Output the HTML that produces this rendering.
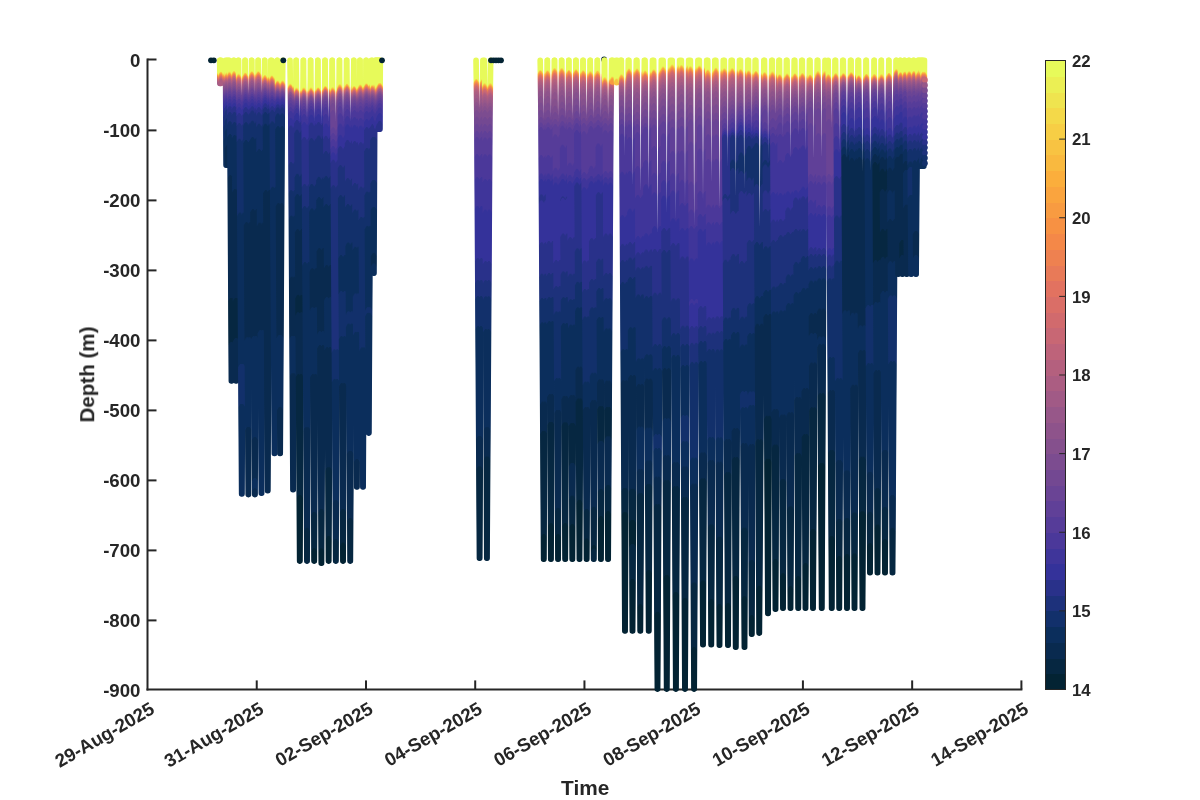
<!DOCTYPE html><html><head><meta charset="utf-8"><title>Glider temperature section</title><style>html,body{margin:0;padding:0;background:#fff}body{width:1200px;height:800px;overflow:hidden}svg{display:block}</style></head><body><svg width="1200" height="800" viewBox="0 0 1200 800">
<defs>
<linearGradient id="g0" gradientUnits="userSpaceOnUse" x1="0" y1="57.5" x2="0" y2="86.2"><stop offset="0.000" stop-color="#e7fa5a"/><stop offset="0.565" stop-color="#e7fa5a"/><stop offset="0.586" stop-color="#f4d949"/><stop offset="0.628" stop-color="#fbae3c"/><stop offset="0.669" stop-color="#f48848"/><stop offset="0.711" stop-color="#e27260"/><stop offset="0.816" stop-color="#b4607e"/><stop offset="0.837" stop-color="#b4607e"/><stop offset="0.879" stop-color="#a15a86"/><stop offset="1.000" stop-color="#a15a86"/></linearGradient>
<path id="p0" d="M219.70 60.3L219.86 83.4H219.94L220.10 60.3"/>
<linearGradient id="g0a" href="#g0" gradientTransform="translate(0 -1.1)"/>
<linearGradient id="g0b" href="#g0" gradientTransform="translate(0 -2.2)"/>
<linearGradient id="g0c" href="#g0" gradientTransform="translate(0 -3.1)"/>
<linearGradient id="g1" gradientUnits="userSpaceOnUse" x1="0" y1="57.5" x2="0" y2="86.2"><stop offset="0.000" stop-color="#e7fa5a"/><stop offset="0.586" stop-color="#e7fa5a"/><stop offset="0.607" stop-color="#ebef54"/><stop offset="0.628" stop-color="#f7ce45"/><stop offset="0.669" stop-color="#faa43e"/><stop offset="0.690" stop-color="#f79143"/><stop offset="0.711" stop-color="#f48848"/><stop offset="0.753" stop-color="#e27260"/><stop offset="0.879" stop-color="#ab5d82"/><stop offset="1.000" stop-color="#ab5d82"/></linearGradient>
<path id="p1" d="M220.60 60.3L220.84 83.4H220.96L221.20 60.3"/>
<linearGradient id="g1a" href="#g1" gradientTransform="translate(0 -1.1)"/>
<linearGradient id="g1b" href="#g1" gradientTransform="translate(0 -2.2)"/>
<linearGradient id="g1c" href="#g1" gradientTransform="translate(0 -3.1)"/>
<linearGradient id="g2" gradientUnits="userSpaceOnUse" x1="0" y1="57.5" x2="0" y2="168.0"><stop offset="0.000" stop-color="#e7fa5a"/><stop offset="0.152" stop-color="#e7fa5a"/><stop offset="0.157" stop-color="#ebef54"/><stop offset="0.163" stop-color="#f7ce45"/><stop offset="0.174" stop-color="#faa43e"/><stop offset="0.179" stop-color="#f79143"/><stop offset="0.185" stop-color="#f48848"/><stop offset="0.195" stop-color="#e27260"/><stop offset="0.223" stop-color="#b4607e"/><stop offset="0.228" stop-color="#b4607e"/><stop offset="0.239" stop-color="#a15a86"/><stop offset="0.244" stop-color="#a15a86"/><stop offset="0.250" stop-color="#975789"/><stop offset="0.261" stop-color="#975789"/><stop offset="0.266" stop-color="#8e538b"/><stop offset="0.277" stop-color="#8e538b"/><stop offset="0.282" stop-color="#85508d"/><stop offset="0.288" stop-color="#85508d"/><stop offset="0.293" stop-color="#7c4c90"/><stop offset="0.304" stop-color="#7c4c90"/><stop offset="0.309" stop-color="#734892"/><stop offset="0.320" stop-color="#734892"/><stop offset="0.326" stop-color="#6a4495"/><stop offset="0.337" stop-color="#6a4495"/><stop offset="0.342" stop-color="#604098"/><stop offset="0.358" stop-color="#604098"/><stop offset="0.364" stop-color="#563c99"/><stop offset="0.385" stop-color="#563c99"/><stop offset="0.391" stop-color="#4b389a"/><stop offset="0.407" stop-color="#4b389a"/><stop offset="0.413" stop-color="#3f359a"/><stop offset="0.445" stop-color="#3f359a"/><stop offset="0.451" stop-color="#34329a"/><stop offset="0.478" stop-color="#34329a"/><stop offset="0.483" stop-color="#29318a"/><stop offset="0.538" stop-color="#29318a"/><stop offset="0.543" stop-color="#1d317b"/><stop offset="0.630" stop-color="#1d317b"/><stop offset="0.635" stop-color="#12306b"/><stop offset="0.749" stop-color="#12306b"/><stop offset="0.755" stop-color="#0b2e5c"/><stop offset="1.000" stop-color="#0b2e5c"/></linearGradient>
<path id="p2" d="M225.50 60.3L226.10 165.2H226.40L227.00 60.3"/>
<linearGradient id="g2a" href="#g2" gradientTransform="translate(0 -1.1)"/>
<linearGradient id="g2b" href="#g2" gradientTransform="translate(0 -2.2)"/>
<linearGradient id="g2c" href="#g2" gradientTransform="translate(0 -3.1)"/>
<linearGradient id="g3" gradientUnits="userSpaceOnUse" x1="0" y1="57.5" x2="0" y2="168.0"><stop offset="0.000" stop-color="#e7fa5a"/><stop offset="0.157" stop-color="#e7fa5a"/><stop offset="0.163" stop-color="#ebef54"/><stop offset="0.168" stop-color="#f7ce45"/><stop offset="0.179" stop-color="#faa43e"/><stop offset="0.190" stop-color="#ee8150"/><stop offset="0.201" stop-color="#e27260"/><stop offset="0.206" stop-color="#d16a6d"/><stop offset="0.223" stop-color="#b4607e"/><stop offset="0.228" stop-color="#b4607e"/><stop offset="0.239" stop-color="#a15a86"/><stop offset="0.244" stop-color="#a15a86"/><stop offset="0.250" stop-color="#975789"/><stop offset="0.255" stop-color="#975789"/><stop offset="0.261" stop-color="#8e538b"/><stop offset="0.271" stop-color="#8e538b"/><stop offset="0.277" stop-color="#85508d"/><stop offset="0.282" stop-color="#85508d"/><stop offset="0.288" stop-color="#7c4c90"/><stop offset="0.299" stop-color="#7c4c90"/><stop offset="0.304" stop-color="#734892"/><stop offset="0.315" stop-color="#734892"/><stop offset="0.320" stop-color="#6a4495"/><stop offset="0.331" stop-color="#6a4495"/><stop offset="0.337" stop-color="#604098"/><stop offset="0.347" stop-color="#604098"/><stop offset="0.353" stop-color="#563c99"/><stop offset="0.369" stop-color="#563c99"/><stop offset="0.375" stop-color="#4b389a"/><stop offset="0.391" stop-color="#4b389a"/><stop offset="0.396" stop-color="#3f359a"/><stop offset="0.423" stop-color="#3f359a"/><stop offset="0.429" stop-color="#34329a"/><stop offset="0.456" stop-color="#34329a"/><stop offset="0.461" stop-color="#29318a"/><stop offset="0.494" stop-color="#29318a"/><stop offset="0.500" stop-color="#1d317b"/><stop offset="0.576" stop-color="#1d317b"/><stop offset="0.581" stop-color="#12306b"/><stop offset="0.668" stop-color="#12306b"/><stop offset="0.673" stop-color="#0b2e5c"/><stop offset="0.814" stop-color="#0b2e5c"/><stop offset="0.820" stop-color="#092a4f"/><stop offset="1.000" stop-color="#092a4f"/></linearGradient>
<path id="p3" d="M227.00 60.3L227.65 165.2H227.95L228.50 60.3"/>
<linearGradient id="g3a" href="#g3" gradientTransform="translate(0 -1.1)"/>
<linearGradient id="g3b" href="#g3" gradientTransform="translate(0 -2.2)"/>
<linearGradient id="g3c" href="#g3" gradientTransform="translate(0 -3.1)"/>
<linearGradient id="g4" gradientUnits="userSpaceOnUse" x1="0" y1="57.5" x2="0" y2="383.8"><stop offset="0.000" stop-color="#e7fa5a"/><stop offset="0.051" stop-color="#e7fa5a"/><stop offset="0.053" stop-color="#ebef54"/><stop offset="0.057" stop-color="#f8c342"/><stop offset="0.059" stop-color="#faa43e"/><stop offset="0.061" stop-color="#f89b41"/><stop offset="0.063" stop-color="#f48848"/><stop offset="0.066" stop-color="#e27260"/><stop offset="0.077" stop-color="#ab5d82"/><stop offset="0.079" stop-color="#ab5d82"/><stop offset="0.081" stop-color="#a15a86"/><stop offset="0.083" stop-color="#a15a86"/><stop offset="0.085" stop-color="#975789"/><stop offset="0.086" stop-color="#975789"/><stop offset="0.088" stop-color="#8e538b"/><stop offset="0.092" stop-color="#8e538b"/><stop offset="0.094" stop-color="#85508d"/><stop offset="0.097" stop-color="#85508d"/><stop offset="0.099" stop-color="#7c4c90"/><stop offset="0.101" stop-color="#7c4c90"/><stop offset="0.103" stop-color="#734892"/><stop offset="0.107" stop-color="#734892"/><stop offset="0.108" stop-color="#6a4495"/><stop offset="0.112" stop-color="#6a4495"/><stop offset="0.114" stop-color="#604098"/><stop offset="0.120" stop-color="#604098"/><stop offset="0.121" stop-color="#563c99"/><stop offset="0.127" stop-color="#563c99"/><stop offset="0.129" stop-color="#4b389a"/><stop offset="0.136" stop-color="#4b389a"/><stop offset="0.138" stop-color="#3f359a"/><stop offset="0.147" stop-color="#3f359a"/><stop offset="0.149" stop-color="#34329a"/><stop offset="0.158" stop-color="#34329a"/><stop offset="0.160" stop-color="#29318a"/><stop offset="0.175" stop-color="#29318a"/><stop offset="0.177" stop-color="#1d317b"/><stop offset="0.204" stop-color="#1d317b"/><stop offset="0.206" stop-color="#12306b"/><stop offset="0.243" stop-color="#12306b"/><stop offset="0.245" stop-color="#0b2e5c"/><stop offset="0.370" stop-color="#0b2e5c"/><stop offset="0.371" stop-color="#092a4f"/><stop offset="0.745" stop-color="#092a4f"/><stop offset="0.747" stop-color="#062741"/><stop offset="0.881" stop-color="#062741"/><stop offset="0.883" stop-color="#092a4f"/><stop offset="1.000" stop-color="#092a4f"/></linearGradient>
<path id="p4" d="M229.30 60.3L229.86 116.3L231.36 381.0H231.66L233.17 116.3L233.72 60.3"/>
<linearGradient id="g4a" href="#g4" gradientTransform="translate(0 -1.1)"/>
<linearGradient id="g4b" href="#g4" gradientTransform="translate(0 -2.2)"/>
<linearGradient id="g4c" href="#g4" gradientTransform="translate(0 -3.1)"/>
<linearGradient id="g5" gradientUnits="userSpaceOnUse" x1="0" y1="57.5" x2="0" y2="383.8"><stop offset="0.000" stop-color="#e7fa5a"/><stop offset="0.050" stop-color="#e7fa5a"/><stop offset="0.051" stop-color="#ebef54"/><stop offset="0.053" stop-color="#f7ce45"/><stop offset="0.057" stop-color="#faa43e"/><stop offset="0.061" stop-color="#ee8150"/><stop offset="0.066" stop-color="#da6e67"/><stop offset="0.068" stop-color="#c86774"/><stop offset="0.070" stop-color="#c86774"/><stop offset="0.075" stop-color="#ab5d82"/><stop offset="0.077" stop-color="#ab5d82"/><stop offset="0.079" stop-color="#a15a86"/><stop offset="0.081" stop-color="#a15a86"/><stop offset="0.083" stop-color="#975789"/><stop offset="0.085" stop-color="#975789"/><stop offset="0.086" stop-color="#8e538b"/><stop offset="0.090" stop-color="#8e538b"/><stop offset="0.092" stop-color="#85508d"/><stop offset="0.096" stop-color="#85508d"/><stop offset="0.097" stop-color="#7c4c90"/><stop offset="0.101" stop-color="#7c4c90"/><stop offset="0.103" stop-color="#734892"/><stop offset="0.107" stop-color="#734892"/><stop offset="0.108" stop-color="#6a4495"/><stop offset="0.112" stop-color="#6a4495"/><stop offset="0.114" stop-color="#604098"/><stop offset="0.120" stop-color="#604098"/><stop offset="0.121" stop-color="#563c99"/><stop offset="0.127" stop-color="#563c99"/><stop offset="0.129" stop-color="#4b389a"/><stop offset="0.136" stop-color="#4b389a"/><stop offset="0.138" stop-color="#3f359a"/><stop offset="0.147" stop-color="#3f359a"/><stop offset="0.149" stop-color="#34329a"/><stop offset="0.158" stop-color="#34329a"/><stop offset="0.160" stop-color="#29318a"/><stop offset="0.175" stop-color="#29318a"/><stop offset="0.177" stop-color="#1d317b"/><stop offset="0.206" stop-color="#1d317b"/><stop offset="0.208" stop-color="#12306b"/><stop offset="0.246" stop-color="#12306b"/><stop offset="0.248" stop-color="#0b2e5c"/><stop offset="0.412" stop-color="#0b2e5c"/><stop offset="0.414" stop-color="#092a4f"/><stop offset="0.747" stop-color="#092a4f"/><stop offset="0.748" stop-color="#062741"/><stop offset="0.868" stop-color="#062741"/><stop offset="0.870" stop-color="#092a4f"/><stop offset="1.000" stop-color="#092a4f"/></linearGradient>
<path id="p5" d="M233.92 60.3L234.48 116.3L235.99 381.0H236.29L237.79 116.3L238.35 60.3"/>
<linearGradient id="g5a" href="#g5" gradientTransform="translate(0 -1.1)"/>
<linearGradient id="g5b" href="#g5" gradientTransform="translate(0 -2.2)"/>
<linearGradient id="g5c" href="#g5" gradientTransform="translate(0 -3.1)"/>
<linearGradient id="g6" gradientUnits="userSpaceOnUse" x1="0" y1="57.5" x2="0" y2="496.7"><stop offset="0.000" stop-color="#e7fa5a"/><stop offset="0.042" stop-color="#e7fa5a"/><stop offset="0.044" stop-color="#ebef54"/><stop offset="0.048" stop-color="#fbae3c"/><stop offset="0.051" stop-color="#f48848"/><stop offset="0.053" stop-color="#e27260"/><stop offset="0.059" stop-color="#be637a"/><stop offset="0.060" stop-color="#be637a"/><stop offset="0.063" stop-color="#ab5d82"/><stop offset="0.064" stop-color="#ab5d82"/><stop offset="0.066" stop-color="#a15a86"/><stop offset="0.067" stop-color="#a15a86"/><stop offset="0.068" stop-color="#975789"/><stop offset="0.071" stop-color="#975789"/><stop offset="0.072" stop-color="#8e538b"/><stop offset="0.074" stop-color="#8e538b"/><stop offset="0.075" stop-color="#85508d"/><stop offset="0.078" stop-color="#85508d"/><stop offset="0.079" stop-color="#7c4c90"/><stop offset="0.081" stop-color="#7c4c90"/><stop offset="0.082" stop-color="#734892"/><stop offset="0.085" stop-color="#734892"/><stop offset="0.086" stop-color="#6a4495"/><stop offset="0.090" stop-color="#6a4495"/><stop offset="0.092" stop-color="#604098"/><stop offset="0.096" stop-color="#604098"/><stop offset="0.097" stop-color="#563c99"/><stop offset="0.101" stop-color="#563c99"/><stop offset="0.102" stop-color="#4b389a"/><stop offset="0.111" stop-color="#4b389a"/><stop offset="0.112" stop-color="#3f359a"/><stop offset="0.119" stop-color="#3f359a"/><stop offset="0.120" stop-color="#34329a"/><stop offset="0.133" stop-color="#34329a"/><stop offset="0.134" stop-color="#29318a"/><stop offset="0.156" stop-color="#29318a"/><stop offset="0.157" stop-color="#1d317b"/><stop offset="0.191" stop-color="#1d317b"/><stop offset="0.193" stop-color="#12306b"/><stop offset="0.359" stop-color="#12306b"/><stop offset="0.361" stop-color="#0b2e5c"/><stop offset="0.705" stop-color="#0b2e5c"/><stop offset="0.706" stop-color="#12306b"/><stop offset="0.795" stop-color="#12306b"/><stop offset="0.796" stop-color="#0b2e5c"/><stop offset="1.000" stop-color="#0b2e5c"/></linearGradient>
<path id="p6" d="M238.50 60.3L239.28 116.3L241.65 493.9H241.95L244.32 116.3L245.10 60.3"/>
<linearGradient id="g6a" href="#g6" gradientTransform="translate(0 -1.1)"/>
<linearGradient id="g6b" href="#g6" gradientTransform="translate(0 -2.2)"/>
<linearGradient id="g6c" href="#g6" gradientTransform="translate(0 -3.1)"/>
<linearGradient id="g7" gradientUnits="userSpaceOnUse" x1="0" y1="57.5" x2="0" y2="497.4"><stop offset="0.000" stop-color="#e7fa5a"/><stop offset="0.041" stop-color="#e7fa5a"/><stop offset="0.042" stop-color="#f4d949"/><stop offset="0.045" stop-color="#fbae3c"/><stop offset="0.048" stop-color="#f48848"/><stop offset="0.050" stop-color="#e27260"/><stop offset="0.057" stop-color="#b4607e"/><stop offset="0.059" stop-color="#b4607e"/><stop offset="0.061" stop-color="#a15a86"/><stop offset="0.063" stop-color="#a15a86"/><stop offset="0.064" stop-color="#975789"/><stop offset="0.067" stop-color="#975789"/><stop offset="0.068" stop-color="#8e538b"/><stop offset="0.070" stop-color="#8e538b"/><stop offset="0.071" stop-color="#85508d"/><stop offset="0.074" stop-color="#85508d"/><stop offset="0.075" stop-color="#7c4c90"/><stop offset="0.076" stop-color="#7c4c90"/><stop offset="0.078" stop-color="#734892"/><stop offset="0.080" stop-color="#734892"/><stop offset="0.082" stop-color="#6a4495"/><stop offset="0.085" stop-color="#6a4495"/><stop offset="0.086" stop-color="#604098"/><stop offset="0.090" stop-color="#604098"/><stop offset="0.091" stop-color="#563c99"/><stop offset="0.095" stop-color="#563c99"/><stop offset="0.097" stop-color="#4b389a"/><stop offset="0.101" stop-color="#4b389a"/><stop offset="0.102" stop-color="#3f359a"/><stop offset="0.109" stop-color="#3f359a"/><stop offset="0.110" stop-color="#34329a"/><stop offset="0.119" stop-color="#34329a"/><stop offset="0.120" stop-color="#29318a"/><stop offset="0.131" stop-color="#29318a"/><stop offset="0.132" stop-color="#1d317b"/><stop offset="0.154" stop-color="#1d317b"/><stop offset="0.155" stop-color="#12306b"/><stop offset="0.194" stop-color="#12306b"/><stop offset="0.195" stop-color="#0b2e5c"/><stop offset="0.381" stop-color="#0b2e5c"/><stop offset="0.382" stop-color="#092a4f"/><stop offset="0.642" stop-color="#092a4f"/><stop offset="0.644" stop-color="#0b2e5c"/><stop offset="0.846" stop-color="#0b2e5c"/><stop offset="0.847" stop-color="#092a4f"/><stop offset="1.000" stop-color="#092a4f"/></linearGradient>
<path id="p7" d="M245.10 60.3L245.88 116.3L248.25 494.6H248.55L250.88 116.3L251.65 60.3"/>
<linearGradient id="g7a" href="#g7" gradientTransform="translate(0 -1.1)"/>
<linearGradient id="g7b" href="#g7" gradientTransform="translate(0 -2.2)"/>
<linearGradient id="g7c" href="#g7" gradientTransform="translate(0 -3.1)"/>
<linearGradient id="g8" gradientUnits="userSpaceOnUse" x1="0" y1="57.5" x2="0" y2="497.4"><stop offset="0.000" stop-color="#e7fa5a"/><stop offset="0.037" stop-color="#e7fa5a"/><stop offset="0.038" stop-color="#ebef54"/><stop offset="0.040" stop-color="#f4d949"/><stop offset="0.041" stop-color="#f9b93f"/><stop offset="0.042" stop-color="#faa43e"/><stop offset="0.044" stop-color="#f89b41"/><stop offset="0.045" stop-color="#f48848"/><stop offset="0.048" stop-color="#e27260"/><stop offset="0.055" stop-color="#b4607e"/><stop offset="0.056" stop-color="#b4607e"/><stop offset="0.059" stop-color="#a15a86"/><stop offset="0.060" stop-color="#a15a86"/><stop offset="0.061" stop-color="#975789"/><stop offset="0.064" stop-color="#975789"/><stop offset="0.065" stop-color="#8e538b"/><stop offset="0.068" stop-color="#8e538b"/><stop offset="0.070" stop-color="#85508d"/><stop offset="0.072" stop-color="#85508d"/><stop offset="0.074" stop-color="#7c4c90"/><stop offset="0.075" stop-color="#7c4c90"/><stop offset="0.076" stop-color="#734892"/><stop offset="0.079" stop-color="#734892"/><stop offset="0.080" stop-color="#6a4495"/><stop offset="0.085" stop-color="#6a4495"/><stop offset="0.086" stop-color="#604098"/><stop offset="0.089" stop-color="#604098"/><stop offset="0.090" stop-color="#563c99"/><stop offset="0.094" stop-color="#563c99"/><stop offset="0.095" stop-color="#4b389a"/><stop offset="0.101" stop-color="#4b389a"/><stop offset="0.102" stop-color="#3f359a"/><stop offset="0.109" stop-color="#3f359a"/><stop offset="0.110" stop-color="#34329a"/><stop offset="0.117" stop-color="#34329a"/><stop offset="0.119" stop-color="#29318a"/><stop offset="0.127" stop-color="#29318a"/><stop offset="0.128" stop-color="#1d317b"/><stop offset="0.150" stop-color="#1d317b"/><stop offset="0.151" stop-color="#12306b"/><stop offset="0.187" stop-color="#12306b"/><stop offset="0.188" stop-color="#0b2e5c"/><stop offset="0.351" stop-color="#0b2e5c"/><stop offset="0.352" stop-color="#092a4f"/><stop offset="0.640" stop-color="#092a4f"/><stop offset="0.641" stop-color="#0b2e5c"/><stop offset="0.869" stop-color="#0b2e5c"/><stop offset="0.870" stop-color="#092a4f"/><stop offset="0.962" stop-color="#092a4f"/><stop offset="0.963" stop-color="#0b2e5c"/><stop offset="0.986" stop-color="#0b2e5c"/><stop offset="0.987" stop-color="#092a4f"/><stop offset="1.000" stop-color="#092a4f"/></linearGradient>
<path id="p8" d="M251.65 60.3L252.42 116.3L254.75 494.6H255.05L257.42 116.3L258.20 60.3"/>
<linearGradient id="g8a" href="#g8" gradientTransform="translate(0 -1.1)"/>
<linearGradient id="g8b" href="#g8" gradientTransform="translate(0 -2.2)"/>
<linearGradient id="g8c" href="#g8" gradientTransform="translate(0 -3.1)"/>
<linearGradient id="g9" gradientUnits="userSpaceOnUse" x1="0" y1="57.5" x2="0" y2="496.0"><stop offset="0.000" stop-color="#e7fa5a"/><stop offset="0.037" stop-color="#e7fa5a"/><stop offset="0.038" stop-color="#ebef54"/><stop offset="0.040" stop-color="#f4d949"/><stop offset="0.041" stop-color="#f9b93f"/><stop offset="0.042" stop-color="#faa43e"/><stop offset="0.044" stop-color="#f89b41"/><stop offset="0.045" stop-color="#f48848"/><stop offset="0.048" stop-color="#e27260"/><stop offset="0.053" stop-color="#be637a"/><stop offset="0.055" stop-color="#be637a"/><stop offset="0.057" stop-color="#ab5d82"/><stop offset="0.059" stop-color="#ab5d82"/><stop offset="0.060" stop-color="#a15a86"/><stop offset="0.062" stop-color="#a15a86"/><stop offset="0.063" stop-color="#975789"/><stop offset="0.064" stop-color="#975789"/><stop offset="0.066" stop-color="#8e538b"/><stop offset="0.070" stop-color="#8e538b"/><stop offset="0.071" stop-color="#85508d"/><stop offset="0.073" stop-color="#85508d"/><stop offset="0.074" stop-color="#7c4c90"/><stop offset="0.077" stop-color="#7c4c90"/><stop offset="0.078" stop-color="#734892"/><stop offset="0.081" stop-color="#734892"/><stop offset="0.082" stop-color="#6a4495"/><stop offset="0.085" stop-color="#6a4495"/><stop offset="0.086" stop-color="#604098"/><stop offset="0.090" stop-color="#604098"/><stop offset="0.092" stop-color="#563c99"/><stop offset="0.096" stop-color="#563c99"/><stop offset="0.097" stop-color="#4b389a"/><stop offset="0.103" stop-color="#4b389a"/><stop offset="0.104" stop-color="#3f359a"/><stop offset="0.111" stop-color="#3f359a"/><stop offset="0.112" stop-color="#34329a"/><stop offset="0.119" stop-color="#34329a"/><stop offset="0.120" stop-color="#29318a"/><stop offset="0.131" stop-color="#29318a"/><stop offset="0.133" stop-color="#1d317b"/><stop offset="0.157" stop-color="#1d317b"/><stop offset="0.159" stop-color="#12306b"/><stop offset="0.215" stop-color="#12306b"/><stop offset="0.216" stop-color="#0b2e5c"/><stop offset="0.383" stop-color="#0b2e5c"/><stop offset="0.384" stop-color="#092a4f"/><stop offset="0.628" stop-color="#092a4f"/><stop offset="0.629" stop-color="#0b2e5c"/><stop offset="1.000" stop-color="#0b2e5c"/></linearGradient>
<path id="p9" d="M258.20 60.3L258.98 116.3L261.35 493.2H261.65L263.94 116.3L264.70 60.3"/>
<linearGradient id="g9a" href="#g9" gradientTransform="translate(0 -1.1)"/>
<linearGradient id="g9b" href="#g9" gradientTransform="translate(0 -2.2)"/>
<linearGradient id="g9c" href="#g9" gradientTransform="translate(0 -3.1)"/>
<linearGradient id="g10" gradientUnits="userSpaceOnUse" x1="0" y1="57.5" x2="0" y2="493.6"><stop offset="0.000" stop-color="#e7fa5a"/><stop offset="0.047" stop-color="#e7fa5a"/><stop offset="0.048" stop-color="#f4d949"/><stop offset="0.051" stop-color="#fbae3c"/><stop offset="0.054" stop-color="#f48848"/><stop offset="0.056" stop-color="#e27260"/><stop offset="0.058" stop-color="#da6e67"/><stop offset="0.059" stop-color="#c86774"/><stop offset="0.062" stop-color="#b4607e"/><stop offset="0.063" stop-color="#b4607e"/><stop offset="0.067" stop-color="#975789"/><stop offset="0.069" stop-color="#975789"/><stop offset="0.070" stop-color="#8e538b"/><stop offset="0.072" stop-color="#8e538b"/><stop offset="0.073" stop-color="#85508d"/><stop offset="0.074" stop-color="#85508d"/><stop offset="0.076" stop-color="#7c4c90"/><stop offset="0.077" stop-color="#7c4c90"/><stop offset="0.078" stop-color="#734892"/><stop offset="0.080" stop-color="#734892"/><stop offset="0.081" stop-color="#6a4495"/><stop offset="0.084" stop-color="#6a4495"/><stop offset="0.085" stop-color="#604098"/><stop offset="0.088" stop-color="#604098"/><stop offset="0.089" stop-color="#563c99"/><stop offset="0.092" stop-color="#563c99"/><stop offset="0.094" stop-color="#4b389a"/><stop offset="0.098" stop-color="#4b389a"/><stop offset="0.099" stop-color="#3f359a"/><stop offset="0.103" stop-color="#3f359a"/><stop offset="0.105" stop-color="#34329a"/><stop offset="0.111" stop-color="#34329a"/><stop offset="0.113" stop-color="#29318a"/><stop offset="0.120" stop-color="#29318a"/><stop offset="0.121" stop-color="#1d317b"/><stop offset="0.132" stop-color="#1d317b"/><stop offset="0.133" stop-color="#12306b"/><stop offset="0.158" stop-color="#12306b"/><stop offset="0.160" stop-color="#0b2e5c"/><stop offset="0.310" stop-color="#0b2e5c"/><stop offset="0.311" stop-color="#092a4f"/><stop offset="1.000" stop-color="#092a4f"/></linearGradient>
<path id="p10" d="M264.70 60.3L265.44 116.3L267.55 490.8H267.85L270.05 116.3L270.80 60.3"/>
<linearGradient id="g10a" href="#g10" gradientTransform="translate(0 -1.1)"/>
<linearGradient id="g10b" href="#g10" gradientTransform="translate(0 -2.2)"/>
<linearGradient id="g10c" href="#g10" gradientTransform="translate(0 -3.1)"/>
<linearGradient id="g11" gradientUnits="userSpaceOnUse" x1="0" y1="57.5" x2="0" y2="456.2"><stop offset="0.000" stop-color="#e7fa5a"/><stop offset="0.051" stop-color="#e7fa5a"/><stop offset="0.053" stop-color="#ebef54"/><stop offset="0.054" stop-color="#f4d949"/><stop offset="0.056" stop-color="#f9b93f"/><stop offset="0.059" stop-color="#f79143"/><stop offset="0.060" stop-color="#f48848"/><stop offset="0.063" stop-color="#e27260"/><stop offset="0.072" stop-color="#ab5d82"/><stop offset="0.074" stop-color="#ab5d82"/><stop offset="0.077" stop-color="#975789"/><stop offset="0.078" stop-color="#975789"/><stop offset="0.080" stop-color="#8e538b"/><stop offset="0.081" stop-color="#8e538b"/><stop offset="0.083" stop-color="#85508d"/><stop offset="0.084" stop-color="#85508d"/><stop offset="0.086" stop-color="#7c4c90"/><stop offset="0.087" stop-color="#7c4c90"/><stop offset="0.089" stop-color="#734892"/><stop offset="0.092" stop-color="#734892"/><stop offset="0.093" stop-color="#6a4495"/><stop offset="0.095" stop-color="#6a4495"/><stop offset="0.096" stop-color="#604098"/><stop offset="0.101" stop-color="#604098"/><stop offset="0.102" stop-color="#563c99"/><stop offset="0.105" stop-color="#563c99"/><stop offset="0.107" stop-color="#4b389a"/><stop offset="0.111" stop-color="#4b389a"/><stop offset="0.113" stop-color="#3f359a"/><stop offset="0.120" stop-color="#3f359a"/><stop offset="0.122" stop-color="#34329a"/><stop offset="0.129" stop-color="#34329a"/><stop offset="0.131" stop-color="#29318a"/><stop offset="0.138" stop-color="#29318a"/><stop offset="0.140" stop-color="#1d317b"/><stop offset="0.167" stop-color="#1d317b"/><stop offset="0.169" stop-color="#12306b"/><stop offset="0.331" stop-color="#12306b"/><stop offset="0.333" stop-color="#0b2e5c"/><stop offset="1.000" stop-color="#0b2e5c"/></linearGradient>
<path id="p11" d="M271.70 60.3L272.28 116.3L274.35 453.4H274.65L276.59 116.3L277.15 60.3"/>
<linearGradient id="g11a" href="#g11" gradientTransform="translate(0 -1.1)"/>
<linearGradient id="g11b" href="#g11" gradientTransform="translate(0 -2.2)"/>
<linearGradient id="g11c" href="#g11" gradientTransform="translate(0 -3.1)"/>
<linearGradient id="g12" gradientUnits="userSpaceOnUse" x1="0" y1="57.5" x2="0" y2="456.2"><stop offset="0.000" stop-color="#e7fa5a"/><stop offset="0.065" stop-color="#e7fa5a"/><stop offset="0.066" stop-color="#efe44f"/><stop offset="0.068" stop-color="#f8c342"/><stop offset="0.069" stop-color="#fbae3c"/><stop offset="0.072" stop-color="#f48848"/><stop offset="0.075" stop-color="#e27260"/><stop offset="0.077" stop-color="#d16a6d"/><stop offset="0.086" stop-color="#975789"/><stop offset="0.089" stop-color="#85508d"/><stop offset="0.090" stop-color="#85508d"/><stop offset="0.093" stop-color="#734892"/><stop offset="0.095" stop-color="#734892"/><stop offset="0.096" stop-color="#6a4495"/><stop offset="0.098" stop-color="#6a4495"/><stop offset="0.099" stop-color="#604098"/><stop offset="0.102" stop-color="#604098"/><stop offset="0.104" stop-color="#563c99"/><stop offset="0.105" stop-color="#563c99"/><stop offset="0.107" stop-color="#4b389a"/><stop offset="0.110" stop-color="#4b389a"/><stop offset="0.111" stop-color="#3f359a"/><stop offset="0.117" stop-color="#3f359a"/><stop offset="0.119" stop-color="#34329a"/><stop offset="0.125" stop-color="#34329a"/><stop offset="0.126" stop-color="#29318a"/><stop offset="0.132" stop-color="#29318a"/><stop offset="0.134" stop-color="#1d317b"/><stop offset="0.147" stop-color="#1d317b"/><stop offset="0.149" stop-color="#12306b"/><stop offset="0.179" stop-color="#12306b"/><stop offset="0.181" stop-color="#0b2e5c"/><stop offset="0.372" stop-color="#0b2e5c"/><stop offset="0.373" stop-color="#092a4f"/><stop offset="0.703" stop-color="#092a4f"/><stop offset="0.704" stop-color="#0b2e5c"/><stop offset="0.883" stop-color="#0b2e5c"/><stop offset="0.885" stop-color="#092a4f"/><stop offset="1.000" stop-color="#092a4f"/></linearGradient>
<path id="p12" d="M277.35 60.3L277.92 116.3L279.95 453.4H280.25L282.24 116.3L282.80 60.3"/>
<linearGradient id="g12a" href="#g12" gradientTransform="translate(0 -1.1)"/>
<linearGradient id="g12b" href="#g12" gradientTransform="translate(0 -2.2)"/>
<linearGradient id="g12c" href="#g12" gradientTransform="translate(0 -3.1)"/>
<linearGradient id="g13" gradientUnits="userSpaceOnUse" x1="0" y1="57.5" x2="0" y2="492.5"><stop offset="0.000" stop-color="#e7fa5a"/><stop offset="0.066" stop-color="#e7fa5a"/><stop offset="0.068" stop-color="#ebef54"/><stop offset="0.069" stop-color="#f4d949"/><stop offset="0.070" stop-color="#f9b93f"/><stop offset="0.073" stop-color="#f79143"/><stop offset="0.074" stop-color="#ee8150"/><stop offset="0.076" stop-color="#e87a58"/><stop offset="0.077" stop-color="#da6e67"/><stop offset="0.086" stop-color="#a15a86"/><stop offset="0.088" stop-color="#8e538b"/><stop offset="0.090" stop-color="#8e538b"/><stop offset="0.091" stop-color="#85508d"/><stop offset="0.092" stop-color="#85508d"/><stop offset="0.094" stop-color="#7c4c90"/><stop offset="0.097" stop-color="#7c4c90"/><stop offset="0.098" stop-color="#734892"/><stop offset="0.099" stop-color="#734892"/><stop offset="0.101" stop-color="#6a4495"/><stop offset="0.105" stop-color="#6a4495"/><stop offset="0.106" stop-color="#604098"/><stop offset="0.112" stop-color="#604098"/><stop offset="0.113" stop-color="#563c99"/><stop offset="0.120" stop-color="#563c99"/><stop offset="0.121" stop-color="#4b389a"/><stop offset="0.130" stop-color="#4b389a"/><stop offset="0.131" stop-color="#3f359a"/><stop offset="0.145" stop-color="#3f359a"/><stop offset="0.146" stop-color="#34329a"/><stop offset="0.163" stop-color="#34329a"/><stop offset="0.164" stop-color="#29318a"/><stop offset="0.247" stop-color="#29318a"/><stop offset="0.248" stop-color="#1d317b"/><stop offset="0.312" stop-color="#1d317b"/><stop offset="0.313" stop-color="#12306b"/><stop offset="0.370" stop-color="#12306b"/><stop offset="0.371" stop-color="#0b2e5c"/><stop offset="0.510" stop-color="#0b2e5c"/><stop offset="0.512" stop-color="#092a4f"/><stop offset="0.647" stop-color="#092a4f"/><stop offset="0.648" stop-color="#0b2e5c"/><stop offset="0.732" stop-color="#0b2e5c"/><stop offset="0.734" stop-color="#092a4f"/><stop offset="1.000" stop-color="#092a4f"/></linearGradient>
<path id="p13" d="M290.00 60.3L290.75 116.3L292.94 489.7H293.24L295.43 116.3L296.18 60.3"/>
<linearGradient id="g13a" href="#g13" gradientTransform="translate(0 -1.1)"/>
<linearGradient id="g13b" href="#g13" gradientTransform="translate(0 -2.2)"/>
<linearGradient id="g13c" href="#g13" gradientTransform="translate(0 -3.1)"/>
<linearGradient id="g14" gradientUnits="userSpaceOnUse" x1="0" y1="57.5" x2="0" y2="563.9"><stop offset="0.000" stop-color="#e7fa5a"/><stop offset="0.065" stop-color="#e7fa5a"/><stop offset="0.066" stop-color="#efe44f"/><stop offset="0.068" stop-color="#f8c342"/><stop offset="0.069" stop-color="#fbae3c"/><stop offset="0.070" stop-color="#f79143"/><stop offset="0.072" stop-color="#e27260"/><stop offset="0.073" stop-color="#da6e67"/><stop offset="0.075" stop-color="#c86774"/><stop offset="0.083" stop-color="#85508d"/><stop offset="0.084" stop-color="#85508d"/><stop offset="0.086" stop-color="#734892"/><stop offset="0.088" stop-color="#734892"/><stop offset="0.089" stop-color="#6a4495"/><stop offset="0.091" stop-color="#6a4495"/><stop offset="0.092" stop-color="#604098"/><stop offset="0.095" stop-color="#604098"/><stop offset="0.096" stop-color="#563c99"/><stop offset="0.100" stop-color="#563c99"/><stop offset="0.101" stop-color="#4b389a"/><stop offset="0.105" stop-color="#4b389a"/><stop offset="0.107" stop-color="#3f359a"/><stop offset="0.115" stop-color="#3f359a"/><stop offset="0.116" stop-color="#34329a"/><stop offset="0.129" stop-color="#34329a"/><stop offset="0.130" stop-color="#29318a"/><stop offset="0.148" stop-color="#29318a"/><stop offset="0.149" stop-color="#1d317b"/><stop offset="0.235" stop-color="#1d317b"/><stop offset="0.236" stop-color="#12306b"/><stop offset="0.275" stop-color="#12306b"/><stop offset="0.276" stop-color="#0b2e5c"/><stop offset="0.344" stop-color="#0b2e5c"/><stop offset="0.345" stop-color="#092a4f"/><stop offset="0.474" stop-color="#092a4f"/><stop offset="0.475" stop-color="#062741"/><stop offset="0.508" stop-color="#062741"/><stop offset="0.510" stop-color="#092a4f"/><stop offset="0.630" stop-color="#092a4f"/><stop offset="0.632" stop-color="#062741"/><stop offset="0.870" stop-color="#062741"/><stop offset="0.871" stop-color="#032333"/><stop offset="1.000" stop-color="#032333"/></linearGradient>
<path id="p14" d="M296.20 60.3L296.96 116.3L299.65 561.1H299.95L302.64 116.3L303.40 60.3"/>
<linearGradient id="g14a" href="#g14" gradientTransform="translate(0 -1.1)"/>
<linearGradient id="g14b" href="#g14" gradientTransform="translate(0 -2.2)"/>
<linearGradient id="g14c" href="#g14" gradientTransform="translate(0 -3.1)"/>
<linearGradient id="g15" gradientUnits="userSpaceOnUse" x1="0" y1="57.5" x2="0" y2="563.9"><stop offset="0.000" stop-color="#e7fa5a"/><stop offset="0.065" stop-color="#e7fa5a"/><stop offset="0.066" stop-color="#f4d949"/><stop offset="0.068" stop-color="#f8c342"/><stop offset="0.069" stop-color="#faa43e"/><stop offset="0.071" stop-color="#ee8150"/><stop offset="0.072" stop-color="#e87a58"/><stop offset="0.073" stop-color="#da6e67"/><stop offset="0.075" stop-color="#d16a6d"/><stop offset="0.076" stop-color="#be637a"/><stop offset="0.081" stop-color="#975789"/><stop offset="0.082" stop-color="#975789"/><stop offset="0.084" stop-color="#85508d"/><stop offset="0.085" stop-color="#85508d"/><stop offset="0.086" stop-color="#7c4c90"/><stop offset="0.088" stop-color="#7c4c90"/><stop offset="0.089" stop-color="#734892"/><stop offset="0.091" stop-color="#734892"/><stop offset="0.092" stop-color="#6a4495"/><stop offset="0.095" stop-color="#6a4495"/><stop offset="0.096" stop-color="#604098"/><stop offset="0.101" stop-color="#604098"/><stop offset="0.102" stop-color="#563c99"/><stop offset="0.107" stop-color="#563c99"/><stop offset="0.108" stop-color="#4b389a"/><stop offset="0.117" stop-color="#4b389a"/><stop offset="0.118" stop-color="#3f359a"/><stop offset="0.133" stop-color="#3f359a"/><stop offset="0.134" stop-color="#34329a"/><stop offset="0.162" stop-color="#34329a"/><stop offset="0.164" stop-color="#29318a"/><stop offset="0.255" stop-color="#29318a"/><stop offset="0.256" stop-color="#1d317b"/><stop offset="0.299" stop-color="#1d317b"/><stop offset="0.300" stop-color="#12306b"/><stop offset="0.410" stop-color="#12306b"/><stop offset="0.411" stop-color="#0b2e5c"/><stop offset="0.736" stop-color="#0b2e5c"/><stop offset="0.737" stop-color="#092a4f"/><stop offset="0.934" stop-color="#092a4f"/><stop offset="0.935" stop-color="#062741"/><stop offset="1.000" stop-color="#062741"/></linearGradient>
<path id="p15" d="M303.40 60.3L304.16 116.3L306.85 561.1H307.15L309.84 116.3L310.60 60.3"/>
<linearGradient id="g15a" href="#g15" gradientTransform="translate(0 -1.1)"/>
<linearGradient id="g15b" href="#g15" gradientTransform="translate(0 -2.2)"/>
<linearGradient id="g15c" href="#g15" gradientTransform="translate(0 -3.1)"/>
<linearGradient id="g16" gradientUnits="userSpaceOnUse" x1="0" y1="57.5" x2="0" y2="563.9"><stop offset="0.000" stop-color="#e7fa5a"/><stop offset="0.065" stop-color="#e7fa5a"/><stop offset="0.066" stop-color="#f4d949"/><stop offset="0.068" stop-color="#f8c342"/><stop offset="0.069" stop-color="#faa43e"/><stop offset="0.071" stop-color="#ee8150"/><stop offset="0.072" stop-color="#e27260"/><stop offset="0.073" stop-color="#da6e67"/><stop offset="0.075" stop-color="#c86774"/><stop offset="0.083" stop-color="#85508d"/><stop offset="0.084" stop-color="#85508d"/><stop offset="0.085" stop-color="#7c4c90"/><stop offset="0.086" stop-color="#7c4c90"/><stop offset="0.088" stop-color="#734892"/><stop offset="0.089" stop-color="#734892"/><stop offset="0.090" stop-color="#6a4495"/><stop offset="0.091" stop-color="#6a4495"/><stop offset="0.092" stop-color="#604098"/><stop offset="0.096" stop-color="#604098"/><stop offset="0.097" stop-color="#563c99"/><stop offset="0.101" stop-color="#563c99"/><stop offset="0.102" stop-color="#4b389a"/><stop offset="0.108" stop-color="#4b389a"/><stop offset="0.109" stop-color="#3f359a"/><stop offset="0.118" stop-color="#3f359a"/><stop offset="0.120" stop-color="#34329a"/><stop offset="0.134" stop-color="#34329a"/><stop offset="0.135" stop-color="#29318a"/><stop offset="0.165" stop-color="#29318a"/><stop offset="0.166" stop-color="#1d317b"/><stop offset="0.255" stop-color="#1d317b"/><stop offset="0.256" stop-color="#12306b"/><stop offset="0.303" stop-color="#12306b"/><stop offset="0.305" stop-color="#0b2e5c"/><stop offset="0.422" stop-color="#0b2e5c"/><stop offset="0.423" stop-color="#092a4f"/><stop offset="0.499" stop-color="#092a4f"/><stop offset="0.500" stop-color="#0b2e5c"/><stop offset="0.630" stop-color="#0b2e5c"/><stop offset="0.632" stop-color="#092a4f"/><stop offset="0.903" stop-color="#092a4f"/><stop offset="0.904" stop-color="#062741"/><stop offset="0.974" stop-color="#062741"/><stop offset="0.975" stop-color="#032333"/><stop offset="1.000" stop-color="#032333"/></linearGradient>
<path id="p16" d="M310.60 60.3L311.36 116.3L314.05 561.1H314.35L317.04 116.3L317.80 60.3"/>
<linearGradient id="g16a" href="#g16" gradientTransform="translate(0 -1.1)"/>
<linearGradient id="g16b" href="#g16" gradientTransform="translate(0 -2.2)"/>
<linearGradient id="g16c" href="#g16" gradientTransform="translate(0 -3.1)"/>
<linearGradient id="g17" gradientUnits="userSpaceOnUse" x1="0" y1="57.5" x2="0" y2="566.0"><stop offset="0.000" stop-color="#e7fa5a"/><stop offset="0.064" stop-color="#e7fa5a"/><stop offset="0.065" stop-color="#ebef54"/><stop offset="0.066" stop-color="#f7ce45"/><stop offset="0.067" stop-color="#f9b93f"/><stop offset="0.068" stop-color="#f89b41"/><stop offset="0.070" stop-color="#f48848"/><stop offset="0.072" stop-color="#da6e67"/><stop offset="0.074" stop-color="#c86774"/><stop offset="0.076" stop-color="#b4607e"/><stop offset="0.080" stop-color="#8e538b"/><stop offset="0.081" stop-color="#8e538b"/><stop offset="0.084" stop-color="#7c4c90"/><stop offset="0.085" stop-color="#7c4c90"/><stop offset="0.086" stop-color="#734892"/><stop offset="0.087" stop-color="#734892"/><stop offset="0.089" stop-color="#6a4495"/><stop offset="0.091" stop-color="#6a4495"/><stop offset="0.092" stop-color="#604098"/><stop offset="0.094" stop-color="#604098"/><stop offset="0.096" stop-color="#563c99"/><stop offset="0.100" stop-color="#563c99"/><stop offset="0.101" stop-color="#4b389a"/><stop offset="0.106" stop-color="#4b389a"/><stop offset="0.107" stop-color="#3f359a"/><stop offset="0.117" stop-color="#3f359a"/><stop offset="0.118" stop-color="#34329a"/><stop offset="0.132" stop-color="#34329a"/><stop offset="0.133" stop-color="#29318a"/><stop offset="0.159" stop-color="#29318a"/><stop offset="0.160" stop-color="#1d317b"/><stop offset="0.240" stop-color="#1d317b"/><stop offset="0.241" stop-color="#12306b"/><stop offset="0.280" stop-color="#12306b"/><stop offset="0.281" stop-color="#0b2e5c"/><stop offset="0.380" stop-color="#0b2e5c"/><stop offset="0.381" stop-color="#092a4f"/><stop offset="0.544" stop-color="#092a4f"/><stop offset="0.545" stop-color="#0b2e5c"/><stop offset="0.571" stop-color="#0b2e5c"/><stop offset="0.572" stop-color="#092a4f"/><stop offset="0.893" stop-color="#092a4f"/><stop offset="0.894" stop-color="#062741"/><stop offset="0.971" stop-color="#062741"/><stop offset="0.972" stop-color="#032333"/><stop offset="1.000" stop-color="#032333"/></linearGradient>
<path id="p17" d="M317.80 60.3L318.56 116.3L321.26 563.2H321.56L324.27 116.3L325.03 60.3"/>
<linearGradient id="g17a" href="#g17" gradientTransform="translate(0 -1.1)"/>
<linearGradient id="g17b" href="#g17" gradientTransform="translate(0 -2.2)"/>
<linearGradient id="g17c" href="#g17" gradientTransform="translate(0 -3.1)"/>
<linearGradient id="g18" gradientUnits="userSpaceOnUse" x1="0" y1="57.5" x2="0" y2="563.9"><stop offset="0.000" stop-color="#e7fa5a"/><stop offset="0.062" stop-color="#e7fa5a"/><stop offset="0.063" stop-color="#f4d949"/><stop offset="0.064" stop-color="#f8c342"/><stop offset="0.065" stop-color="#faa43e"/><stop offset="0.068" stop-color="#ee8150"/><stop offset="0.069" stop-color="#e27260"/><stop offset="0.070" stop-color="#da6e67"/><stop offset="0.071" stop-color="#c86774"/><stop offset="0.077" stop-color="#975789"/><stop offset="0.078" stop-color="#975789"/><stop offset="0.081" stop-color="#85508d"/><stop offset="0.082" stop-color="#85508d"/><stop offset="0.083" stop-color="#7c4c90"/><stop offset="0.084" stop-color="#7c4c90"/><stop offset="0.085" stop-color="#734892"/><stop offset="0.086" stop-color="#734892"/><stop offset="0.088" stop-color="#6a4495"/><stop offset="0.091" stop-color="#6a4495"/><stop offset="0.092" stop-color="#604098"/><stop offset="0.097" stop-color="#604098"/><stop offset="0.098" stop-color="#563c99"/><stop offset="0.104" stop-color="#563c99"/><stop offset="0.105" stop-color="#4b389a"/><stop offset="0.117" stop-color="#4b389a"/><stop offset="0.118" stop-color="#3f359a"/><stop offset="0.136" stop-color="#3f359a"/><stop offset="0.137" stop-color="#34329a"/><stop offset="0.160" stop-color="#34329a"/><stop offset="0.161" stop-color="#29318a"/><stop offset="0.190" stop-color="#29318a"/><stop offset="0.191" stop-color="#1d317b"/><stop offset="0.239" stop-color="#1d317b"/><stop offset="0.241" stop-color="#12306b"/><stop offset="0.295" stop-color="#12306b"/><stop offset="0.296" stop-color="#0b2e5c"/><stop offset="0.415" stop-color="#0b2e5c"/><stop offset="0.416" stop-color="#092a4f"/><stop offset="0.479" stop-color="#092a4f"/><stop offset="0.480" stop-color="#0b2e5c"/><stop offset="0.577" stop-color="#0b2e5c"/><stop offset="0.578" stop-color="#092a4f"/><stop offset="0.815" stop-color="#092a4f"/><stop offset="0.816" stop-color="#062741"/><stop offset="0.950" stop-color="#062741"/><stop offset="0.951" stop-color="#032333"/><stop offset="1.000" stop-color="#032333"/></linearGradient>
<path id="p18" d="M325.03 60.3L325.79 116.3L328.48 561.1H328.78L331.47 116.3L332.23 60.3"/>
<linearGradient id="g18a" href="#g18" gradientTransform="translate(0 -1.1)"/>
<linearGradient id="g18b" href="#g18" gradientTransform="translate(0 -2.2)"/>
<linearGradient id="g18c" href="#g18" gradientTransform="translate(0 -3.1)"/>
<linearGradient id="g19" gradientUnits="userSpaceOnUse" x1="0" y1="57.5" x2="0" y2="563.9"><stop offset="0.000" stop-color="#e7fa5a"/><stop offset="0.064" stop-color="#e7fa5a"/><stop offset="0.065" stop-color="#ebef54"/><stop offset="0.066" stop-color="#f7ce45"/><stop offset="0.068" stop-color="#f9b93f"/><stop offset="0.069" stop-color="#f89b41"/><stop offset="0.070" stop-color="#f79143"/><stop offset="0.072" stop-color="#e27260"/><stop offset="0.079" stop-color="#ab5d82"/><stop offset="0.081" stop-color="#a15a86"/><stop offset="0.082" stop-color="#a15a86"/><stop offset="0.084" stop-color="#8e538b"/><stop offset="0.086" stop-color="#8e538b"/><stop offset="0.088" stop-color="#85508d"/><stop offset="0.090" stop-color="#85508d"/><stop offset="0.091" stop-color="#7c4c90"/><stop offset="0.096" stop-color="#7c4c90"/><stop offset="0.097" stop-color="#734892"/><stop offset="0.109" stop-color="#734892"/><stop offset="0.110" stop-color="#6a4495"/><stop offset="0.143" stop-color="#6a4495"/><stop offset="0.145" stop-color="#604098"/><stop offset="0.155" stop-color="#604098"/><stop offset="0.156" stop-color="#563c99"/><stop offset="0.167" stop-color="#563c99"/><stop offset="0.168" stop-color="#4b389a"/><stop offset="0.180" stop-color="#4b389a"/><stop offset="0.181" stop-color="#3f359a"/><stop offset="0.193" stop-color="#3f359a"/><stop offset="0.194" stop-color="#34329a"/><stop offset="0.207" stop-color="#34329a"/><stop offset="0.209" stop-color="#29318a"/><stop offset="0.258" stop-color="#29318a"/><stop offset="0.259" stop-color="#1d317b"/><stop offset="0.582" stop-color="#1d317b"/><stop offset="0.583" stop-color="#12306b"/><stop offset="0.640" stop-color="#12306b"/><stop offset="0.641" stop-color="#0b2e5c"/><stop offset="0.879" stop-color="#0b2e5c"/><stop offset="0.880" stop-color="#092a4f"/><stop offset="0.956" stop-color="#092a4f"/><stop offset="0.957" stop-color="#062741"/><stop offset="1.000" stop-color="#062741"/></linearGradient>
<path id="p19" d="M332.23 60.3L332.99 116.3L335.68 561.1H335.98L338.67 116.3L339.43 60.3"/>
<linearGradient id="g19a" href="#g19" gradientTransform="translate(0 -1.1)"/>
<linearGradient id="g19b" href="#g19" gradientTransform="translate(0 -2.2)"/>
<linearGradient id="g19c" href="#g19" gradientTransform="translate(0 -3.1)"/>
<linearGradient id="g20" gradientUnits="userSpaceOnUse" x1="0" y1="57.5" x2="0" y2="563.9"><stop offset="0.000" stop-color="#e7fa5a"/><stop offset="0.058" stop-color="#e7fa5a"/><stop offset="0.059" stop-color="#ebef54"/><stop offset="0.060" stop-color="#f7ce45"/><stop offset="0.063" stop-color="#faa43e"/><stop offset="0.065" stop-color="#ee8150"/><stop offset="0.066" stop-color="#e27260"/><stop offset="0.068" stop-color="#da6e67"/><stop offset="0.069" stop-color="#c86774"/><stop offset="0.073" stop-color="#a15a86"/><stop offset="0.075" stop-color="#a15a86"/><stop offset="0.077" stop-color="#8e538b"/><stop offset="0.078" stop-color="#8e538b"/><stop offset="0.079" stop-color="#85508d"/><stop offset="0.081" stop-color="#85508d"/><stop offset="0.082" stop-color="#7c4c90"/><stop offset="0.084" stop-color="#7c4c90"/><stop offset="0.085" stop-color="#734892"/><stop offset="0.088" stop-color="#734892"/><stop offset="0.089" stop-color="#6a4495"/><stop offset="0.094" stop-color="#6a4495"/><stop offset="0.095" stop-color="#604098"/><stop offset="0.102" stop-color="#604098"/><stop offset="0.103" stop-color="#563c99"/><stop offset="0.116" stop-color="#563c99"/><stop offset="0.117" stop-color="#4b389a"/><stop offset="0.136" stop-color="#4b389a"/><stop offset="0.137" stop-color="#3f359a"/><stop offset="0.158" stop-color="#3f359a"/><stop offset="0.159" stop-color="#34329a"/><stop offset="0.181" stop-color="#34329a"/><stop offset="0.182" stop-color="#29318a"/><stop offset="0.218" stop-color="#29318a"/><stop offset="0.219" stop-color="#1d317b"/><stop offset="0.277" stop-color="#1d317b"/><stop offset="0.278" stop-color="#12306b"/><stop offset="0.396" stop-color="#12306b"/><stop offset="0.397" stop-color="#0b2e5c"/><stop offset="0.467" stop-color="#0b2e5c"/><stop offset="0.468" stop-color="#12306b"/><stop offset="0.556" stop-color="#12306b"/><stop offset="0.557" stop-color="#0b2e5c"/><stop offset="0.648" stop-color="#0b2e5c"/><stop offset="0.649" stop-color="#092a4f"/><stop offset="0.897" stop-color="#092a4f"/><stop offset="0.898" stop-color="#062741"/><stop offset="0.963" stop-color="#062741"/><stop offset="0.965" stop-color="#032333"/><stop offset="1.000" stop-color="#032333"/></linearGradient>
<path id="p20" d="M339.43 60.3L340.19 116.3L342.88 561.1H343.18L345.87 116.3L346.63 60.3"/>
<linearGradient id="g20a" href="#g20" gradientTransform="translate(0 -1.1)"/>
<linearGradient id="g20b" href="#g20" gradientTransform="translate(0 -2.2)"/>
<linearGradient id="g20c" href="#g20" gradientTransform="translate(0 -3.1)"/>
<linearGradient id="g21" gradientUnits="userSpaceOnUse" x1="0" y1="57.5" x2="0" y2="563.9"><stop offset="0.000" stop-color="#e7fa5a"/><stop offset="0.057" stop-color="#e7fa5a"/><stop offset="0.058" stop-color="#ebef54"/><stop offset="0.059" stop-color="#f7ce45"/><stop offset="0.062" stop-color="#faa43e"/><stop offset="0.064" stop-color="#ee8150"/><stop offset="0.065" stop-color="#e27260"/><stop offset="0.072" stop-color="#ab5d82"/><stop offset="0.076" stop-color="#8e538b"/><stop offset="0.077" stop-color="#8e538b"/><stop offset="0.078" stop-color="#85508d"/><stop offset="0.079" stop-color="#85508d"/><stop offset="0.081" stop-color="#7c4c90"/><stop offset="0.083" stop-color="#7c4c90"/><stop offset="0.084" stop-color="#734892"/><stop offset="0.086" stop-color="#734892"/><stop offset="0.088" stop-color="#6a4495"/><stop offset="0.092" stop-color="#6a4495"/><stop offset="0.094" stop-color="#604098"/><stop offset="0.098" stop-color="#604098"/><stop offset="0.100" stop-color="#563c99"/><stop offset="0.107" stop-color="#563c99"/><stop offset="0.108" stop-color="#4b389a"/><stop offset="0.121" stop-color="#4b389a"/><stop offset="0.122" stop-color="#3f359a"/><stop offset="0.137" stop-color="#3f359a"/><stop offset="0.139" stop-color="#34329a"/><stop offset="0.168" stop-color="#34329a"/><stop offset="0.169" stop-color="#29318a"/><stop offset="0.244" stop-color="#29318a"/><stop offset="0.245" stop-color="#1d317b"/><stop offset="0.295" stop-color="#1d317b"/><stop offset="0.296" stop-color="#12306b"/><stop offset="0.371" stop-color="#12306b"/><stop offset="0.372" stop-color="#0b2e5c"/><stop offset="0.507" stop-color="#0b2e5c"/><stop offset="0.508" stop-color="#12306b"/><stop offset="0.531" stop-color="#12306b"/><stop offset="0.532" stop-color="#0b2e5c"/><stop offset="0.783" stop-color="#0b2e5c"/><stop offset="0.784" stop-color="#092a4f"/><stop offset="0.915" stop-color="#092a4f"/><stop offset="0.916" stop-color="#062741"/><stop offset="1.000" stop-color="#062741"/></linearGradient>
<path id="p21" d="M346.63 60.3L347.39 116.3L350.08 561.1H350.38L353.07 116.3L353.83 60.3"/>
<linearGradient id="g21a" href="#g21" gradientTransform="translate(0 -1.1)"/>
<linearGradient id="g21b" href="#g21" gradientTransform="translate(0 -2.2)"/>
<linearGradient id="g21c" href="#g21" gradientTransform="translate(0 -3.1)"/>
<linearGradient id="g22" gradientUnits="userSpaceOnUse" x1="0" y1="57.5" x2="0" y2="489.7"><stop offset="0.000" stop-color="#e7fa5a"/><stop offset="0.072" stop-color="#e7fa5a"/><stop offset="0.075" stop-color="#f7ce45"/><stop offset="0.076" stop-color="#fbae3c"/><stop offset="0.079" stop-color="#f48848"/><stop offset="0.082" stop-color="#e27260"/><stop offset="0.083" stop-color="#d16a6d"/><stop offset="0.092" stop-color="#975789"/><stop offset="0.093" stop-color="#975789"/><stop offset="0.096" stop-color="#85508d"/><stop offset="0.097" stop-color="#85508d"/><stop offset="0.099" stop-color="#7c4c90"/><stop offset="0.101" stop-color="#7c4c90"/><stop offset="0.103" stop-color="#734892"/><stop offset="0.105" stop-color="#734892"/><stop offset="0.107" stop-color="#6a4495"/><stop offset="0.111" stop-color="#6a4495"/><stop offset="0.112" stop-color="#604098"/><stop offset="0.118" stop-color="#604098"/><stop offset="0.119" stop-color="#563c99"/><stop offset="0.128" stop-color="#563c99"/><stop offset="0.129" stop-color="#4b389a"/><stop offset="0.144" stop-color="#4b389a"/><stop offset="0.146" stop-color="#3f359a"/><stop offset="0.162" stop-color="#3f359a"/><stop offset="0.164" stop-color="#34329a"/><stop offset="0.200" stop-color="#34329a"/><stop offset="0.201" stop-color="#29318a"/><stop offset="0.297" stop-color="#29318a"/><stop offset="0.298" stop-color="#1d317b"/><stop offset="0.358" stop-color="#1d317b"/><stop offset="0.360" stop-color="#12306b"/><stop offset="0.444" stop-color="#12306b"/><stop offset="0.446" stop-color="#0b2e5c"/><stop offset="0.552" stop-color="#0b2e5c"/><stop offset="0.554" stop-color="#12306b"/><stop offset="0.641" stop-color="#12306b"/><stop offset="0.643" stop-color="#0b2e5c"/><stop offset="0.936" stop-color="#0b2e5c"/><stop offset="0.937" stop-color="#092a4f"/><stop offset="1.000" stop-color="#092a4f"/></linearGradient>
<path id="p22" d="M353.80 60.3L354.55 116.3L356.72 486.9H357.02L359.19 116.3L359.94 60.3"/>
<linearGradient id="g22a" href="#g22" gradientTransform="translate(0 -1.1)"/>
<linearGradient id="g22b" href="#g22" gradientTransform="translate(0 -2.2)"/>
<linearGradient id="g22c" href="#g22" gradientTransform="translate(0 -3.1)"/>
<linearGradient id="g23" gradientUnits="userSpaceOnUse" x1="0" y1="57.5" x2="0" y2="489.7"><stop offset="0.000" stop-color="#e7fa5a"/><stop offset="0.069" stop-color="#e7fa5a"/><stop offset="0.071" stop-color="#f4d949"/><stop offset="0.072" stop-color="#f8c342"/><stop offset="0.074" stop-color="#faa43e"/><stop offset="0.076" stop-color="#ee8150"/><stop offset="0.078" stop-color="#e87a58"/><stop offset="0.079" stop-color="#da6e67"/><stop offset="0.087" stop-color="#a15a86"/><stop offset="0.089" stop-color="#975789"/><stop offset="0.090" stop-color="#975789"/><stop offset="0.092" stop-color="#8e538b"/><stop offset="0.093" stop-color="#8e538b"/><stop offset="0.094" stop-color="#85508d"/><stop offset="0.096" stop-color="#85508d"/><stop offset="0.097" stop-color="#7c4c90"/><stop offset="0.099" stop-color="#7c4c90"/><stop offset="0.100" stop-color="#734892"/><stop offset="0.103" stop-color="#734892"/><stop offset="0.104" stop-color="#6a4495"/><stop offset="0.110" stop-color="#6a4495"/><stop offset="0.111" stop-color="#604098"/><stop offset="0.118" stop-color="#604098"/><stop offset="0.119" stop-color="#563c99"/><stop offset="0.128" stop-color="#563c99"/><stop offset="0.129" stop-color="#4b389a"/><stop offset="0.146" stop-color="#4b389a"/><stop offset="0.147" stop-color="#3f359a"/><stop offset="0.164" stop-color="#3f359a"/><stop offset="0.165" stop-color="#34329a"/><stop offset="0.203" stop-color="#34329a"/><stop offset="0.204" stop-color="#29318a"/><stop offset="0.305" stop-color="#29318a"/><stop offset="0.307" stop-color="#1d317b"/><stop offset="0.375" stop-color="#1d317b"/><stop offset="0.376" stop-color="#12306b"/><stop offset="0.677" stop-color="#12306b"/><stop offset="0.679" stop-color="#0b2e5c"/><stop offset="1.000" stop-color="#0b2e5c"/></linearGradient>
<path id="p23" d="M359.94 60.3L360.69 116.3L362.86 486.9H363.16L365.33 116.3L366.08 60.3"/>
<linearGradient id="g23a" href="#g23" gradientTransform="translate(0 -1.1)"/>
<linearGradient id="g23b" href="#g23" gradientTransform="translate(0 -2.2)"/>
<linearGradient id="g23c" href="#g23" gradientTransform="translate(0 -3.1)"/>
<linearGradient id="g24" gradientUnits="userSpaceOnUse" x1="0" y1="57.5" x2="0" y2="435.9"><stop offset="0.000" stop-color="#e7fa5a"/><stop offset="0.076" stop-color="#e7fa5a"/><stop offset="0.079" stop-color="#f9b93f"/><stop offset="0.082" stop-color="#f79143"/><stop offset="0.084" stop-color="#ee8150"/><stop offset="0.086" stop-color="#e87a58"/><stop offset="0.087" stop-color="#da6e67"/><stop offset="0.090" stop-color="#c86774"/><stop offset="0.092" stop-color="#b4607e"/><stop offset="0.094" stop-color="#ab5d82"/><stop offset="0.095" stop-color="#ab5d82"/><stop offset="0.100" stop-color="#8e538b"/><stop offset="0.101" stop-color="#8e538b"/><stop offset="0.103" stop-color="#85508d"/><stop offset="0.105" stop-color="#85508d"/><stop offset="0.106" stop-color="#7c4c90"/><stop offset="0.108" stop-color="#7c4c90"/><stop offset="0.109" stop-color="#734892"/><stop offset="0.113" stop-color="#734892"/><stop offset="0.114" stop-color="#6a4495"/><stop offset="0.119" stop-color="#6a4495"/><stop offset="0.121" stop-color="#604098"/><stop offset="0.127" stop-color="#604098"/><stop offset="0.128" stop-color="#563c99"/><stop offset="0.136" stop-color="#563c99"/><stop offset="0.138" stop-color="#4b389a"/><stop offset="0.149" stop-color="#4b389a"/><stop offset="0.151" stop-color="#3f359a"/><stop offset="0.170" stop-color="#3f359a"/><stop offset="0.171" stop-color="#34329a"/><stop offset="0.192" stop-color="#34329a"/><stop offset="0.193" stop-color="#29318a"/><stop offset="0.246" stop-color="#29318a"/><stop offset="0.247" stop-color="#1d317b"/><stop offset="0.362" stop-color="#1d317b"/><stop offset="0.363" stop-color="#12306b"/><stop offset="0.452" stop-color="#12306b"/><stop offset="0.454" stop-color="#0b2e5c"/><stop offset="0.668" stop-color="#0b2e5c"/><stop offset="0.669" stop-color="#12306b"/><stop offset="0.682" stop-color="#12306b"/><stop offset="0.683" stop-color="#0b2e5c"/><stop offset="1.000" stop-color="#0b2e5c"/></linearGradient>
<path id="p24" d="M366.18 60.3L366.75 116.3L368.62 433.1H368.91L370.78 116.3L371.35 60.3"/>
<linearGradient id="g24a" href="#g24" gradientTransform="translate(0 -1.1)"/>
<linearGradient id="g24b" href="#g24" gradientTransform="translate(0 -2.2)"/>
<linearGradient id="g24c" href="#g24" gradientTransform="translate(0 -3.1)"/>
<linearGradient id="g25" gradientUnits="userSpaceOnUse" x1="0" y1="57.5" x2="0" y2="276.1"><stop offset="0.000" stop-color="#e7fa5a"/><stop offset="0.137" stop-color="#e7fa5a"/><stop offset="0.140" stop-color="#efe44f"/><stop offset="0.143" stop-color="#f8c342"/><stop offset="0.145" stop-color="#faa43e"/><stop offset="0.151" stop-color="#ee8150"/><stop offset="0.154" stop-color="#e87a58"/><stop offset="0.156" stop-color="#da6e67"/><stop offset="0.159" stop-color="#d16a6d"/><stop offset="0.162" stop-color="#be637a"/><stop offset="0.173" stop-color="#975789"/><stop offset="0.176" stop-color="#975789"/><stop offset="0.181" stop-color="#85508d"/><stop offset="0.184" stop-color="#85508d"/><stop offset="0.187" stop-color="#7c4c90"/><stop offset="0.189" stop-color="#7c4c90"/><stop offset="0.192" stop-color="#734892"/><stop offset="0.198" stop-color="#734892"/><stop offset="0.200" stop-color="#6a4495"/><stop offset="0.206" stop-color="#6a4495"/><stop offset="0.209" stop-color="#604098"/><stop offset="0.217" stop-color="#604098"/><stop offset="0.220" stop-color="#563c99"/><stop offset="0.231" stop-color="#563c99"/><stop offset="0.233" stop-color="#4b389a"/><stop offset="0.250" stop-color="#4b389a"/><stop offset="0.253" stop-color="#3f359a"/><stop offset="0.280" stop-color="#3f359a"/><stop offset="0.283" stop-color="#34329a"/><stop offset="0.316" stop-color="#34329a"/><stop offset="0.318" stop-color="#29318a"/><stop offset="0.376" stop-color="#29318a"/><stop offset="0.379" stop-color="#1d317b"/><stop offset="0.574" stop-color="#1d317b"/><stop offset="0.576" stop-color="#12306b"/><stop offset="0.697" stop-color="#12306b"/><stop offset="0.700" stop-color="#0b2e5c"/><stop offset="0.906" stop-color="#0b2e5c"/><stop offset="0.909" stop-color="#092a4f"/><stop offset="0.955" stop-color="#092a4f"/><stop offset="0.958" stop-color="#0b2e5c"/><stop offset="1.000" stop-color="#0b2e5c"/></linearGradient>
<path id="p25" d="M372.30 60.3L372.85 116.3L373.65 273.3H373.95L374.75 116.3L375.30 60.3"/>
<linearGradient id="g25a" href="#g25" gradientTransform="translate(0 -1.1)"/>
<linearGradient id="g25b" href="#g25" gradientTransform="translate(0 -2.2)"/>
<linearGradient id="g25c" href="#g25" gradientTransform="translate(0 -3.1)"/>
<linearGradient id="g26" gradientUnits="userSpaceOnUse" x1="0" y1="57.5" x2="0" y2="132.0"><stop offset="0.000" stop-color="#e7fa5a"/><stop offset="0.379" stop-color="#e7fa5a"/><stop offset="0.395" stop-color="#f9b93f"/><stop offset="0.411" stop-color="#f79143"/><stop offset="0.419" stop-color="#ee8150"/><stop offset="0.427" stop-color="#e87a58"/><stop offset="0.435" stop-color="#da6e67"/><stop offset="0.443" stop-color="#d16a6d"/><stop offset="0.451" stop-color="#be637a"/><stop offset="0.475" stop-color="#a15a86"/><stop offset="0.483" stop-color="#a15a86"/><stop offset="0.499" stop-color="#8e538b"/><stop offset="0.507" stop-color="#8e538b"/><stop offset="0.524" stop-color="#7c4c90"/><stop offset="0.540" stop-color="#7c4c90"/><stop offset="0.548" stop-color="#734892"/><stop offset="0.556" stop-color="#734892"/><stop offset="0.564" stop-color="#6a4495"/><stop offset="0.588" stop-color="#6a4495"/><stop offset="0.596" stop-color="#604098"/><stop offset="0.620" stop-color="#604098"/><stop offset="0.628" stop-color="#563c99"/><stop offset="0.669" stop-color="#563c99"/><stop offset="0.677" stop-color="#4b389a"/><stop offset="0.725" stop-color="#4b389a"/><stop offset="0.733" stop-color="#3f359a"/><stop offset="0.814" stop-color="#3f359a"/><stop offset="0.822" stop-color="#34329a"/><stop offset="0.918" stop-color="#34329a"/><stop offset="0.926" stop-color="#29318a"/><stop offset="1.000" stop-color="#29318a"/></linearGradient>
<path id="p26" d="M375.40 60.3L375.79 129.2H375.99L376.38 60.3"/>
<linearGradient id="g26a" href="#g26" gradientTransform="translate(0 -1.1)"/>
<linearGradient id="g26b" href="#g26" gradientTransform="translate(0 -2.2)"/>
<linearGradient id="g26c" href="#g26" gradientTransform="translate(0 -3.1)"/>
<linearGradient id="g27" gradientUnits="userSpaceOnUse" x1="0" y1="57.5" x2="0" y2="132.0"><stop offset="0.000" stop-color="#e7fa5a"/><stop offset="0.379" stop-color="#e7fa5a"/><stop offset="0.387" stop-color="#ebef54"/><stop offset="0.395" stop-color="#f4d949"/><stop offset="0.403" stop-color="#f9b93f"/><stop offset="0.419" stop-color="#f79143"/><stop offset="0.435" stop-color="#e27260"/><stop offset="0.451" stop-color="#d16a6d"/><stop offset="0.459" stop-color="#be637a"/><stop offset="0.483" stop-color="#a15a86"/><stop offset="0.491" stop-color="#a15a86"/><stop offset="0.507" stop-color="#8e538b"/><stop offset="0.515" stop-color="#8e538b"/><stop offset="0.524" stop-color="#85508d"/><stop offset="0.532" stop-color="#85508d"/><stop offset="0.540" stop-color="#7c4c90"/><stop offset="0.548" stop-color="#7c4c90"/><stop offset="0.556" stop-color="#734892"/><stop offset="0.572" stop-color="#734892"/><stop offset="0.580" stop-color="#6a4495"/><stop offset="0.604" stop-color="#6a4495"/><stop offset="0.612" stop-color="#604098"/><stop offset="0.644" stop-color="#604098"/><stop offset="0.652" stop-color="#563c99"/><stop offset="0.693" stop-color="#563c99"/><stop offset="0.701" stop-color="#4b389a"/><stop offset="0.749" stop-color="#4b389a"/><stop offset="0.757" stop-color="#3f359a"/><stop offset="0.854" stop-color="#3f359a"/><stop offset="0.862" stop-color="#34329a"/><stop offset="0.959" stop-color="#34329a"/><stop offset="0.967" stop-color="#29318a"/><stop offset="1.000" stop-color="#29318a"/></linearGradient>
<path id="p27" d="M376.38 60.3L376.78 129.2H376.97L377.37 60.3"/>
<linearGradient id="g27a" href="#g27" gradientTransform="translate(0 -1.1)"/>
<linearGradient id="g27b" href="#g27" gradientTransform="translate(0 -2.2)"/>
<linearGradient id="g27c" href="#g27" gradientTransform="translate(0 -3.1)"/>
<linearGradient id="g28" gradientUnits="userSpaceOnUse" x1="0" y1="57.5" x2="0" y2="132.0"><stop offset="0.000" stop-color="#e7fa5a"/><stop offset="0.411" stop-color="#e7fa5a"/><stop offset="0.419" stop-color="#ebef54"/><stop offset="0.427" stop-color="#f7ce45"/><stop offset="0.443" stop-color="#faa43e"/><stop offset="0.459" stop-color="#ee8150"/><stop offset="0.467" stop-color="#e27260"/><stop offset="0.475" stop-color="#da6e67"/><stop offset="0.483" stop-color="#c86774"/><stop offset="0.532" stop-color="#8e538b"/><stop offset="0.540" stop-color="#8e538b"/><stop offset="0.548" stop-color="#85508d"/><stop offset="0.556" stop-color="#85508d"/><stop offset="0.564" stop-color="#7c4c90"/><stop offset="0.572" stop-color="#7c4c90"/><stop offset="0.580" stop-color="#734892"/><stop offset="0.588" stop-color="#734892"/><stop offset="0.596" stop-color="#6a4495"/><stop offset="0.620" stop-color="#6a4495"/><stop offset="0.628" stop-color="#604098"/><stop offset="0.652" stop-color="#604098"/><stop offset="0.660" stop-color="#563c99"/><stop offset="0.701" stop-color="#563c99"/><stop offset="0.709" stop-color="#4b389a"/><stop offset="0.757" stop-color="#4b389a"/><stop offset="0.765" stop-color="#3f359a"/><stop offset="0.854" stop-color="#3f359a"/><stop offset="0.862" stop-color="#34329a"/><stop offset="0.950" stop-color="#34329a"/><stop offset="0.959" stop-color="#29318a"/><stop offset="1.000" stop-color="#29318a"/></linearGradient>
<path id="p28" d="M377.37 60.3L377.76 129.2H377.96L378.35 60.3"/>
<linearGradient id="g28a" href="#g28" gradientTransform="translate(0 -1.1)"/>
<linearGradient id="g28b" href="#g28" gradientTransform="translate(0 -2.2)"/>
<linearGradient id="g28c" href="#g28" gradientTransform="translate(0 -3.1)"/>
<linearGradient id="g29" gradientUnits="userSpaceOnUse" x1="0" y1="57.5" x2="0" y2="132.0"><stop offset="0.000" stop-color="#e7fa5a"/><stop offset="0.411" stop-color="#e7fa5a"/><stop offset="0.419" stop-color="#f4d949"/><stop offset="0.427" stop-color="#f8c342"/><stop offset="0.435" stop-color="#faa43e"/><stop offset="0.451" stop-color="#ee8150"/><stop offset="0.459" stop-color="#e87a58"/><stop offset="0.467" stop-color="#da6e67"/><stop offset="0.475" stop-color="#d16a6d"/><stop offset="0.483" stop-color="#be637a"/><stop offset="0.524" stop-color="#8e538b"/><stop offset="0.532" stop-color="#8e538b"/><stop offset="0.540" stop-color="#85508d"/><stop offset="0.548" stop-color="#85508d"/><stop offset="0.556" stop-color="#7c4c90"/><stop offset="0.564" stop-color="#7c4c90"/><stop offset="0.572" stop-color="#734892"/><stop offset="0.580" stop-color="#734892"/><stop offset="0.588" stop-color="#6a4495"/><stop offset="0.604" stop-color="#6a4495"/><stop offset="0.612" stop-color="#604098"/><stop offset="0.636" stop-color="#604098"/><stop offset="0.644" stop-color="#563c99"/><stop offset="0.677" stop-color="#563c99"/><stop offset="0.685" stop-color="#4b389a"/><stop offset="0.725" stop-color="#4b389a"/><stop offset="0.733" stop-color="#3f359a"/><stop offset="0.814" stop-color="#3f359a"/><stop offset="0.822" stop-color="#34329a"/><stop offset="0.910" stop-color="#34329a"/><stop offset="0.918" stop-color="#29318a"/><stop offset="1.000" stop-color="#29318a"/></linearGradient>
<path id="p29" d="M378.35 60.3L378.75 129.2H378.94L379.34 60.3"/>
<linearGradient id="g29a" href="#g29" gradientTransform="translate(0 -1.1)"/>
<linearGradient id="g29b" href="#g29" gradientTransform="translate(0 -2.2)"/>
<linearGradient id="g29c" href="#g29" gradientTransform="translate(0 -3.1)"/>
<linearGradient id="g30" gradientUnits="userSpaceOnUse" x1="0" y1="57.5" x2="0" y2="132.0"><stop offset="0.000" stop-color="#e7fa5a"/><stop offset="0.379" stop-color="#e7fa5a"/><stop offset="0.387" stop-color="#f4d949"/><stop offset="0.403" stop-color="#fbae3c"/><stop offset="0.411" stop-color="#f79143"/><stop offset="0.419" stop-color="#ee8150"/><stop offset="0.427" stop-color="#e87a58"/><stop offset="0.435" stop-color="#da6e67"/><stop offset="0.451" stop-color="#c86774"/><stop offset="0.459" stop-color="#b4607e"/><stop offset="0.475" stop-color="#a15a86"/><stop offset="0.483" stop-color="#a15a86"/><stop offset="0.507" stop-color="#85508d"/><stop offset="0.515" stop-color="#85508d"/><stop offset="0.524" stop-color="#7c4c90"/><stop offset="0.532" stop-color="#7c4c90"/><stop offset="0.540" stop-color="#734892"/><stop offset="0.556" stop-color="#734892"/><stop offset="0.564" stop-color="#6a4495"/><stop offset="0.580" stop-color="#6a4495"/><stop offset="0.588" stop-color="#604098"/><stop offset="0.612" stop-color="#604098"/><stop offset="0.620" stop-color="#563c99"/><stop offset="0.652" stop-color="#563c99"/><stop offset="0.660" stop-color="#4b389a"/><stop offset="0.709" stop-color="#4b389a"/><stop offset="0.717" stop-color="#3f359a"/><stop offset="0.781" stop-color="#3f359a"/><stop offset="0.789" stop-color="#34329a"/><stop offset="0.886" stop-color="#34329a"/><stop offset="0.894" stop-color="#29318a"/><stop offset="1.000" stop-color="#29318a"/></linearGradient>
<path id="p30" d="M379.34 60.3L379.73 129.2H379.93L380.32 60.3"/>
<linearGradient id="g30a" href="#g30" gradientTransform="translate(0 -1.1)"/>
<linearGradient id="g30b" href="#g30" gradientTransform="translate(0 -2.2)"/>
<linearGradient id="g30c" href="#g30" gradientTransform="translate(0 -3.1)"/>
<linearGradient id="g31" gradientUnits="userSpaceOnUse" x1="0" y1="57.5" x2="0" y2="561.1"><stop offset="0.000" stop-color="#e7fa5a"/><stop offset="0.048" stop-color="#e7fa5a"/><stop offset="0.051" stop-color="#f9b93f"/><stop offset="0.052" stop-color="#fbae3c"/><stop offset="0.054" stop-color="#f89b41"/><stop offset="0.057" stop-color="#ee8150"/><stop offset="0.061" stop-color="#da6e67"/><stop offset="0.062" stop-color="#da6e67"/><stop offset="0.064" stop-color="#c86774"/><stop offset="0.066" stop-color="#c86774"/><stop offset="0.067" stop-color="#be637a"/><stop offset="0.069" stop-color="#be637a"/><stop offset="0.070" stop-color="#b4607e"/><stop offset="0.073" stop-color="#b4607e"/><stop offset="0.074" stop-color="#ab5d82"/><stop offset="0.079" stop-color="#ab5d82"/><stop offset="0.080" stop-color="#a15a86"/><stop offset="0.086" stop-color="#a15a86"/><stop offset="0.087" stop-color="#975789"/><stop offset="0.094" stop-color="#975789"/><stop offset="0.095" stop-color="#8e538b"/><stop offset="0.101" stop-color="#8e538b"/><stop offset="0.102" stop-color="#85508d"/><stop offset="0.110" stop-color="#85508d"/><stop offset="0.111" stop-color="#7c4c90"/><stop offset="0.123" stop-color="#7c4c90"/><stop offset="0.124" stop-color="#734892"/><stop offset="0.137" stop-color="#734892"/><stop offset="0.138" stop-color="#6a4495"/><stop offset="0.151" stop-color="#6a4495"/><stop offset="0.153" stop-color="#604098"/><stop offset="0.163" stop-color="#604098"/><stop offset="0.164" stop-color="#563c99"/><stop offset="0.197" stop-color="#563c99"/><stop offset="0.198" stop-color="#4b389a"/><stop offset="0.243" stop-color="#4b389a"/><stop offset="0.244" stop-color="#3f359a"/><stop offset="0.300" stop-color="#3f359a"/><stop offset="0.301" stop-color="#34329a"/><stop offset="0.404" stop-color="#34329a"/><stop offset="0.405" stop-color="#29318a"/><stop offset="0.447" stop-color="#29318a"/><stop offset="0.448" stop-color="#1d317b"/><stop offset="0.479" stop-color="#1d317b"/><stop offset="0.480" stop-color="#12306b"/><stop offset="0.539" stop-color="#12306b"/><stop offset="0.540" stop-color="#0b2e5c"/><stop offset="0.757" stop-color="#0b2e5c"/><stop offset="0.758" stop-color="#092a4f"/><stop offset="0.817" stop-color="#092a4f"/><stop offset="0.819" stop-color="#062741"/><stop offset="1.000" stop-color="#062741"/></linearGradient>
<path id="p31" d="M476.05 60.3L476.80 116.3L479.45 558.3H479.75L482.18 116.3L482.90 60.3"/>
<linearGradient id="g31a" href="#g31" gradientTransform="translate(0 -1.1)"/>
<linearGradient id="g31b" href="#g31" gradientTransform="translate(0 -2.2)"/>
<linearGradient id="g31c" href="#g31" gradientTransform="translate(0 -3.1)"/>
<linearGradient id="g32" gradientUnits="userSpaceOnUse" x1="0" y1="57.5" x2="0" y2="561.1"><stop offset="0.000" stop-color="#e7fa5a"/><stop offset="0.056" stop-color="#e7fa5a"/><stop offset="0.057" stop-color="#ebef54"/><stop offset="0.061" stop-color="#fbae3c"/><stop offset="0.062" stop-color="#faa43e"/><stop offset="0.063" stop-color="#f79143"/><stop offset="0.069" stop-color="#da6e67"/><stop offset="0.070" stop-color="#d16a6d"/><stop offset="0.071" stop-color="#d16a6d"/><stop offset="0.073" stop-color="#c86774"/><stop offset="0.074" stop-color="#c86774"/><stop offset="0.075" stop-color="#be637a"/><stop offset="0.076" stop-color="#be637a"/><stop offset="0.077" stop-color="#b4607e"/><stop offset="0.079" stop-color="#b4607e"/><stop offset="0.080" stop-color="#ab5d82"/><stop offset="0.083" stop-color="#ab5d82"/><stop offset="0.085" stop-color="#a15a86"/><stop offset="0.089" stop-color="#a15a86"/><stop offset="0.091" stop-color="#975789"/><stop offset="0.095" stop-color="#975789"/><stop offset="0.097" stop-color="#8e538b"/><stop offset="0.102" stop-color="#8e538b"/><stop offset="0.104" stop-color="#85508d"/><stop offset="0.110" stop-color="#85508d"/><stop offset="0.111" stop-color="#7c4c90"/><stop offset="0.124" stop-color="#7c4c90"/><stop offset="0.125" stop-color="#734892"/><stop offset="0.138" stop-color="#734892"/><stop offset="0.139" stop-color="#6a4495"/><stop offset="0.151" stop-color="#6a4495"/><stop offset="0.153" stop-color="#604098"/><stop offset="0.164" stop-color="#604098"/><stop offset="0.166" stop-color="#563c99"/><stop offset="0.198" stop-color="#563c99"/><stop offset="0.199" stop-color="#4b389a"/><stop offset="0.247" stop-color="#4b389a"/><stop offset="0.248" stop-color="#3f359a"/><stop offset="0.307" stop-color="#3f359a"/><stop offset="0.309" stop-color="#34329a"/><stop offset="0.410" stop-color="#34329a"/><stop offset="0.411" stop-color="#29318a"/><stop offset="0.448" stop-color="#29318a"/><stop offset="0.449" stop-color="#1d317b"/><stop offset="0.480" stop-color="#1d317b"/><stop offset="0.481" stop-color="#12306b"/><stop offset="0.545" stop-color="#12306b"/><stop offset="0.546" stop-color="#0b2e5c"/><stop offset="0.740" stop-color="#0b2e5c"/><stop offset="0.741" stop-color="#092a4f"/><stop offset="0.798" stop-color="#092a4f"/><stop offset="0.799" stop-color="#062741"/><stop offset="1.000" stop-color="#062741"/></linearGradient>
<path id="p32" d="M484.35 60.3L484.99 116.3L486.75 558.3H487.05L489.92 116.3L490.70 60.3"/>
<linearGradient id="g32a" href="#g32" gradientTransform="translate(0 -1.1)"/>
<linearGradient id="g32b" href="#g32" gradientTransform="translate(0 -2.2)"/>
<linearGradient id="g32c" href="#g32" gradientTransform="translate(0 -3.1)"/>
<linearGradient id="g33" gradientUnits="userSpaceOnUse" x1="0" y1="57.5" x2="0" y2="562.0"><stop offset="0.000" stop-color="#e7fa5a"/><stop offset="0.030" stop-color="#e7fa5a"/><stop offset="0.031" stop-color="#ebef54"/><stop offset="0.034" stop-color="#fbae3c"/><stop offset="0.036" stop-color="#faa43e"/><stop offset="0.037" stop-color="#f79143"/><stop offset="0.043" stop-color="#da6e67"/><stop offset="0.044" stop-color="#da6e67"/><stop offset="0.045" stop-color="#d16a6d"/><stop offset="0.046" stop-color="#d16a6d"/><stop offset="0.048" stop-color="#c86774"/><stop offset="0.049" stop-color="#c86774"/><stop offset="0.050" stop-color="#be637a"/><stop offset="0.051" stop-color="#be637a"/><stop offset="0.052" stop-color="#b4607e"/><stop offset="0.055" stop-color="#b4607e"/><stop offset="0.056" stop-color="#ab5d82"/><stop offset="0.059" stop-color="#ab5d82"/><stop offset="0.061" stop-color="#a15a86"/><stop offset="0.065" stop-color="#a15a86"/><stop offset="0.067" stop-color="#975789"/><stop offset="0.071" stop-color="#975789"/><stop offset="0.073" stop-color="#8e538b"/><stop offset="0.082" stop-color="#8e538b"/><stop offset="0.083" stop-color="#85508d"/><stop offset="0.095" stop-color="#85508d"/><stop offset="0.096" stop-color="#7c4c90"/><stop offset="0.109" stop-color="#7c4c90"/><stop offset="0.111" stop-color="#734892"/><stop offset="0.124" stop-color="#734892"/><stop offset="0.125" stop-color="#6a4495"/><stop offset="0.134" stop-color="#6a4495"/><stop offset="0.136" stop-color="#604098"/><stop offset="0.143" stop-color="#604098"/><stop offset="0.144" stop-color="#563c99"/><stop offset="0.199" stop-color="#563c99"/><stop offset="0.200" stop-color="#4b389a"/><stop offset="0.235" stop-color="#4b389a"/><stop offset="0.237" stop-color="#3f359a"/><stop offset="0.246" stop-color="#3f359a"/><stop offset="0.247" stop-color="#34329a"/><stop offset="0.277" stop-color="#34329a"/><stop offset="0.278" stop-color="#29318a"/><stop offset="0.289" stop-color="#29318a"/><stop offset="0.290" stop-color="#34329a"/><stop offset="0.372" stop-color="#34329a"/><stop offset="0.373" stop-color="#29318a"/><stop offset="0.434" stop-color="#29318a"/><stop offset="0.435" stop-color="#1d317b"/><stop offset="0.482" stop-color="#1d317b"/><stop offset="0.483" stop-color="#12306b"/><stop offset="0.530" stop-color="#12306b"/><stop offset="0.532" stop-color="#0b2e5c"/><stop offset="0.687" stop-color="#0b2e5c"/><stop offset="0.689" stop-color="#092a4f"/><stop offset="0.746" stop-color="#092a4f"/><stop offset="0.747" stop-color="#062741"/><stop offset="0.950" stop-color="#062741"/><stop offset="0.951" stop-color="#032333"/><stop offset="1.000" stop-color="#032333"/></linearGradient>
<path id="p33" d="M540.20 60.3L540.95 116.3L543.62 559.2H543.92L546.59 116.3L547.34 60.3"/>
<linearGradient id="g33a" href="#g33" gradientTransform="translate(0 -1.1)"/>
<linearGradient id="g33b" href="#g33" gradientTransform="translate(0 -2.2)"/>
<linearGradient id="g33c" href="#g33" gradientTransform="translate(0 -3.1)"/>
<linearGradient id="g34" gradientUnits="userSpaceOnUse" x1="0" y1="57.5" x2="0" y2="562.0"><stop offset="0.000" stop-color="#e7fa5a"/><stop offset="0.031" stop-color="#e7fa5a"/><stop offset="0.034" stop-color="#f9b93f"/><stop offset="0.036" stop-color="#faa43e"/><stop offset="0.040" stop-color="#ee8150"/><stop offset="0.045" stop-color="#d16a6d"/><stop offset="0.046" stop-color="#d16a6d"/><stop offset="0.048" stop-color="#c86774"/><stop offset="0.049" stop-color="#c86774"/><stop offset="0.050" stop-color="#be637a"/><stop offset="0.051" stop-color="#be637a"/><stop offset="0.052" stop-color="#b4607e"/><stop offset="0.055" stop-color="#b4607e"/><stop offset="0.056" stop-color="#ab5d82"/><stop offset="0.059" stop-color="#ab5d82"/><stop offset="0.061" stop-color="#a15a86"/><stop offset="0.065" stop-color="#a15a86"/><stop offset="0.067" stop-color="#975789"/><stop offset="0.071" stop-color="#975789"/><stop offset="0.073" stop-color="#8e538b"/><stop offset="0.082" stop-color="#8e538b"/><stop offset="0.083" stop-color="#85508d"/><stop offset="0.095" stop-color="#85508d"/><stop offset="0.096" stop-color="#7c4c90"/><stop offset="0.109" stop-color="#7c4c90"/><stop offset="0.111" stop-color="#734892"/><stop offset="0.123" stop-color="#734892"/><stop offset="0.124" stop-color="#6a4495"/><stop offset="0.134" stop-color="#6a4495"/><stop offset="0.136" stop-color="#604098"/><stop offset="0.143" stop-color="#604098"/><stop offset="0.144" stop-color="#563c99"/><stop offset="0.199" stop-color="#563c99"/><stop offset="0.200" stop-color="#4b389a"/><stop offset="0.235" stop-color="#4b389a"/><stop offset="0.237" stop-color="#3f359a"/><stop offset="0.246" stop-color="#3f359a"/><stop offset="0.247" stop-color="#34329a"/><stop offset="0.369" stop-color="#34329a"/><stop offset="0.370" stop-color="#29318a"/><stop offset="0.433" stop-color="#29318a"/><stop offset="0.434" stop-color="#1d317b"/><stop offset="0.480" stop-color="#1d317b"/><stop offset="0.482" stop-color="#12306b"/><stop offset="0.528" stop-color="#12306b"/><stop offset="0.529" stop-color="#0b2e5c"/><stop offset="0.673" stop-color="#0b2e5c"/><stop offset="0.674" stop-color="#092a4f"/><stop offset="0.728" stop-color="#092a4f"/><stop offset="0.729" stop-color="#062741"/><stop offset="0.929" stop-color="#062741"/><stop offset="0.930" stop-color="#032333"/><stop offset="1.000" stop-color="#032333"/></linearGradient>
<path id="p34" d="M547.34 60.3L548.10 116.3L550.77 559.2H551.07L553.73 116.3L554.49 60.3"/>
<linearGradient id="g34a" href="#g34" gradientTransform="translate(0 -1.1)"/>
<linearGradient id="g34b" href="#g34" gradientTransform="translate(0 -2.2)"/>
<linearGradient id="g34c" href="#g34" gradientTransform="translate(0 -3.1)"/>
<linearGradient id="g35" gradientUnits="userSpaceOnUse" x1="0" y1="57.5" x2="0" y2="562.0"><stop offset="0.000" stop-color="#e7fa5a"/><stop offset="0.026" stop-color="#e7fa5a"/><stop offset="0.030" stop-color="#f9b93f"/><stop offset="0.031" stop-color="#fbae3c"/><stop offset="0.032" stop-color="#f89b41"/><stop offset="0.036" stop-color="#ee8150"/><stop offset="0.038" stop-color="#e27260"/><stop offset="0.039" stop-color="#e27260"/><stop offset="0.042" stop-color="#d16a6d"/><stop offset="0.043" stop-color="#d16a6d"/><stop offset="0.044" stop-color="#c86774"/><stop offset="0.046" stop-color="#c86774"/><stop offset="0.048" stop-color="#be637a"/><stop offset="0.049" stop-color="#be637a"/><stop offset="0.050" stop-color="#b4607e"/><stop offset="0.054" stop-color="#b4607e"/><stop offset="0.055" stop-color="#ab5d82"/><stop offset="0.059" stop-color="#ab5d82"/><stop offset="0.061" stop-color="#a15a86"/><stop offset="0.067" stop-color="#a15a86"/><stop offset="0.068" stop-color="#975789"/><stop offset="0.074" stop-color="#975789"/><stop offset="0.075" stop-color="#8e538b"/><stop offset="0.087" stop-color="#8e538b"/><stop offset="0.088" stop-color="#85508d"/><stop offset="0.101" stop-color="#85508d"/><stop offset="0.102" stop-color="#7c4c90"/><stop offset="0.114" stop-color="#7c4c90"/><stop offset="0.115" stop-color="#734892"/><stop offset="0.127" stop-color="#734892"/><stop offset="0.128" stop-color="#6a4495"/><stop offset="0.137" stop-color="#6a4495"/><stop offset="0.138" stop-color="#604098"/><stop offset="0.158" stop-color="#604098"/><stop offset="0.159" stop-color="#563c99"/><stop offset="0.224" stop-color="#563c99"/><stop offset="0.225" stop-color="#4b389a"/><stop offset="0.241" stop-color="#4b389a"/><stop offset="0.243" stop-color="#3f359a"/><stop offset="0.253" stop-color="#3f359a"/><stop offset="0.255" stop-color="#34329a"/><stop offset="0.407" stop-color="#34329a"/><stop offset="0.408" stop-color="#29318a"/><stop offset="0.459" stop-color="#29318a"/><stop offset="0.460" stop-color="#1d317b"/><stop offset="0.509" stop-color="#1d317b"/><stop offset="0.510" stop-color="#12306b"/><stop offset="0.641" stop-color="#12306b"/><stop offset="0.642" stop-color="#0b2e5c"/><stop offset="0.704" stop-color="#0b2e5c"/><stop offset="0.705" stop-color="#092a4f"/><stop offset="0.898" stop-color="#092a4f"/><stop offset="0.899" stop-color="#062741"/><stop offset="0.950" stop-color="#062741"/><stop offset="0.951" stop-color="#032333"/><stop offset="1.000" stop-color="#032333"/></linearGradient>
<path id="p35" d="M554.49 60.3L555.24 116.3L557.91 559.2H558.21L560.88 116.3L561.63 60.3"/>
<linearGradient id="g35a" href="#g35" gradientTransform="translate(0 -1.1)"/>
<linearGradient id="g35b" href="#g35" gradientTransform="translate(0 -2.2)"/>
<linearGradient id="g35c" href="#g35" gradientTransform="translate(0 -3.1)"/>
<linearGradient id="g36" gradientUnits="userSpaceOnUse" x1="0" y1="57.5" x2="0" y2="562.0"><stop offset="0.000" stop-color="#e7fa5a"/><stop offset="0.026" stop-color="#e7fa5a"/><stop offset="0.030" stop-color="#f9b93f"/><stop offset="0.031" stop-color="#fbae3c"/><stop offset="0.032" stop-color="#f89b41"/><stop offset="0.036" stop-color="#ee8150"/><stop offset="0.039" stop-color="#da6e67"/><stop offset="0.040" stop-color="#da6e67"/><stop offset="0.043" stop-color="#c86774"/><stop offset="0.044" stop-color="#c86774"/><stop offset="0.045" stop-color="#be637a"/><stop offset="0.048" stop-color="#be637a"/><stop offset="0.049" stop-color="#b4607e"/><stop offset="0.051" stop-color="#b4607e"/><stop offset="0.052" stop-color="#ab5d82"/><stop offset="0.056" stop-color="#ab5d82"/><stop offset="0.057" stop-color="#a15a86"/><stop offset="0.063" stop-color="#a15a86"/><stop offset="0.064" stop-color="#975789"/><stop offset="0.070" stop-color="#975789"/><stop offset="0.071" stop-color="#8e538b"/><stop offset="0.080" stop-color="#8e538b"/><stop offset="0.081" stop-color="#85508d"/><stop offset="0.093" stop-color="#85508d"/><stop offset="0.094" stop-color="#7c4c90"/><stop offset="0.106" stop-color="#7c4c90"/><stop offset="0.107" stop-color="#734892"/><stop offset="0.119" stop-color="#734892"/><stop offset="0.120" stop-color="#6a4495"/><stop offset="0.132" stop-color="#6a4495"/><stop offset="0.133" stop-color="#604098"/><stop offset="0.140" stop-color="#604098"/><stop offset="0.142" stop-color="#563c99"/><stop offset="0.178" stop-color="#563c99"/><stop offset="0.180" stop-color="#4b389a"/><stop offset="0.235" stop-color="#4b389a"/><stop offset="0.237" stop-color="#3f359a"/><stop offset="0.246" stop-color="#3f359a"/><stop offset="0.247" stop-color="#34329a"/><stop offset="0.281" stop-color="#34329a"/><stop offset="0.282" stop-color="#29318a"/><stop offset="0.284" stop-color="#29318a"/><stop offset="0.285" stop-color="#34329a"/><stop offset="0.354" stop-color="#34329a"/><stop offset="0.356" stop-color="#29318a"/><stop offset="0.429" stop-color="#29318a"/><stop offset="0.431" stop-color="#1d317b"/><stop offset="0.480" stop-color="#1d317b"/><stop offset="0.482" stop-color="#12306b"/><stop offset="0.532" stop-color="#12306b"/><stop offset="0.533" stop-color="#0b2e5c"/><stop offset="0.676" stop-color="#0b2e5c"/><stop offset="0.677" stop-color="#092a4f"/><stop offset="0.729" stop-color="#092a4f"/><stop offset="0.730" stop-color="#062741"/><stop offset="0.928" stop-color="#062741"/><stop offset="0.929" stop-color="#032333"/><stop offset="1.000" stop-color="#032333"/></linearGradient>
<path id="p36" d="M561.63 60.3L562.39 116.3L565.06 559.2H565.36L568.02 116.3L568.78 60.3"/>
<linearGradient id="g36a" href="#g36" gradientTransform="translate(0 -1.1)"/>
<linearGradient id="g36b" href="#g36" gradientTransform="translate(0 -2.2)"/>
<linearGradient id="g36c" href="#g36" gradientTransform="translate(0 -3.1)"/>
<linearGradient id="g37" gradientUnits="userSpaceOnUse" x1="0" y1="57.5" x2="0" y2="562.0"><stop offset="0.000" stop-color="#e7fa5a"/><stop offset="0.030" stop-color="#e7fa5a"/><stop offset="0.033" stop-color="#f9b93f"/><stop offset="0.034" stop-color="#faa43e"/><stop offset="0.039" stop-color="#ee8150"/><stop offset="0.044" stop-color="#d16a6d"/><stop offset="0.045" stop-color="#d16a6d"/><stop offset="0.046" stop-color="#c86774"/><stop offset="0.048" stop-color="#c86774"/><stop offset="0.049" stop-color="#be637a"/><stop offset="0.051" stop-color="#be637a"/><stop offset="0.052" stop-color="#b4607e"/><stop offset="0.055" stop-color="#b4607e"/><stop offset="0.056" stop-color="#ab5d82"/><stop offset="0.059" stop-color="#ab5d82"/><stop offset="0.061" stop-color="#a15a86"/><stop offset="0.065" stop-color="#a15a86"/><stop offset="0.067" stop-color="#975789"/><stop offset="0.073" stop-color="#975789"/><stop offset="0.074" stop-color="#8e538b"/><stop offset="0.082" stop-color="#8e538b"/><stop offset="0.083" stop-color="#85508d"/><stop offset="0.095" stop-color="#85508d"/><stop offset="0.096" stop-color="#7c4c90"/><stop offset="0.109" stop-color="#7c4c90"/><stop offset="0.111" stop-color="#734892"/><stop offset="0.123" stop-color="#734892"/><stop offset="0.124" stop-color="#6a4495"/><stop offset="0.133" stop-color="#6a4495"/><stop offset="0.134" stop-color="#604098"/><stop offset="0.143" stop-color="#604098"/><stop offset="0.144" stop-color="#563c99"/><stop offset="0.214" stop-color="#563c99"/><stop offset="0.215" stop-color="#4b389a"/><stop offset="0.238" stop-color="#4b389a"/><stop offset="0.239" stop-color="#3f359a"/><stop offset="0.250" stop-color="#3f359a"/><stop offset="0.251" stop-color="#34329a"/><stop offset="0.362" stop-color="#34329a"/><stop offset="0.363" stop-color="#29318a"/><stop offset="0.434" stop-color="#29318a"/><stop offset="0.435" stop-color="#1d317b"/><stop offset="0.485" stop-color="#1d317b"/><stop offset="0.486" stop-color="#12306b"/><stop offset="0.535" stop-color="#12306b"/><stop offset="0.536" stop-color="#0b2e5c"/><stop offset="0.674" stop-color="#0b2e5c"/><stop offset="0.676" stop-color="#092a4f"/><stop offset="0.730" stop-color="#092a4f"/><stop offset="0.731" stop-color="#062741"/><stop offset="0.809" stop-color="#062741"/><stop offset="0.810" stop-color="#092a4f"/><stop offset="0.874" stop-color="#092a4f"/><stop offset="0.875" stop-color="#062741"/><stop offset="0.930" stop-color="#062741"/><stop offset="0.931" stop-color="#032333"/><stop offset="1.000" stop-color="#032333"/></linearGradient>
<path id="p37" d="M568.78 60.3L569.53 116.3L572.20 559.2H572.50L575.17 116.3L575.92 60.3"/>
<linearGradient id="g37a" href="#g37" gradientTransform="translate(0 -1.1)"/>
<linearGradient id="g37b" href="#g37" gradientTransform="translate(0 -2.2)"/>
<linearGradient id="g37c" href="#g37" gradientTransform="translate(0 -3.1)"/>
<linearGradient id="g38" gradientUnits="userSpaceOnUse" x1="0" y1="57.5" x2="0" y2="562.0"><stop offset="0.000" stop-color="#e7fa5a"/><stop offset="0.029" stop-color="#e7fa5a"/><stop offset="0.032" stop-color="#f9b93f"/><stop offset="0.033" stop-color="#fbae3c"/><stop offset="0.034" stop-color="#f89b41"/><stop offset="0.037" stop-color="#f48848"/><stop offset="0.039" stop-color="#e27260"/><stop offset="0.040" stop-color="#e27260"/><stop offset="0.044" stop-color="#c86774"/><stop offset="0.045" stop-color="#c86774"/><stop offset="0.046" stop-color="#be637a"/><stop offset="0.048" stop-color="#be637a"/><stop offset="0.049" stop-color="#b4607e"/><stop offset="0.051" stop-color="#b4607e"/><stop offset="0.052" stop-color="#ab5d82"/><stop offset="0.055" stop-color="#ab5d82"/><stop offset="0.056" stop-color="#a15a86"/><stop offset="0.061" stop-color="#a15a86"/><stop offset="0.062" stop-color="#975789"/><stop offset="0.067" stop-color="#975789"/><stop offset="0.068" stop-color="#8e538b"/><stop offset="0.074" stop-color="#8e538b"/><stop offset="0.075" stop-color="#85508d"/><stop offset="0.086" stop-color="#85508d"/><stop offset="0.087" stop-color="#7c4c90"/><stop offset="0.099" stop-color="#7c4c90"/><stop offset="0.100" stop-color="#734892"/><stop offset="0.112" stop-color="#734892"/><stop offset="0.113" stop-color="#6a4495"/><stop offset="0.125" stop-color="#6a4495"/><stop offset="0.126" stop-color="#604098"/><stop offset="0.136" stop-color="#604098"/><stop offset="0.137" stop-color="#563c99"/><stop offset="0.149" stop-color="#563c99"/><stop offset="0.150" stop-color="#4b389a"/><stop offset="0.226" stop-color="#4b389a"/><stop offset="0.227" stop-color="#3f359a"/><stop offset="0.243" stop-color="#3f359a"/><stop offset="0.244" stop-color="#34329a"/><stop offset="0.253" stop-color="#34329a"/><stop offset="0.255" stop-color="#29318a"/><stop offset="0.384" stop-color="#29318a"/><stop offset="0.385" stop-color="#1d317b"/><stop offset="0.450" stop-color="#1d317b"/><stop offset="0.451" stop-color="#12306b"/><stop offset="0.501" stop-color="#12306b"/><stop offset="0.502" stop-color="#0b2e5c"/><stop offset="0.618" stop-color="#0b2e5c"/><stop offset="0.620" stop-color="#092a4f"/><stop offset="0.681" stop-color="#092a4f"/><stop offset="0.683" stop-color="#062741"/><stop offset="0.882" stop-color="#062741"/><stop offset="0.884" stop-color="#032333"/><stop offset="1.000" stop-color="#032333"/></linearGradient>
<path id="p38" d="M575.92 60.3L576.68 116.3L579.34 559.2H579.64L582.31 116.3L583.07 60.3"/>
<linearGradient id="g38a" href="#g38" gradientTransform="translate(0 -1.1)"/>
<linearGradient id="g38b" href="#g38" gradientTransform="translate(0 -2.2)"/>
<linearGradient id="g38c" href="#g38" gradientTransform="translate(0 -3.1)"/>
<linearGradient id="g39" gradientUnits="userSpaceOnUse" x1="0" y1="57.5" x2="0" y2="562.0"><stop offset="0.000" stop-color="#e7fa5a"/><stop offset="0.031" stop-color="#e7fa5a"/><stop offset="0.034" stop-color="#f9b93f"/><stop offset="0.036" stop-color="#faa43e"/><stop offset="0.040" stop-color="#ee8150"/><stop offset="0.044" stop-color="#da6e67"/><stop offset="0.045" stop-color="#da6e67"/><stop offset="0.046" stop-color="#d16a6d"/><stop offset="0.048" stop-color="#d16a6d"/><stop offset="0.049" stop-color="#c86774"/><stop offset="0.050" stop-color="#c86774"/><stop offset="0.051" stop-color="#be637a"/><stop offset="0.052" stop-color="#be637a"/><stop offset="0.054" stop-color="#b4607e"/><stop offset="0.057" stop-color="#b4607e"/><stop offset="0.058" stop-color="#ab5d82"/><stop offset="0.062" stop-color="#ab5d82"/><stop offset="0.063" stop-color="#a15a86"/><stop offset="0.068" stop-color="#a15a86"/><stop offset="0.069" stop-color="#975789"/><stop offset="0.075" stop-color="#975789"/><stop offset="0.076" stop-color="#8e538b"/><stop offset="0.087" stop-color="#8e538b"/><stop offset="0.088" stop-color="#85508d"/><stop offset="0.099" stop-color="#85508d"/><stop offset="0.100" stop-color="#7c4c90"/><stop offset="0.112" stop-color="#7c4c90"/><stop offset="0.113" stop-color="#734892"/><stop offset="0.125" stop-color="#734892"/><stop offset="0.126" stop-color="#6a4495"/><stop offset="0.136" stop-color="#6a4495"/><stop offset="0.137" stop-color="#604098"/><stop offset="0.152" stop-color="#604098"/><stop offset="0.153" stop-color="#563c99"/><stop offset="0.233" stop-color="#563c99"/><stop offset="0.234" stop-color="#4b389a"/><stop offset="0.245" stop-color="#4b389a"/><stop offset="0.246" stop-color="#3f359a"/><stop offset="0.263" stop-color="#3f359a"/><stop offset="0.264" stop-color="#34329a"/><stop offset="0.408" stop-color="#34329a"/><stop offset="0.409" stop-color="#29318a"/><stop offset="0.465" stop-color="#29318a"/><stop offset="0.466" stop-color="#1d317b"/><stop offset="0.519" stop-color="#1d317b"/><stop offset="0.520" stop-color="#12306b"/><stop offset="0.648" stop-color="#12306b"/><stop offset="0.649" stop-color="#0b2e5c"/><stop offset="0.698" stop-color="#0b2e5c"/><stop offset="0.699" stop-color="#092a4f"/><stop offset="0.900" stop-color="#092a4f"/><stop offset="0.902" stop-color="#062741"/><stop offset="0.959" stop-color="#062741"/><stop offset="0.960" stop-color="#032333"/><stop offset="1.000" stop-color="#032333"/></linearGradient>
<path id="p39" d="M583.07 60.3L583.82 116.3L586.49 559.2H586.79L589.46 116.3L590.21 60.3"/>
<linearGradient id="g39a" href="#g39" gradientTransform="translate(0 -1.1)"/>
<linearGradient id="g39b" href="#g39" gradientTransform="translate(0 -2.2)"/>
<linearGradient id="g39c" href="#g39" gradientTransform="translate(0 -3.1)"/>
<linearGradient id="g40" gradientUnits="userSpaceOnUse" x1="0" y1="57.5" x2="0" y2="562.0"><stop offset="0.000" stop-color="#e7fa5a"/><stop offset="0.032" stop-color="#e7fa5a"/><stop offset="0.033" stop-color="#ebef54"/><stop offset="0.037" stop-color="#fbae3c"/><stop offset="0.038" stop-color="#faa43e"/><stop offset="0.039" stop-color="#f79143"/><stop offset="0.045" stop-color="#da6e67"/><stop offset="0.046" stop-color="#da6e67"/><stop offset="0.048" stop-color="#d16a6d"/><stop offset="0.049" stop-color="#d16a6d"/><stop offset="0.051" stop-color="#be637a"/><stop offset="0.054" stop-color="#be637a"/><stop offset="0.055" stop-color="#b4607e"/><stop offset="0.057" stop-color="#b4607e"/><stop offset="0.058" stop-color="#ab5d82"/><stop offset="0.062" stop-color="#ab5d82"/><stop offset="0.063" stop-color="#a15a86"/><stop offset="0.067" stop-color="#a15a86"/><stop offset="0.068" stop-color="#975789"/><stop offset="0.073" stop-color="#975789"/><stop offset="0.074" stop-color="#8e538b"/><stop offset="0.083" stop-color="#8e538b"/><stop offset="0.084" stop-color="#85508d"/><stop offset="0.095" stop-color="#85508d"/><stop offset="0.096" stop-color="#7c4c90"/><stop offset="0.107" stop-color="#7c4c90"/><stop offset="0.108" stop-color="#734892"/><stop offset="0.120" stop-color="#734892"/><stop offset="0.121" stop-color="#6a4495"/><stop offset="0.132" stop-color="#6a4495"/><stop offset="0.133" stop-color="#604098"/><stop offset="0.142" stop-color="#604098"/><stop offset="0.143" stop-color="#563c99"/><stop offset="0.220" stop-color="#563c99"/><stop offset="0.221" stop-color="#4b389a"/><stop offset="0.240" stop-color="#4b389a"/><stop offset="0.241" stop-color="#3f359a"/><stop offset="0.251" stop-color="#3f359a"/><stop offset="0.252" stop-color="#34329a"/><stop offset="0.364" stop-color="#34329a"/><stop offset="0.365" stop-color="#29318a"/><stop offset="0.445" stop-color="#29318a"/><stop offset="0.446" stop-color="#1d317b"/><stop offset="0.501" stop-color="#1d317b"/><stop offset="0.502" stop-color="#12306b"/><stop offset="0.630" stop-color="#12306b"/><stop offset="0.632" stop-color="#0b2e5c"/><stop offset="0.684" stop-color="#0b2e5c"/><stop offset="0.685" stop-color="#092a4f"/><stop offset="0.896" stop-color="#092a4f"/><stop offset="0.897" stop-color="#062741"/><stop offset="0.972" stop-color="#062741"/><stop offset="0.973" stop-color="#032333"/><stop offset="0.979" stop-color="#032333"/><stop offset="0.980" stop-color="#062741"/><stop offset="1.000" stop-color="#062741"/></linearGradient>
<path id="p40" d="M590.21 60.3L590.96 116.3L593.63 559.2H593.93L596.60 116.3L597.35 60.3"/>
<linearGradient id="g40a" href="#g40" gradientTransform="translate(0 -1.1)"/>
<linearGradient id="g40b" href="#g40" gradientTransform="translate(0 -2.2)"/>
<linearGradient id="g40c" href="#g40" gradientTransform="translate(0 -3.1)"/>
<linearGradient id="g41" gradientUnits="userSpaceOnUse" x1="0" y1="57.5" x2="0" y2="562.0"><stop offset="0.000" stop-color="#e7fa5a"/><stop offset="0.031" stop-color="#e7fa5a"/><stop offset="0.032" stop-color="#ebef54"/><stop offset="0.034" stop-color="#f8c342"/><stop offset="0.036" stop-color="#f9b93f"/><stop offset="0.037" stop-color="#faa43e"/><stop offset="0.038" stop-color="#f89b41"/><stop offset="0.039" stop-color="#f48848"/><stop offset="0.043" stop-color="#e27260"/><stop offset="0.044" stop-color="#e27260"/><stop offset="0.046" stop-color="#d16a6d"/><stop offset="0.048" stop-color="#d16a6d"/><stop offset="0.050" stop-color="#be637a"/><stop offset="0.052" stop-color="#be637a"/><stop offset="0.054" stop-color="#b4607e"/><stop offset="0.056" stop-color="#b4607e"/><stop offset="0.057" stop-color="#ab5d82"/><stop offset="0.059" stop-color="#ab5d82"/><stop offset="0.061" stop-color="#a15a86"/><stop offset="0.064" stop-color="#a15a86"/><stop offset="0.065" stop-color="#975789"/><stop offset="0.071" stop-color="#975789"/><stop offset="0.073" stop-color="#8e538b"/><stop offset="0.080" stop-color="#8e538b"/><stop offset="0.081" stop-color="#85508d"/><stop offset="0.092" stop-color="#85508d"/><stop offset="0.093" stop-color="#7c4c90"/><stop offset="0.103" stop-color="#7c4c90"/><stop offset="0.105" stop-color="#734892"/><stop offset="0.117" stop-color="#734892"/><stop offset="0.118" stop-color="#6a4495"/><stop offset="0.130" stop-color="#6a4495"/><stop offset="0.131" stop-color="#604098"/><stop offset="0.139" stop-color="#604098"/><stop offset="0.140" stop-color="#563c99"/><stop offset="0.176" stop-color="#563c99"/><stop offset="0.177" stop-color="#4b389a"/><stop offset="0.237" stop-color="#4b389a"/><stop offset="0.238" stop-color="#3f359a"/><stop offset="0.247" stop-color="#3f359a"/><stop offset="0.249" stop-color="#34329a"/><stop offset="0.272" stop-color="#34329a"/><stop offset="0.274" stop-color="#29318a"/><stop offset="0.404" stop-color="#29318a"/><stop offset="0.406" stop-color="#1d317b"/><stop offset="0.463" stop-color="#1d317b"/><stop offset="0.464" stop-color="#12306b"/><stop offset="0.520" stop-color="#12306b"/><stop offset="0.521" stop-color="#0b2e5c"/><stop offset="0.643" stop-color="#0b2e5c"/><stop offset="0.645" stop-color="#092a4f"/><stop offset="0.697" stop-color="#092a4f"/><stop offset="0.698" stop-color="#062741"/><stop offset="0.766" stop-color="#062741"/><stop offset="0.767" stop-color="#092a4f"/><stop offset="0.861" stop-color="#092a4f"/><stop offset="0.862" stop-color="#062741"/><stop offset="0.915" stop-color="#062741"/><stop offset="0.916" stop-color="#032333"/><stop offset="1.000" stop-color="#032333"/></linearGradient>
<path id="p41" d="M597.35 60.3L598.11 116.3L600.78 559.2H601.08L603.74 116.3L604.50 60.3"/>
<linearGradient id="g41a" href="#g41" gradientTransform="translate(0 -1.1)"/>
<linearGradient id="g41b" href="#g41" gradientTransform="translate(0 -2.2)"/>
<linearGradient id="g41c" href="#g41" gradientTransform="translate(0 -3.1)"/>
<linearGradient id="g42" gradientUnits="userSpaceOnUse" x1="0" y1="57.5" x2="0" y2="562.0"><stop offset="0.000" stop-color="#e7fa5a"/><stop offset="0.045" stop-color="#e7fa5a"/><stop offset="0.046" stop-color="#f4d949"/><stop offset="0.048" stop-color="#f8c342"/><stop offset="0.049" stop-color="#f9b93f"/><stop offset="0.051" stop-color="#f79143"/><stop offset="0.057" stop-color="#da6e67"/><stop offset="0.058" stop-color="#d16a6d"/><stop offset="0.059" stop-color="#d16a6d"/><stop offset="0.062" stop-color="#be637a"/><stop offset="0.063" stop-color="#be637a"/><stop offset="0.064" stop-color="#b4607e"/><stop offset="0.065" stop-color="#b4607e"/><stop offset="0.067" stop-color="#ab5d82"/><stop offset="0.069" stop-color="#ab5d82"/><stop offset="0.070" stop-color="#a15a86"/><stop offset="0.074" stop-color="#a15a86"/><stop offset="0.075" stop-color="#975789"/><stop offset="0.080" stop-color="#975789"/><stop offset="0.081" stop-color="#8e538b"/><stop offset="0.088" stop-color="#8e538b"/><stop offset="0.089" stop-color="#85508d"/><stop offset="0.099" stop-color="#85508d"/><stop offset="0.100" stop-color="#7c4c90"/><stop offset="0.112" stop-color="#7c4c90"/><stop offset="0.113" stop-color="#734892"/><stop offset="0.125" stop-color="#734892"/><stop offset="0.126" stop-color="#6a4495"/><stop offset="0.136" stop-color="#6a4495"/><stop offset="0.137" stop-color="#604098"/><stop offset="0.150" stop-color="#604098"/><stop offset="0.151" stop-color="#563c99"/><stop offset="0.231" stop-color="#563c99"/><stop offset="0.232" stop-color="#4b389a"/><stop offset="0.243" stop-color="#4b389a"/><stop offset="0.244" stop-color="#3f359a"/><stop offset="0.253" stop-color="#3f359a"/><stop offset="0.255" stop-color="#34329a"/><stop offset="0.354" stop-color="#34329a"/><stop offset="0.356" stop-color="#29318a"/><stop offset="0.433" stop-color="#29318a"/><stop offset="0.434" stop-color="#1d317b"/><stop offset="0.483" stop-color="#1d317b"/><stop offset="0.484" stop-color="#12306b"/><stop offset="0.542" stop-color="#12306b"/><stop offset="0.544" stop-color="#0b2e5c"/><stop offset="0.646" stop-color="#0b2e5c"/><stop offset="0.647" stop-color="#092a4f"/><stop offset="0.698" stop-color="#092a4f"/><stop offset="0.699" stop-color="#062741"/><stop offset="0.756" stop-color="#062741"/><stop offset="0.758" stop-color="#092a4f"/><stop offset="0.853" stop-color="#092a4f"/><stop offset="0.854" stop-color="#062741"/><stop offset="0.905" stop-color="#062741"/><stop offset="0.906" stop-color="#032333"/><stop offset="1.000" stop-color="#032333"/></linearGradient>
<path id="p42" d="M604.50 60.3L605.25 116.3L607.92 559.2H608.22L610.89 116.3L611.64 60.3"/>
<linearGradient id="g42a" href="#g42" gradientTransform="translate(0 -1.1)"/>
<linearGradient id="g42b" href="#g42" gradientTransform="translate(0 -2.2)"/>
<linearGradient id="g42c" href="#g42" gradientTransform="translate(0 -3.1)"/>
<linearGradient id="g43" gradientUnits="userSpaceOnUse" x1="0" y1="57.5" x2="0" y2="84.8"><stop offset="0.000" stop-color="#e7fa5a"/><stop offset="0.792" stop-color="#e7fa5a"/><stop offset="0.814" stop-color="#ebef54"/><stop offset="0.836" stop-color="#f7ce45"/><stop offset="0.858" stop-color="#f8c342"/><stop offset="0.880" stop-color="#fbae3c"/><stop offset="0.902" stop-color="#f89b41"/><stop offset="1.000" stop-color="#f89b41"/></linearGradient>
<path id="p43" d="M612.00 60.3L612.40 82.0H612.60L613.00 60.3"/>
<linearGradient id="g43a" href="#g43" gradientTransform="translate(0 -1.1)"/>
<linearGradient id="g43b" href="#g43" gradientTransform="translate(0 -2.2)"/>
<linearGradient id="g43c" href="#g43" gradientTransform="translate(0 -3.1)"/>
<linearGradient id="g44" gradientUnits="userSpaceOnUse" x1="0" y1="57.5" x2="0" y2="85.5"><stop offset="0.000" stop-color="#e7fa5a"/><stop offset="0.836" stop-color="#e7fa5a"/><stop offset="0.858" stop-color="#ebef54"/><stop offset="0.901" stop-color="#f8c342"/><stop offset="1.000" stop-color="#f8c342"/></linearGradient>
<path id="p44" d="M616.20 60.3L616.60 82.7H616.80L617.20 60.3"/>
<linearGradient id="g44a" href="#g44" gradientTransform="translate(0 -1.1)"/>
<linearGradient id="g44b" href="#g44" gradientTransform="translate(0 -2.2)"/>
<linearGradient id="g44c" href="#g44" gradientTransform="translate(0 -3.1)"/>
<linearGradient id="g45" gradientUnits="userSpaceOnUse" x1="0" y1="57.5" x2="0" y2="84.1"><stop offset="0.000" stop-color="#e7fa5a"/><stop offset="1.000" stop-color="#e7fa5a"/></linearGradient>
<path id="p45" d="M620.30 60.3L620.70 81.3H620.90L621.30 60.3"/>
<linearGradient id="g45a" href="#g45" gradientTransform="translate(0 -1.1)"/>
<linearGradient id="g45b" href="#g45" gradientTransform="translate(0 -2.2)"/>
<linearGradient id="g45c" href="#g45" gradientTransform="translate(0 -3.1)"/>
<linearGradient id="g46" gradientUnits="userSpaceOnUse" x1="0" y1="57.5" x2="0" y2="633.8"><stop offset="0.000" stop-color="#e7fa5a"/><stop offset="0.034" stop-color="#e7fa5a"/><stop offset="0.037" stop-color="#f9b93f"/><stop offset="0.039" stop-color="#faa43e"/><stop offset="0.040" stop-color="#f89b41"/><stop offset="0.041" stop-color="#f48848"/><stop offset="0.046" stop-color="#d16a6d"/><stop offset="0.047" stop-color="#d16a6d"/><stop offset="0.049" stop-color="#be637a"/><stop offset="0.050" stop-color="#be637a"/><stop offset="0.051" stop-color="#b4607e"/><stop offset="0.053" stop-color="#b4607e"/><stop offset="0.054" stop-color="#ab5d82"/><stop offset="0.055" stop-color="#ab5d82"/><stop offset="0.056" stop-color="#a15a86"/><stop offset="0.059" stop-color="#a15a86"/><stop offset="0.060" stop-color="#975789"/><stop offset="0.064" stop-color="#975789"/><stop offset="0.065" stop-color="#8e538b"/><stop offset="0.070" stop-color="#8e538b"/><stop offset="0.071" stop-color="#85508d"/><stop offset="0.078" stop-color="#85508d"/><stop offset="0.079" stop-color="#7c4c90"/><stop offset="0.088" stop-color="#7c4c90"/><stop offset="0.090" stop-color="#734892"/><stop offset="0.100" stop-color="#734892"/><stop offset="0.101" stop-color="#6a4495"/><stop offset="0.112" stop-color="#6a4495"/><stop offset="0.113" stop-color="#604098"/><stop offset="0.120" stop-color="#604098"/><stop offset="0.121" stop-color="#563c99"/><stop offset="0.137" stop-color="#563c99"/><stop offset="0.138" stop-color="#4b389a"/><stop offset="0.203" stop-color="#4b389a"/><stop offset="0.204" stop-color="#3f359a"/><stop offset="0.278" stop-color="#3f359a"/><stop offset="0.279" stop-color="#34329a"/><stop offset="0.328" stop-color="#34329a"/><stop offset="0.329" stop-color="#29318a"/><stop offset="0.356" stop-color="#29318a"/><stop offset="0.357" stop-color="#1d317b"/><stop offset="0.394" stop-color="#1d317b"/><stop offset="0.395" stop-color="#12306b"/><stop offset="0.511" stop-color="#12306b"/><stop offset="0.512" stop-color="#0b2e5c"/><stop offset="0.565" stop-color="#0b2e5c"/><stop offset="0.566" stop-color="#092a4f"/><stop offset="0.752" stop-color="#092a4f"/><stop offset="0.753" stop-color="#062741"/><stop offset="0.794" stop-color="#062741"/><stop offset="0.795" stop-color="#032333"/><stop offset="1.000" stop-color="#032333"/></linearGradient>
<path id="p46" d="M621.35 60.3L621.79 116.3L624.85 631.0H625.15L627.85 116.3L628.25 60.3"/>
<linearGradient id="g46a" href="#g46" gradientTransform="translate(0 -1.1)"/>
<linearGradient id="g46b" href="#g46" gradientTransform="translate(0 -2.2)"/>
<linearGradient id="g46c" href="#g46" gradientTransform="translate(0 -3.1)"/>
<linearGradient id="g47" gradientUnits="userSpaceOnUse" x1="0" y1="57.5" x2="0" y2="633.8"><stop offset="0.000" stop-color="#e7fa5a"/><stop offset="0.024" stop-color="#e7fa5a"/><stop offset="0.027" stop-color="#f9b93f"/><stop offset="0.028" stop-color="#fbae3c"/><stop offset="0.029" stop-color="#f89b41"/><stop offset="0.032" stop-color="#ee8150"/><stop offset="0.035" stop-color="#da6e67"/><stop offset="0.036" stop-color="#da6e67"/><stop offset="0.039" stop-color="#c86774"/><stop offset="0.040" stop-color="#c86774"/><stop offset="0.041" stop-color="#be637a"/><stop offset="0.043" stop-color="#be637a"/><stop offset="0.044" stop-color="#b4607e"/><stop offset="0.046" stop-color="#b4607e"/><stop offset="0.047" stop-color="#ab5d82"/><stop offset="0.050" stop-color="#ab5d82"/><stop offset="0.051" stop-color="#a15a86"/><stop offset="0.055" stop-color="#a15a86"/><stop offset="0.056" stop-color="#975789"/><stop offset="0.060" stop-color="#975789"/><stop offset="0.061" stop-color="#8e538b"/><stop offset="0.068" stop-color="#8e538b"/><stop offset="0.069" stop-color="#85508d"/><stop offset="0.078" stop-color="#85508d"/><stop offset="0.079" stop-color="#7c4c90"/><stop offset="0.090" stop-color="#7c4c90"/><stop offset="0.091" stop-color="#734892"/><stop offset="0.101" stop-color="#734892"/><stop offset="0.102" stop-color="#6a4495"/><stop offset="0.113" stop-color="#6a4495"/><stop offset="0.115" stop-color="#604098"/><stop offset="0.121" stop-color="#604098"/><stop offset="0.122" stop-color="#563c99"/><stop offset="0.143" stop-color="#563c99"/><stop offset="0.144" stop-color="#4b389a"/><stop offset="0.202" stop-color="#4b389a"/><stop offset="0.203" stop-color="#3f359a"/><stop offset="0.267" stop-color="#3f359a"/><stop offset="0.268" stop-color="#34329a"/><stop offset="0.325" stop-color="#34329a"/><stop offset="0.326" stop-color="#29318a"/><stop offset="0.352" stop-color="#29318a"/><stop offset="0.353" stop-color="#1d317b"/><stop offset="0.386" stop-color="#1d317b"/><stop offset="0.387" stop-color="#12306b"/><stop offset="0.473" stop-color="#12306b"/><stop offset="0.474" stop-color="#0b2e5c"/><stop offset="0.556" stop-color="#0b2e5c"/><stop offset="0.557" stop-color="#092a4f"/><stop offset="0.753" stop-color="#092a4f"/><stop offset="0.754" stop-color="#062741"/><stop offset="0.807" stop-color="#062741"/><stop offset="0.808" stop-color="#032333"/><stop offset="0.849" stop-color="#032333"/><stop offset="0.850" stop-color="#062741"/><stop offset="0.910" stop-color="#062741"/><stop offset="0.911" stop-color="#032333"/><stop offset="1.000" stop-color="#032333"/></linearGradient>
<path id="p47" d="M628.95 60.3L629.38 116.3L632.35 631.0H632.65L635.80 116.3L636.25 60.3"/>
<linearGradient id="g47a" href="#g47" gradientTransform="translate(0 -1.1)"/>
<linearGradient id="g47b" href="#g47" gradientTransform="translate(0 -2.2)"/>
<linearGradient id="g47c" href="#g47" gradientTransform="translate(0 -3.1)"/>
<linearGradient id="g48" gradientUnits="userSpaceOnUse" x1="0" y1="57.5" x2="0" y2="633.8"><stop offset="0.000" stop-color="#e7fa5a"/><stop offset="0.024" stop-color="#e7fa5a"/><stop offset="0.027" stop-color="#f9b93f"/><stop offset="0.028" stop-color="#fbae3c"/><stop offset="0.029" stop-color="#f89b41"/><stop offset="0.032" stop-color="#ee8150"/><stop offset="0.034" stop-color="#e27260"/><stop offset="0.035" stop-color="#e27260"/><stop offset="0.037" stop-color="#d16a6d"/><stop offset="0.039" stop-color="#d16a6d"/><stop offset="0.040" stop-color="#c86774"/><stop offset="0.041" stop-color="#c86774"/><stop offset="0.042" stop-color="#be637a"/><stop offset="0.044" stop-color="#be637a"/><stop offset="0.045" stop-color="#b4607e"/><stop offset="0.048" stop-color="#b4607e"/><stop offset="0.049" stop-color="#ab5d82"/><stop offset="0.052" stop-color="#ab5d82"/><stop offset="0.053" stop-color="#a15a86"/><stop offset="0.058" stop-color="#a15a86"/><stop offset="0.059" stop-color="#975789"/><stop offset="0.065" stop-color="#975789"/><stop offset="0.066" stop-color="#8e538b"/><stop offset="0.075" stop-color="#8e538b"/><stop offset="0.076" stop-color="#85508d"/><stop offset="0.086" stop-color="#85508d"/><stop offset="0.087" stop-color="#7c4c90"/><stop offset="0.099" stop-color="#7c4c90"/><stop offset="0.100" stop-color="#734892"/><stop offset="0.111" stop-color="#734892"/><stop offset="0.112" stop-color="#6a4495"/><stop offset="0.120" stop-color="#6a4495"/><stop offset="0.121" stop-color="#604098"/><stop offset="0.134" stop-color="#604098"/><stop offset="0.135" stop-color="#563c99"/><stop offset="0.193" stop-color="#563c99"/><stop offset="0.194" stop-color="#4b389a"/><stop offset="0.243" stop-color="#4b389a"/><stop offset="0.244" stop-color="#3f359a"/><stop offset="0.315" stop-color="#3f359a"/><stop offset="0.316" stop-color="#34329a"/><stop offset="0.343" stop-color="#34329a"/><stop offset="0.344" stop-color="#29318a"/><stop offset="0.369" stop-color="#29318a"/><stop offset="0.370" stop-color="#1d317b"/><stop offset="0.416" stop-color="#1d317b"/><stop offset="0.417" stop-color="#12306b"/><stop offset="0.527" stop-color="#12306b"/><stop offset="0.528" stop-color="#0b2e5c"/><stop offset="0.571" stop-color="#0b2e5c"/><stop offset="0.572" stop-color="#092a4f"/><stop offset="0.645" stop-color="#092a4f"/><stop offset="0.647" stop-color="#0b2e5c"/><stop offset="0.719" stop-color="#0b2e5c"/><stop offset="0.720" stop-color="#092a4f"/><stop offset="0.761" stop-color="#092a4f"/><stop offset="0.762" stop-color="#062741"/><stop offset="0.953" stop-color="#062741"/><stop offset="0.954" stop-color="#032333"/><stop offset="1.000" stop-color="#032333"/></linearGradient>
<path id="p48" d="M636.95 60.3L637.36 116.3L640.15 631.0H640.45L643.87 116.3L644.35 60.3"/>
<linearGradient id="g48a" href="#g48" gradientTransform="translate(0 -1.1)"/>
<linearGradient id="g48b" href="#g48" gradientTransform="translate(0 -2.2)"/>
<linearGradient id="g48c" href="#g48" gradientTransform="translate(0 -3.1)"/>
<linearGradient id="g49" gradientUnits="userSpaceOnUse" x1="0" y1="57.5" x2="0" y2="633.8"><stop offset="0.000" stop-color="#e7fa5a"/><stop offset="0.027" stop-color="#e7fa5a"/><stop offset="0.028" stop-color="#ebef54"/><stop offset="0.030" stop-color="#f8c342"/><stop offset="0.031" stop-color="#f9b93f"/><stop offset="0.032" stop-color="#faa43e"/><stop offset="0.033" stop-color="#f89b41"/><stop offset="0.034" stop-color="#f48848"/><stop offset="0.037" stop-color="#e27260"/><stop offset="0.039" stop-color="#e27260"/><stop offset="0.041" stop-color="#d16a6d"/><stop offset="0.042" stop-color="#d16a6d"/><stop offset="0.043" stop-color="#c86774"/><stop offset="0.044" stop-color="#c86774"/><stop offset="0.045" stop-color="#be637a"/><stop offset="0.046" stop-color="#be637a"/><stop offset="0.047" stop-color="#b4607e"/><stop offset="0.049" stop-color="#b4607e"/><stop offset="0.050" stop-color="#ab5d82"/><stop offset="0.052" stop-color="#ab5d82"/><stop offset="0.053" stop-color="#a15a86"/><stop offset="0.057" stop-color="#a15a86"/><stop offset="0.058" stop-color="#975789"/><stop offset="0.062" stop-color="#975789"/><stop offset="0.064" stop-color="#8e538b"/><stop offset="0.071" stop-color="#8e538b"/><stop offset="0.072" stop-color="#85508d"/><stop offset="0.082" stop-color="#85508d"/><stop offset="0.083" stop-color="#7c4c90"/><stop offset="0.094" stop-color="#7c4c90"/><stop offset="0.095" stop-color="#734892"/><stop offset="0.107" stop-color="#734892"/><stop offset="0.108" stop-color="#6a4495"/><stop offset="0.118" stop-color="#6a4495"/><stop offset="0.119" stop-color="#604098"/><stop offset="0.125" stop-color="#604098"/><stop offset="0.126" stop-color="#563c99"/><stop offset="0.183" stop-color="#563c99"/><stop offset="0.184" stop-color="#4b389a"/><stop offset="0.225" stop-color="#4b389a"/><stop offset="0.226" stop-color="#3f359a"/><stop offset="0.310" stop-color="#3f359a"/><stop offset="0.311" stop-color="#34329a"/><stop offset="0.338" stop-color="#34329a"/><stop offset="0.339" stop-color="#29318a"/><stop offset="0.366" stop-color="#29318a"/><stop offset="0.368" stop-color="#1d317b"/><stop offset="0.419" stop-color="#1d317b"/><stop offset="0.420" stop-color="#12306b"/><stop offset="0.520" stop-color="#12306b"/><stop offset="0.521" stop-color="#0b2e5c"/><stop offset="0.562" stop-color="#0b2e5c"/><stop offset="0.563" stop-color="#092a4f"/><stop offset="0.647" stop-color="#092a4f"/><stop offset="0.648" stop-color="#0b2e5c"/><stop offset="0.704" stop-color="#0b2e5c"/><stop offset="0.705" stop-color="#092a4f"/><stop offset="0.745" stop-color="#092a4f"/><stop offset="0.746" stop-color="#062741"/><stop offset="0.894" stop-color="#062741"/><stop offset="0.895" stop-color="#032333"/><stop offset="1.000" stop-color="#032333"/></linearGradient>
<path id="p49" d="M645.05 60.3L645.50 116.3L648.60 631.0H648.90L652.00 116.3L652.45 60.3"/>
<linearGradient id="g49a" href="#g49" gradientTransform="translate(0 -1.1)"/>
<linearGradient id="g49b" href="#g49" gradientTransform="translate(0 -2.2)"/>
<linearGradient id="g49c" href="#g49" gradientTransform="translate(0 -3.1)"/>
<linearGradient id="g50" gradientUnits="userSpaceOnUse" x1="0" y1="57.5" x2="0" y2="691.9"><stop offset="0.000" stop-color="#e7fa5a"/><stop offset="0.023" stop-color="#e7fa5a"/><stop offset="0.026" stop-color="#f9b93f"/><stop offset="0.026" stop-color="#fbae3c"/><stop offset="0.027" stop-color="#f89b41"/><stop offset="0.030" stop-color="#ee8150"/><stop offset="0.032" stop-color="#e27260"/><stop offset="0.033" stop-color="#e27260"/><stop offset="0.035" stop-color="#d16a6d"/><stop offset="0.036" stop-color="#d16a6d"/><stop offset="0.037" stop-color="#c86774"/><stop offset="0.038" stop-color="#c86774"/><stop offset="0.039" stop-color="#be637a"/><stop offset="0.040" stop-color="#be637a"/><stop offset="0.041" stop-color="#b4607e"/><stop offset="0.044" stop-color="#b4607e"/><stop offset="0.044" stop-color="#ab5d82"/><stop offset="0.047" stop-color="#ab5d82"/><stop offset="0.048" stop-color="#a15a86"/><stop offset="0.052" stop-color="#a15a86"/><stop offset="0.053" stop-color="#975789"/><stop offset="0.058" stop-color="#975789"/><stop offset="0.059" stop-color="#8e538b"/><stop offset="0.065" stop-color="#8e538b"/><stop offset="0.066" stop-color="#85508d"/><stop offset="0.076" stop-color="#85508d"/><stop offset="0.077" stop-color="#7c4c90"/><stop offset="0.087" stop-color="#7c4c90"/><stop offset="0.088" stop-color="#734892"/><stop offset="0.099" stop-color="#734892"/><stop offset="0.100" stop-color="#6a4495"/><stop offset="0.110" stop-color="#6a4495"/><stop offset="0.111" stop-color="#604098"/><stop offset="0.144" stop-color="#604098"/><stop offset="0.145" stop-color="#563c99"/><stop offset="0.186" stop-color="#563c99"/><stop offset="0.187" stop-color="#4b389a"/><stop offset="0.217" stop-color="#4b389a"/><stop offset="0.218" stop-color="#3f359a"/><stop offset="0.271" stop-color="#3f359a"/><stop offset="0.271" stop-color="#34329a"/><stop offset="0.306" stop-color="#34329a"/><stop offset="0.307" stop-color="#29318a"/><stop offset="0.375" stop-color="#29318a"/><stop offset="0.376" stop-color="#1d317b"/><stop offset="0.456" stop-color="#1d317b"/><stop offset="0.457" stop-color="#12306b"/><stop offset="0.494" stop-color="#12306b"/><stop offset="0.495" stop-color="#0b2e5c"/><stop offset="0.598" stop-color="#0b2e5c"/><stop offset="0.599" stop-color="#12306b"/><stop offset="0.620" stop-color="#12306b"/><stop offset="0.621" stop-color="#0b2e5c"/><stop offset="0.665" stop-color="#0b2e5c"/><stop offset="0.666" stop-color="#092a4f"/><stop offset="0.708" stop-color="#092a4f"/><stop offset="0.709" stop-color="#062741"/><stop offset="0.878" stop-color="#062741"/><stop offset="0.879" stop-color="#032333"/><stop offset="1.000" stop-color="#032333"/></linearGradient>
<path id="p50" d="M653.70 60.3L657.35 689.1H657.65L661.30 60.3"/>
<linearGradient id="g50a" href="#g50" gradientTransform="translate(0 -1.1)"/>
<linearGradient id="g50b" href="#g50" gradientTransform="translate(0 -2.2)"/>
<linearGradient id="g50c" href="#g50" gradientTransform="translate(0 -3.1)"/>
<linearGradient id="g51" gradientUnits="userSpaceOnUse" x1="0" y1="57.5" x2="0" y2="691.9"><stop offset="0.000" stop-color="#e7fa5a"/><stop offset="0.018" stop-color="#e7fa5a"/><stop offset="0.019" stop-color="#ebef54"/><stop offset="0.022" stop-color="#fbae3c"/><stop offset="0.024" stop-color="#f89b41"/><stop offset="0.025" stop-color="#f48848"/><stop offset="0.026" stop-color="#e87a58"/><stop offset="0.028" stop-color="#e27260"/><stop offset="0.030" stop-color="#d16a6d"/><stop offset="0.031" stop-color="#d16a6d"/><stop offset="0.032" stop-color="#c86774"/><stop offset="0.033" stop-color="#c86774"/><stop offset="0.034" stop-color="#be637a"/><stop offset="0.036" stop-color="#be637a"/><stop offset="0.037" stop-color="#b4607e"/><stop offset="0.039" stop-color="#b4607e"/><stop offset="0.040" stop-color="#ab5d82"/><stop offset="0.043" stop-color="#ab5d82"/><stop offset="0.044" stop-color="#a15a86"/><stop offset="0.047" stop-color="#a15a86"/><stop offset="0.048" stop-color="#975789"/><stop offset="0.053" stop-color="#975789"/><stop offset="0.054" stop-color="#8e538b"/><stop offset="0.060" stop-color="#8e538b"/><stop offset="0.061" stop-color="#85508d"/><stop offset="0.069" stop-color="#85508d"/><stop offset="0.070" stop-color="#7c4c90"/><stop offset="0.080" stop-color="#7c4c90"/><stop offset="0.081" stop-color="#734892"/><stop offset="0.093" stop-color="#734892"/><stop offset="0.094" stop-color="#6a4495"/><stop offset="0.105" stop-color="#6a4495"/><stop offset="0.106" stop-color="#604098"/><stop offset="0.124" stop-color="#604098"/><stop offset="0.125" stop-color="#563c99"/><stop offset="0.167" stop-color="#563c99"/><stop offset="0.168" stop-color="#4b389a"/><stop offset="0.198" stop-color="#4b389a"/><stop offset="0.199" stop-color="#3f359a"/><stop offset="0.222" stop-color="#3f359a"/><stop offset="0.223" stop-color="#34329a"/><stop offset="0.273" stop-color="#34329a"/><stop offset="0.274" stop-color="#29318a"/><stop offset="0.308" stop-color="#29318a"/><stop offset="0.309" stop-color="#1d317b"/><stop offset="0.414" stop-color="#1d317b"/><stop offset="0.415" stop-color="#12306b"/><stop offset="0.459" stop-color="#12306b"/><stop offset="0.460" stop-color="#0b2e5c"/><stop offset="0.494" stop-color="#0b2e5c"/><stop offset="0.495" stop-color="#092a4f"/><stop offset="0.573" stop-color="#092a4f"/><stop offset="0.574" stop-color="#0b2e5c"/><stop offset="0.631" stop-color="#0b2e5c"/><stop offset="0.632" stop-color="#092a4f"/><stop offset="0.670" stop-color="#092a4f"/><stop offset="0.671" stop-color="#062741"/><stop offset="0.820" stop-color="#062741"/><stop offset="0.821" stop-color="#032333"/><stop offset="1.000" stop-color="#032333"/></linearGradient>
<path id="p51" d="M663.10 60.3L666.60 689.1H666.90L670.40 60.3"/>
<linearGradient id="g51a" href="#g51" gradientTransform="translate(0 -1.1)"/>
<linearGradient id="g51b" href="#g51" gradientTransform="translate(0 -2.2)"/>
<linearGradient id="g51c" href="#g51" gradientTransform="translate(0 -3.1)"/>
<linearGradient id="g52" gradientUnits="userSpaceOnUse" x1="0" y1="57.5" x2="0" y2="691.9"><stop offset="0.000" stop-color="#e7fa5a"/><stop offset="0.015" stop-color="#e7fa5a"/><stop offset="0.016" stop-color="#ebef54"/><stop offset="0.018" stop-color="#f8c342"/><stop offset="0.019" stop-color="#f9b93f"/><stop offset="0.020" stop-color="#faa43e"/><stop offset="0.024" stop-color="#ee8150"/><stop offset="0.026" stop-color="#e27260"/><stop offset="0.026" stop-color="#e27260"/><stop offset="0.028" stop-color="#d16a6d"/><stop offset="0.029" stop-color="#d16a6d"/><stop offset="0.030" stop-color="#c86774"/><stop offset="0.032" stop-color="#c86774"/><stop offset="0.033" stop-color="#be637a"/><stop offset="0.035" stop-color="#be637a"/><stop offset="0.036" stop-color="#b4607e"/><stop offset="0.039" stop-color="#b4607e"/><stop offset="0.040" stop-color="#ab5d82"/><stop offset="0.044" stop-color="#ab5d82"/><stop offset="0.044" stop-color="#a15a86"/><stop offset="0.049" stop-color="#a15a86"/><stop offset="0.050" stop-color="#975789"/><stop offset="0.056" stop-color="#975789"/><stop offset="0.057" stop-color="#8e538b"/><stop offset="0.065" stop-color="#8e538b"/><stop offset="0.066" stop-color="#85508d"/><stop offset="0.077" stop-color="#85508d"/><stop offset="0.078" stop-color="#7c4c90"/><stop offset="0.089" stop-color="#7c4c90"/><stop offset="0.090" stop-color="#734892"/><stop offset="0.101" stop-color="#734892"/><stop offset="0.102" stop-color="#6a4495"/><stop offset="0.114" stop-color="#6a4495"/><stop offset="0.114" stop-color="#604098"/><stop offset="0.152" stop-color="#604098"/><stop offset="0.153" stop-color="#563c99"/><stop offset="0.187" stop-color="#563c99"/><stop offset="0.188" stop-color="#4b389a"/><stop offset="0.214" stop-color="#4b389a"/><stop offset="0.215" stop-color="#3f359a"/><stop offset="0.258" stop-color="#3f359a"/><stop offset="0.259" stop-color="#34329a"/><stop offset="0.297" stop-color="#34329a"/><stop offset="0.298" stop-color="#29318a"/><stop offset="0.384" stop-color="#29318a"/><stop offset="0.385" stop-color="#1d317b"/><stop offset="0.439" stop-color="#1d317b"/><stop offset="0.440" stop-color="#12306b"/><stop offset="0.473" stop-color="#12306b"/><stop offset="0.474" stop-color="#0b2e5c"/><stop offset="0.642" stop-color="#0b2e5c"/><stop offset="0.643" stop-color="#092a4f"/><stop offset="0.680" stop-color="#092a4f"/><stop offset="0.681" stop-color="#062741"/><stop offset="0.847" stop-color="#062741"/><stop offset="0.847" stop-color="#032333"/><stop offset="1.000" stop-color="#032333"/></linearGradient>
<path id="p52" d="M672.20 60.3L675.75 689.1H676.05L679.60 60.3"/>
<linearGradient id="g52a" href="#g52" gradientTransform="translate(0 -1.1)"/>
<linearGradient id="g52b" href="#g52" gradientTransform="translate(0 -2.2)"/>
<linearGradient id="g52c" href="#g52" gradientTransform="translate(0 -3.1)"/>
<linearGradient id="g53" gradientUnits="userSpaceOnUse" x1="0" y1="57.5" x2="0" y2="691.9"><stop offset="0.000" stop-color="#e7fa5a"/><stop offset="0.016" stop-color="#e7fa5a"/><stop offset="0.019" stop-color="#f9b93f"/><stop offset="0.020" stop-color="#fbae3c"/><stop offset="0.021" stop-color="#f89b41"/><stop offset="0.024" stop-color="#ee8150"/><stop offset="0.026" stop-color="#e27260"/><stop offset="0.026" stop-color="#e27260"/><stop offset="0.028" stop-color="#d16a6d"/><stop offset="0.029" stop-color="#d16a6d"/><stop offset="0.030" stop-color="#c86774"/><stop offset="0.032" stop-color="#c86774"/><stop offset="0.033" stop-color="#be637a"/><stop offset="0.034" stop-color="#be637a"/><stop offset="0.035" stop-color="#b4607e"/><stop offset="0.038" stop-color="#b4607e"/><stop offset="0.039" stop-color="#ab5d82"/><stop offset="0.043" stop-color="#ab5d82"/><stop offset="0.044" stop-color="#a15a86"/><stop offset="0.048" stop-color="#a15a86"/><stop offset="0.049" stop-color="#975789"/><stop offset="0.054" stop-color="#975789"/><stop offset="0.055" stop-color="#8e538b"/><stop offset="0.062" stop-color="#8e538b"/><stop offset="0.063" stop-color="#85508d"/><stop offset="0.074" stop-color="#85508d"/><stop offset="0.075" stop-color="#7c4c90"/><stop offset="0.085" stop-color="#7c4c90"/><stop offset="0.086" stop-color="#734892"/><stop offset="0.098" stop-color="#734892"/><stop offset="0.099" stop-color="#6a4495"/><stop offset="0.112" stop-color="#6a4495"/><stop offset="0.113" stop-color="#604098"/><stop offset="0.151" stop-color="#604098"/><stop offset="0.152" stop-color="#563c99"/><stop offset="0.197" stop-color="#563c99"/><stop offset="0.198" stop-color="#4b389a"/><stop offset="0.234" stop-color="#4b389a"/><stop offset="0.235" stop-color="#3f359a"/><stop offset="0.273" stop-color="#3f359a"/><stop offset="0.274" stop-color="#34329a"/><stop offset="0.318" stop-color="#34329a"/><stop offset="0.319" stop-color="#29318a"/><stop offset="0.427" stop-color="#29318a"/><stop offset="0.428" stop-color="#1d317b"/><stop offset="0.456" stop-color="#1d317b"/><stop offset="0.457" stop-color="#12306b"/><stop offset="0.489" stop-color="#12306b"/><stop offset="0.490" stop-color="#0b2e5c"/><stop offset="0.568" stop-color="#0b2e5c"/><stop offset="0.568" stop-color="#12306b"/><stop offset="0.609" stop-color="#12306b"/><stop offset="0.610" stop-color="#0b2e5c"/><stop offset="0.649" stop-color="#0b2e5c"/><stop offset="0.650" stop-color="#092a4f"/><stop offset="0.697" stop-color="#092a4f"/><stop offset="0.698" stop-color="#062741"/><stop offset="0.856" stop-color="#062741"/><stop offset="0.857" stop-color="#032333"/><stop offset="1.000" stop-color="#032333"/></linearGradient>
<path id="p53" d="M681.40 60.3L684.85 689.1H685.15L688.60 60.3"/>
<linearGradient id="g53a" href="#g53" gradientTransform="translate(0 -1.1)"/>
<linearGradient id="g53b" href="#g53" gradientTransform="translate(0 -2.2)"/>
<linearGradient id="g53c" href="#g53" gradientTransform="translate(0 -3.1)"/>
<linearGradient id="g54" gradientUnits="userSpaceOnUse" x1="0" y1="57.5" x2="0" y2="691.9"><stop offset="0.000" stop-color="#e7fa5a"/><stop offset="0.018" stop-color="#e7fa5a"/><stop offset="0.021" stop-color="#f9b93f"/><stop offset="0.022" stop-color="#fbae3c"/><stop offset="0.023" stop-color="#f89b41"/><stop offset="0.026" stop-color="#ee8150"/><stop offset="0.028" stop-color="#e27260"/><stop offset="0.029" stop-color="#da6e67"/><stop offset="0.030" stop-color="#da6e67"/><stop offset="0.031" stop-color="#d16a6d"/><stop offset="0.032" stop-color="#d16a6d"/><stop offset="0.033" stop-color="#c86774"/><stop offset="0.034" stop-color="#c86774"/><stop offset="0.035" stop-color="#be637a"/><stop offset="0.037" stop-color="#be637a"/><stop offset="0.038" stop-color="#b4607e"/><stop offset="0.041" stop-color="#b4607e"/><stop offset="0.042" stop-color="#ab5d82"/><stop offset="0.045" stop-color="#ab5d82"/><stop offset="0.046" stop-color="#a15a86"/><stop offset="0.051" stop-color="#a15a86"/><stop offset="0.052" stop-color="#975789"/><stop offset="0.058" stop-color="#975789"/><stop offset="0.059" stop-color="#8e538b"/><stop offset="0.067" stop-color="#8e538b"/><stop offset="0.068" stop-color="#85508d"/><stop offset="0.079" stop-color="#85508d"/><stop offset="0.079" stop-color="#7c4c90"/><stop offset="0.091" stop-color="#7c4c90"/><stop offset="0.092" stop-color="#734892"/><stop offset="0.102" stop-color="#734892"/><stop offset="0.103" stop-color="#6a4495"/><stop offset="0.137" stop-color="#6a4495"/><stop offset="0.138" stop-color="#604098"/><stop offset="0.200" stop-color="#604098"/><stop offset="0.201" stop-color="#563c99"/><stop offset="0.244" stop-color="#563c99"/><stop offset="0.245" stop-color="#4b389a"/><stop offset="0.270" stop-color="#4b389a"/><stop offset="0.271" stop-color="#3f359a"/><stop offset="0.321" stop-color="#3f359a"/><stop offset="0.322" stop-color="#34329a"/><stop offset="0.385" stop-color="#34329a"/><stop offset="0.386" stop-color="#3f359a"/><stop offset="0.391" stop-color="#3f359a"/><stop offset="0.392" stop-color="#34329a"/><stop offset="0.428" stop-color="#34329a"/><stop offset="0.428" stop-color="#29318a"/><stop offset="0.454" stop-color="#29318a"/><stop offset="0.455" stop-color="#1d317b"/><stop offset="0.484" stop-color="#1d317b"/><stop offset="0.485" stop-color="#12306b"/><stop offset="0.635" stop-color="#12306b"/><stop offset="0.636" stop-color="#0b2e5c"/><stop offset="0.676" stop-color="#0b2e5c"/><stop offset="0.677" stop-color="#092a4f"/><stop offset="0.832" stop-color="#092a4f"/><stop offset="0.833" stop-color="#062741"/><stop offset="0.934" stop-color="#062741"/><stop offset="0.934" stop-color="#032333"/><stop offset="1.000" stop-color="#032333"/></linearGradient>
<path id="p54" d="M690.40 60.3L693.95 689.1H694.25L697.90 60.3"/>
<linearGradient id="g54a" href="#g54" gradientTransform="translate(0 -1.1)"/>
<linearGradient id="g54b" href="#g54" gradientTransform="translate(0 -2.2)"/>
<linearGradient id="g54c" href="#g54" gradientTransform="translate(0 -3.1)"/>
<linearGradient id="g55" gradientUnits="userSpaceOnUse" x1="0" y1="57.5" x2="0" y2="647.6"><stop offset="0.000" stop-color="#e7fa5a"/><stop offset="0.018" stop-color="#e7fa5a"/><stop offset="0.019" stop-color="#ebef54"/><stop offset="0.022" stop-color="#fbae3c"/><stop offset="0.023" stop-color="#faa43e"/><stop offset="0.024" stop-color="#f79143"/><stop offset="0.028" stop-color="#e27260"/><stop offset="0.029" stop-color="#e27260"/><stop offset="0.032" stop-color="#d16a6d"/><stop offset="0.033" stop-color="#d16a6d"/><stop offset="0.034" stop-color="#c86774"/><stop offset="0.035" stop-color="#c86774"/><stop offset="0.036" stop-color="#be637a"/><stop offset="0.038" stop-color="#be637a"/><stop offset="0.039" stop-color="#b4607e"/><stop offset="0.041" stop-color="#b4607e"/><stop offset="0.042" stop-color="#ab5d82"/><stop offset="0.045" stop-color="#ab5d82"/><stop offset="0.046" stop-color="#a15a86"/><stop offset="0.051" stop-color="#a15a86"/><stop offset="0.052" stop-color="#975789"/><stop offset="0.057" stop-color="#975789"/><stop offset="0.058" stop-color="#8e538b"/><stop offset="0.064" stop-color="#8e538b"/><stop offset="0.065" stop-color="#85508d"/><stop offset="0.076" stop-color="#85508d"/><stop offset="0.077" stop-color="#7c4c90"/><stop offset="0.089" stop-color="#7c4c90"/><stop offset="0.090" stop-color="#734892"/><stop offset="0.103" stop-color="#734892"/><stop offset="0.104" stop-color="#6a4495"/><stop offset="0.118" stop-color="#6a4495"/><stop offset="0.119" stop-color="#604098"/><stop offset="0.159" stop-color="#604098"/><stop offset="0.160" stop-color="#563c99"/><stop offset="0.231" stop-color="#563c99"/><stop offset="0.232" stop-color="#4b389a"/><stop offset="0.270" stop-color="#4b389a"/><stop offset="0.271" stop-color="#3f359a"/><stop offset="0.295" stop-color="#3f359a"/><stop offset="0.296" stop-color="#34329a"/><stop offset="0.426" stop-color="#34329a"/><stop offset="0.427" stop-color="#29318a"/><stop offset="0.460" stop-color="#29318a"/><stop offset="0.461" stop-color="#1d317b"/><stop offset="0.485" stop-color="#1d317b"/><stop offset="0.486" stop-color="#12306b"/><stop offset="0.519" stop-color="#12306b"/><stop offset="0.520" stop-color="#0b2e5c"/><stop offset="0.674" stop-color="#0b2e5c"/><stop offset="0.675" stop-color="#092a4f"/><stop offset="0.718" stop-color="#092a4f"/><stop offset="0.719" stop-color="#062741"/><stop offset="0.891" stop-color="#062741"/><stop offset="0.892" stop-color="#032333"/><stop offset="1.000" stop-color="#032333"/></linearGradient>
<path id="p55" d="M699.35 60.3L702.85 644.8H703.15L706.65 60.3"/>
<linearGradient id="g55a" href="#g55" gradientTransform="translate(0 -1.1)"/>
<linearGradient id="g55b" href="#g55" gradientTransform="translate(0 -2.2)"/>
<linearGradient id="g55c" href="#g55" gradientTransform="translate(0 -3.1)"/>
<linearGradient id="g56" gradientUnits="userSpaceOnUse" x1="0" y1="57.5" x2="0" y2="647.6"><stop offset="0.000" stop-color="#e7fa5a"/><stop offset="0.025" stop-color="#e7fa5a"/><stop offset="0.027" stop-color="#f7ce45"/><stop offset="0.028" stop-color="#f8c342"/><stop offset="0.029" stop-color="#fbae3c"/><stop offset="0.031" stop-color="#faa43e"/><stop offset="0.032" stop-color="#f79143"/><stop offset="0.037" stop-color="#da6e67"/><stop offset="0.038" stop-color="#da6e67"/><stop offset="0.040" stop-color="#c86774"/><stop offset="0.041" stop-color="#c86774"/><stop offset="0.042" stop-color="#be637a"/><stop offset="0.044" stop-color="#be637a"/><stop offset="0.045" stop-color="#b4607e"/><stop offset="0.047" stop-color="#b4607e"/><stop offset="0.048" stop-color="#ab5d82"/><stop offset="0.051" stop-color="#ab5d82"/><stop offset="0.052" stop-color="#a15a86"/><stop offset="0.056" stop-color="#a15a86"/><stop offset="0.057" stop-color="#975789"/><stop offset="0.062" stop-color="#975789"/><stop offset="0.063" stop-color="#8e538b"/><stop offset="0.071" stop-color="#8e538b"/><stop offset="0.072" stop-color="#85508d"/><stop offset="0.083" stop-color="#85508d"/><stop offset="0.084" stop-color="#7c4c90"/><stop offset="0.096" stop-color="#7c4c90"/><stop offset="0.097" stop-color="#734892"/><stop offset="0.108" stop-color="#734892"/><stop offset="0.109" stop-color="#6a4495"/><stop offset="0.135" stop-color="#6a4495"/><stop offset="0.136" stop-color="#604098"/><stop offset="0.177" stop-color="#604098"/><stop offset="0.178" stop-color="#563c99"/><stop offset="0.254" stop-color="#563c99"/><stop offset="0.255" stop-color="#4b389a"/><stop offset="0.284" stop-color="#4b389a"/><stop offset="0.285" stop-color="#3f359a"/><stop offset="0.318" stop-color="#3f359a"/><stop offset="0.319" stop-color="#34329a"/><stop offset="0.445" stop-color="#34329a"/><stop offset="0.446" stop-color="#29318a"/><stop offset="0.471" stop-color="#29318a"/><stop offset="0.472" stop-color="#1d317b"/><stop offset="0.499" stop-color="#1d317b"/><stop offset="0.500" stop-color="#12306b"/><stop offset="0.648" stop-color="#12306b"/><stop offset="0.649" stop-color="#0b2e5c"/><stop offset="0.687" stop-color="#0b2e5c"/><stop offset="0.688" stop-color="#092a4f"/><stop offset="0.796" stop-color="#092a4f"/><stop offset="0.797" stop-color="#062741"/><stop offset="0.922" stop-color="#062741"/><stop offset="0.923" stop-color="#032333"/><stop offset="1.000" stop-color="#032333"/></linearGradient>
<path id="p56" d="M707.75 60.3L711.10 644.8H711.40L714.75 60.3"/>
<linearGradient id="g56a" href="#g56" gradientTransform="translate(0 -1.1)"/>
<linearGradient id="g56b" href="#g56" gradientTransform="translate(0 -2.2)"/>
<linearGradient id="g56c" href="#g56" gradientTransform="translate(0 -3.1)"/>
<linearGradient id="g57" gradientUnits="userSpaceOnUse" x1="0" y1="57.5" x2="0" y2="648.1"><stop offset="0.000" stop-color="#e7fa5a"/><stop offset="0.022" stop-color="#e7fa5a"/><stop offset="0.025" stop-color="#f9b93f"/><stop offset="0.026" stop-color="#fbae3c"/><stop offset="0.027" stop-color="#f89b41"/><stop offset="0.030" stop-color="#ee8150"/><stop offset="0.033" stop-color="#e27260"/><stop offset="0.034" stop-color="#e27260"/><stop offset="0.036" stop-color="#d16a6d"/><stop offset="0.037" stop-color="#d16a6d"/><stop offset="0.038" stop-color="#c86774"/><stop offset="0.039" stop-color="#c86774"/><stop offset="0.040" stop-color="#be637a"/><stop offset="0.042" stop-color="#be637a"/><stop offset="0.043" stop-color="#b4607e"/><stop offset="0.045" stop-color="#b4607e"/><stop offset="0.046" stop-color="#ab5d82"/><stop offset="0.050" stop-color="#ab5d82"/><stop offset="0.051" stop-color="#a15a86"/><stop offset="0.055" stop-color="#a15a86"/><stop offset="0.056" stop-color="#975789"/><stop offset="0.062" stop-color="#975789"/><stop offset="0.063" stop-color="#8e538b"/><stop offset="0.072" stop-color="#8e538b"/><stop offset="0.073" stop-color="#85508d"/><stop offset="0.084" stop-color="#85508d"/><stop offset="0.085" stop-color="#7c4c90"/><stop offset="0.098" stop-color="#7c4c90"/><stop offset="0.099" stop-color="#734892"/><stop offset="0.109" stop-color="#734892"/><stop offset="0.110" stop-color="#6a4495"/><stop offset="0.135" stop-color="#6a4495"/><stop offset="0.136" stop-color="#604098"/><stop offset="0.176" stop-color="#604098"/><stop offset="0.177" stop-color="#563c99"/><stop offset="0.254" stop-color="#563c99"/><stop offset="0.255" stop-color="#4b389a"/><stop offset="0.283" stop-color="#4b389a"/><stop offset="0.284" stop-color="#3f359a"/><stop offset="0.316" stop-color="#3f359a"/><stop offset="0.317" stop-color="#34329a"/><stop offset="0.443" stop-color="#34329a"/><stop offset="0.444" stop-color="#29318a"/><stop offset="0.468" stop-color="#29318a"/><stop offset="0.469" stop-color="#1d317b"/><stop offset="0.499" stop-color="#1d317b"/><stop offset="0.500" stop-color="#12306b"/><stop offset="0.648" stop-color="#12306b"/><stop offset="0.649" stop-color="#0b2e5c"/><stop offset="0.689" stop-color="#0b2e5c"/><stop offset="0.690" stop-color="#092a4f"/><stop offset="0.816" stop-color="#092a4f"/><stop offset="0.817" stop-color="#062741"/><stop offset="0.930" stop-color="#062741"/><stop offset="0.931" stop-color="#032333"/><stop offset="1.000" stop-color="#032333"/></linearGradient>
<path id="p57" d="M715.85 60.3L719.35 645.3H719.65L723.25 60.3"/>
<linearGradient id="g57a" href="#g57" gradientTransform="translate(0 -1.1)"/>
<linearGradient id="g57b" href="#g57" gradientTransform="translate(0 -2.2)"/>
<linearGradient id="g57c" href="#g57" gradientTransform="translate(0 -3.1)"/>
<linearGradient id="g58" gradientUnits="userSpaceOnUse" x1="0" y1="57.5" x2="0" y2="648.1"><stop offset="0.000" stop-color="#e7fa5a"/><stop offset="0.023" stop-color="#e7fa5a"/><stop offset="0.026" stop-color="#f9b93f"/><stop offset="0.027" stop-color="#fbae3c"/><stop offset="0.028" stop-color="#f89b41"/><stop offset="0.030" stop-color="#f48848"/><stop offset="0.031" stop-color="#e87a58"/><stop offset="0.034" stop-color="#e27260"/><stop offset="0.036" stop-color="#d16a6d"/><stop offset="0.037" stop-color="#d16a6d"/><stop offset="0.038" stop-color="#c86774"/><stop offset="0.039" stop-color="#c86774"/><stop offset="0.040" stop-color="#be637a"/><stop offset="0.041" stop-color="#be637a"/><stop offset="0.042" stop-color="#b4607e"/><stop offset="0.045" stop-color="#b4607e"/><stop offset="0.046" stop-color="#ab5d82"/><stop offset="0.050" stop-color="#ab5d82"/><stop offset="0.051" stop-color="#a15a86"/><stop offset="0.056" stop-color="#a15a86"/><stop offset="0.057" stop-color="#975789"/><stop offset="0.062" stop-color="#975789"/><stop offset="0.063" stop-color="#8e538b"/><stop offset="0.070" stop-color="#8e538b"/><stop offset="0.071" stop-color="#85508d"/><stop offset="0.079" stop-color="#85508d"/><stop offset="0.080" stop-color="#7c4c90"/><stop offset="0.087" stop-color="#7c4c90"/><stop offset="0.088" stop-color="#734892"/><stop offset="0.097" stop-color="#734892"/><stop offset="0.098" stop-color="#6a4495"/><stop offset="0.107" stop-color="#6a4495"/><stop offset="0.108" stop-color="#604098"/><stop offset="0.116" stop-color="#604098"/><stop offset="0.117" stop-color="#563c99"/><stop offset="0.124" stop-color="#563c99"/><stop offset="0.125" stop-color="#4b389a"/><stop offset="0.128" stop-color="#4b389a"/><stop offset="0.129" stop-color="#3f359a"/><stop offset="0.131" stop-color="#3f359a"/><stop offset="0.132" stop-color="#34329a"/><stop offset="0.135" stop-color="#34329a"/><stop offset="0.136" stop-color="#29318a"/><stop offset="0.236" stop-color="#29318a"/><stop offset="0.237" stop-color="#1d317b"/><stop offset="0.243" stop-color="#1d317b"/><stop offset="0.244" stop-color="#29318a"/><stop offset="0.347" stop-color="#29318a"/><stop offset="0.348" stop-color="#1d317b"/><stop offset="0.445" stop-color="#1d317b"/><stop offset="0.446" stop-color="#12306b"/><stop offset="0.481" stop-color="#12306b"/><stop offset="0.482" stop-color="#0b2e5c"/><stop offset="0.651" stop-color="#0b2e5c"/><stop offset="0.652" stop-color="#092a4f"/><stop offset="0.707" stop-color="#092a4f"/><stop offset="0.708" stop-color="#062741"/><stop offset="0.928" stop-color="#062741"/><stop offset="0.929" stop-color="#032333"/><stop offset="1.000" stop-color="#032333"/></linearGradient>
<path id="p58" d="M724.35 60.3L727.85 645.3H728.15L731.15 60.3"/>
<linearGradient id="g58a" href="#g58" gradientTransform="translate(0 -1.1)"/>
<linearGradient id="g58b" href="#g58" gradientTransform="translate(0 -2.2)"/>
<linearGradient id="g58c" href="#g58" gradientTransform="translate(0 -3.1)"/>
<linearGradient id="g59" gradientUnits="userSpaceOnUse" x1="0" y1="57.5" x2="0" y2="650.1"><stop offset="0.000" stop-color="#e7fa5a"/><stop offset="0.023" stop-color="#e7fa5a"/><stop offset="0.024" stop-color="#f4d949"/><stop offset="0.025" stop-color="#f8c342"/><stop offset="0.026" stop-color="#f9b93f"/><stop offset="0.028" stop-color="#f79143"/><stop offset="0.033" stop-color="#da6e67"/><stop offset="0.034" stop-color="#d16a6d"/><stop offset="0.035" stop-color="#d16a6d"/><stop offset="0.036" stop-color="#c86774"/><stop offset="0.037" stop-color="#c86774"/><stop offset="0.038" stop-color="#be637a"/><stop offset="0.039" stop-color="#be637a"/><stop offset="0.040" stop-color="#b4607e"/><stop offset="0.044" stop-color="#b4607e"/><stop offset="0.045" stop-color="#ab5d82"/><stop offset="0.049" stop-color="#ab5d82"/><stop offset="0.050" stop-color="#a15a86"/><stop offset="0.055" stop-color="#a15a86"/><stop offset="0.056" stop-color="#975789"/><stop offset="0.061" stop-color="#975789"/><stop offset="0.062" stop-color="#8e538b"/><stop offset="0.069" stop-color="#8e538b"/><stop offset="0.070" stop-color="#85508d"/><stop offset="0.077" stop-color="#85508d"/><stop offset="0.078" stop-color="#7c4c90"/><stop offset="0.084" stop-color="#7c4c90"/><stop offset="0.085" stop-color="#734892"/><stop offset="0.091" stop-color="#734892"/><stop offset="0.092" stop-color="#6a4495"/><stop offset="0.099" stop-color="#6a4495"/><stop offset="0.100" stop-color="#604098"/><stop offset="0.107" stop-color="#604098"/><stop offset="0.108" stop-color="#563c99"/><stop offset="0.114" stop-color="#563c99"/><stop offset="0.115" stop-color="#4b389a"/><stop offset="0.123" stop-color="#4b389a"/><stop offset="0.124" stop-color="#3f359a"/><stop offset="0.127" stop-color="#3f359a"/><stop offset="0.128" stop-color="#34329a"/><stop offset="0.131" stop-color="#34329a"/><stop offset="0.132" stop-color="#29318a"/><stop offset="0.135" stop-color="#29318a"/><stop offset="0.136" stop-color="#1d317b"/><stop offset="0.177" stop-color="#1d317b"/><stop offset="0.178" stop-color="#12306b"/><stop offset="0.191" stop-color="#12306b"/><stop offset="0.192" stop-color="#1d317b"/><stop offset="0.264" stop-color="#1d317b"/><stop offset="0.265" stop-color="#29318a"/><stop offset="0.336" stop-color="#29318a"/><stop offset="0.337" stop-color="#1d317b"/><stop offset="0.427" stop-color="#1d317b"/><stop offset="0.428" stop-color="#12306b"/><stop offset="0.468" stop-color="#12306b"/><stop offset="0.469" stop-color="#0b2e5c"/><stop offset="0.630" stop-color="#0b2e5c"/><stop offset="0.631" stop-color="#092a4f"/><stop offset="0.679" stop-color="#092a4f"/><stop offset="0.680" stop-color="#062741"/><stop offset="0.880" stop-color="#062741"/><stop offset="0.881" stop-color="#032333"/><stop offset="1.000" stop-color="#032333"/></linearGradient>
<path id="p59" d="M732.25 60.3L735.60 647.3H735.90L739.45 60.3"/>
<linearGradient id="g59a" href="#g59" gradientTransform="translate(0 -1.1)"/>
<linearGradient id="g59b" href="#g59" gradientTransform="translate(0 -2.2)"/>
<linearGradient id="g59c" href="#g59" gradientTransform="translate(0 -3.1)"/>
<linearGradient id="g60" gradientUnits="userSpaceOnUse" x1="0" y1="57.5" x2="0" y2="650.1"><stop offset="0.000" stop-color="#e7fa5a"/><stop offset="0.024" stop-color="#e7fa5a"/><stop offset="0.027" stop-color="#f9b93f"/><stop offset="0.028" stop-color="#fbae3c"/><stop offset="0.029" stop-color="#f89b41"/><stop offset="0.030" stop-color="#f79143"/><stop offset="0.031" stop-color="#ee8150"/><stop offset="0.034" stop-color="#da6e67"/><stop offset="0.035" stop-color="#da6e67"/><stop offset="0.037" stop-color="#c86774"/><stop offset="0.038" stop-color="#c86774"/><stop offset="0.039" stop-color="#be637a"/><stop offset="0.042" stop-color="#be637a"/><stop offset="0.043" stop-color="#b4607e"/><stop offset="0.045" stop-color="#b4607e"/><stop offset="0.046" stop-color="#ab5d82"/><stop offset="0.049" stop-color="#ab5d82"/><stop offset="0.050" stop-color="#a15a86"/><stop offset="0.055" stop-color="#a15a86"/><stop offset="0.056" stop-color="#975789"/><stop offset="0.061" stop-color="#975789"/><stop offset="0.062" stop-color="#8e538b"/><stop offset="0.068" stop-color="#8e538b"/><stop offset="0.069" stop-color="#85508d"/><stop offset="0.076" stop-color="#85508d"/><stop offset="0.077" stop-color="#7c4c90"/><stop offset="0.081" stop-color="#7c4c90"/><stop offset="0.082" stop-color="#734892"/><stop offset="0.087" stop-color="#734892"/><stop offset="0.088" stop-color="#6a4495"/><stop offset="0.094" stop-color="#6a4495"/><stop offset="0.095" stop-color="#604098"/><stop offset="0.101" stop-color="#604098"/><stop offset="0.102" stop-color="#563c99"/><stop offset="0.108" stop-color="#563c99"/><stop offset="0.109" stop-color="#4b389a"/><stop offset="0.114" stop-color="#4b389a"/><stop offset="0.115" stop-color="#3f359a"/><stop offset="0.119" stop-color="#3f359a"/><stop offset="0.120" stop-color="#34329a"/><stop offset="0.127" stop-color="#34329a"/><stop offset="0.128" stop-color="#29318a"/><stop offset="0.135" stop-color="#29318a"/><stop offset="0.136" stop-color="#1d317b"/><stop offset="0.165" stop-color="#1d317b"/><stop offset="0.166" stop-color="#12306b"/><stop offset="0.196" stop-color="#12306b"/><stop offset="0.197" stop-color="#1d317b"/><stop offset="0.230" stop-color="#1d317b"/><stop offset="0.231" stop-color="#29318a"/><stop offset="0.348" stop-color="#29318a"/><stop offset="0.349" stop-color="#1d317b"/><stop offset="0.442" stop-color="#1d317b"/><stop offset="0.443" stop-color="#12306b"/><stop offset="0.489" stop-color="#12306b"/><stop offset="0.490" stop-color="#0b2e5c"/><stop offset="0.568" stop-color="#0b2e5c"/><stop offset="0.569" stop-color="#12306b"/><stop offset="0.595" stop-color="#12306b"/><stop offset="0.596" stop-color="#0b2e5c"/><stop offset="0.655" stop-color="#0b2e5c"/><stop offset="0.656" stop-color="#092a4f"/><stop offset="0.798" stop-color="#092a4f"/><stop offset="0.799" stop-color="#062741"/><stop offset="0.914" stop-color="#062741"/><stop offset="0.915" stop-color="#032333"/><stop offset="1.000" stop-color="#032333"/></linearGradient>
<path id="p60" d="M740.55 60.3L744.35 647.3H744.65L747.65 60.3"/>
<linearGradient id="g60a" href="#g60" gradientTransform="translate(0 -1.1)"/>
<linearGradient id="g60b" href="#g60" gradientTransform="translate(0 -2.2)"/>
<linearGradient id="g60c" href="#g60" gradientTransform="translate(0 -3.1)"/>
<linearGradient id="g61" gradientUnits="userSpaceOnUse" x1="0" y1="57.5" x2="0" y2="637.1"><stop offset="0.000" stop-color="#e7fa5a"/><stop offset="0.027" stop-color="#e7fa5a"/><stop offset="0.030" stop-color="#f9b93f"/><stop offset="0.031" stop-color="#faa43e"/><stop offset="0.033" stop-color="#f79143"/><stop offset="0.034" stop-color="#ee8150"/><stop offset="0.037" stop-color="#da6e67"/><stop offset="0.038" stop-color="#da6e67"/><stop offset="0.040" stop-color="#c86774"/><stop offset="0.041" stop-color="#c86774"/><stop offset="0.042" stop-color="#be637a"/><stop offset="0.043" stop-color="#be637a"/><stop offset="0.045" stop-color="#b4607e"/><stop offset="0.047" stop-color="#b4607e"/><stop offset="0.048" stop-color="#ab5d82"/><stop offset="0.051" stop-color="#ab5d82"/><stop offset="0.052" stop-color="#a15a86"/><stop offset="0.056" stop-color="#a15a86"/><stop offset="0.057" stop-color="#975789"/><stop offset="0.061" stop-color="#975789"/><stop offset="0.062" stop-color="#8e538b"/><stop offset="0.068" stop-color="#8e538b"/><stop offset="0.069" stop-color="#85508d"/><stop offset="0.076" stop-color="#85508d"/><stop offset="0.077" stop-color="#7c4c90"/><stop offset="0.082" stop-color="#7c4c90"/><stop offset="0.083" stop-color="#734892"/><stop offset="0.088" stop-color="#734892"/><stop offset="0.089" stop-color="#6a4495"/><stop offset="0.094" stop-color="#6a4495"/><stop offset="0.095" stop-color="#604098"/><stop offset="0.102" stop-color="#604098"/><stop offset="0.104" stop-color="#563c99"/><stop offset="0.112" stop-color="#563c99"/><stop offset="0.113" stop-color="#4b389a"/><stop offset="0.119" stop-color="#4b389a"/><stop offset="0.120" stop-color="#3f359a"/><stop offset="0.126" stop-color="#3f359a"/><stop offset="0.127" stop-color="#34329a"/><stop offset="0.133" stop-color="#34329a"/><stop offset="0.134" stop-color="#29318a"/><stop offset="0.140" stop-color="#29318a"/><stop offset="0.141" stop-color="#1d317b"/><stop offset="0.157" stop-color="#1d317b"/><stop offset="0.158" stop-color="#12306b"/><stop offset="0.212" stop-color="#12306b"/><stop offset="0.213" stop-color="#1d317b"/><stop offset="0.239" stop-color="#1d317b"/><stop offset="0.240" stop-color="#29318a"/><stop offset="0.320" stop-color="#29318a"/><stop offset="0.321" stop-color="#1d317b"/><stop offset="0.429" stop-color="#1d317b"/><stop offset="0.430" stop-color="#12306b"/><stop offset="0.480" stop-color="#12306b"/><stop offset="0.481" stop-color="#0b2e5c"/><stop offset="0.581" stop-color="#0b2e5c"/><stop offset="0.582" stop-color="#12306b"/><stop offset="0.604" stop-color="#12306b"/><stop offset="0.605" stop-color="#0b2e5c"/><stop offset="0.672" stop-color="#0b2e5c"/><stop offset="0.673" stop-color="#092a4f"/><stop offset="0.872" stop-color="#092a4f"/><stop offset="0.873" stop-color="#062741"/><stop offset="0.967" stop-color="#062741"/><stop offset="0.968" stop-color="#032333"/><stop offset="1.000" stop-color="#032333"/></linearGradient>
<path id="p61" d="M748.55 60.3L748.95 116.3L751.60 634.3H751.90L754.73 116.3L755.15 60.3"/>
<linearGradient id="g61a" href="#g61" gradientTransform="translate(0 -1.1)"/>
<linearGradient id="g61b" href="#g61" gradientTransform="translate(0 -2.2)"/>
<linearGradient id="g61c" href="#g61" gradientTransform="translate(0 -3.1)"/>
<linearGradient id="g62" gradientUnits="userSpaceOnUse" x1="0" y1="57.5" x2="0" y2="635.9"><stop offset="0.000" stop-color="#e7fa5a"/><stop offset="0.028" stop-color="#e7fa5a"/><stop offset="0.029" stop-color="#efe44f"/><stop offset="0.030" stop-color="#f8c342"/><stop offset="0.031" stop-color="#fbae3c"/><stop offset="0.032" stop-color="#faa43e"/><stop offset="0.033" stop-color="#f79143"/><stop offset="0.038" stop-color="#da6e67"/><stop offset="0.040" stop-color="#c86774"/><stop offset="0.041" stop-color="#c86774"/><stop offset="0.043" stop-color="#be637a"/><stop offset="0.044" stop-color="#be637a"/><stop offset="0.045" stop-color="#b4607e"/><stop offset="0.046" stop-color="#b4607e"/><stop offset="0.047" stop-color="#ab5d82"/><stop offset="0.050" stop-color="#ab5d82"/><stop offset="0.051" stop-color="#a15a86"/><stop offset="0.054" stop-color="#a15a86"/><stop offset="0.055" stop-color="#975789"/><stop offset="0.059" stop-color="#975789"/><stop offset="0.060" stop-color="#8e538b"/><stop offset="0.065" stop-color="#8e538b"/><stop offset="0.066" stop-color="#85508d"/><stop offset="0.072" stop-color="#85508d"/><stop offset="0.073" stop-color="#7c4c90"/><stop offset="0.079" stop-color="#7c4c90"/><stop offset="0.080" stop-color="#734892"/><stop offset="0.085" stop-color="#734892"/><stop offset="0.086" stop-color="#6a4495"/><stop offset="0.091" stop-color="#6a4495"/><stop offset="0.092" stop-color="#604098"/><stop offset="0.101" stop-color="#604098"/><stop offset="0.102" stop-color="#563c99"/><stop offset="0.113" stop-color="#563c99"/><stop offset="0.114" stop-color="#4b389a"/><stop offset="0.124" stop-color="#4b389a"/><stop offset="0.126" stop-color="#3f359a"/><stop offset="0.130" stop-color="#3f359a"/><stop offset="0.131" stop-color="#34329a"/><stop offset="0.135" stop-color="#34329a"/><stop offset="0.136" stop-color="#29318a"/><stop offset="0.141" stop-color="#29318a"/><stop offset="0.142" stop-color="#1d317b"/><stop offset="0.152" stop-color="#1d317b"/><stop offset="0.154" stop-color="#12306b"/><stop offset="0.224" stop-color="#12306b"/><stop offset="0.225" stop-color="#1d317b"/><stop offset="0.324" stop-color="#1d317b"/><stop offset="0.325" stop-color="#12306b"/><stop offset="0.417" stop-color="#12306b"/><stop offset="0.418" stop-color="#0b2e5c"/><stop offset="0.465" stop-color="#0b2e5c"/><stop offset="0.466" stop-color="#092a4f"/><stop offset="0.665" stop-color="#092a4f"/><stop offset="0.666" stop-color="#062741"/><stop offset="0.918" stop-color="#062741"/><stop offset="0.919" stop-color="#032333"/><stop offset="1.000" stop-color="#032333"/></linearGradient>
<path id="p62" d="M755.85 60.3L756.27 116.3L759.10 633.1H759.40L763.32 116.3L763.85 60.3"/>
<linearGradient id="g62a" href="#g62" gradientTransform="translate(0 -1.1)"/>
<linearGradient id="g62b" href="#g62" gradientTransform="translate(0 -2.2)"/>
<linearGradient id="g62c" href="#g62" gradientTransform="translate(0 -3.1)"/>
<linearGradient id="g63" gradientUnits="userSpaceOnUse" x1="0" y1="57.5" x2="0" y2="616.3"><stop offset="0.000" stop-color="#e7fa5a"/><stop offset="0.031" stop-color="#e7fa5a"/><stop offset="0.034" stop-color="#f9b93f"/><stop offset="0.035" stop-color="#faa43e"/><stop offset="0.037" stop-color="#f89b41"/><stop offset="0.038" stop-color="#f48848"/><stop offset="0.043" stop-color="#d16a6d"/><stop offset="0.044" stop-color="#c86774"/><stop offset="0.045" stop-color="#c86774"/><stop offset="0.046" stop-color="#be637a"/><stop offset="0.047" stop-color="#be637a"/><stop offset="0.048" stop-color="#b4607e"/><stop offset="0.050" stop-color="#b4607e"/><stop offset="0.052" stop-color="#ab5d82"/><stop offset="0.054" stop-color="#ab5d82"/><stop offset="0.055" stop-color="#a15a86"/><stop offset="0.058" stop-color="#a15a86"/><stop offset="0.059" stop-color="#975789"/><stop offset="0.062" stop-color="#975789"/><stop offset="0.063" stop-color="#8e538b"/><stop offset="0.069" stop-color="#8e538b"/><stop offset="0.070" stop-color="#85508d"/><stop offset="0.076" stop-color="#85508d"/><stop offset="0.077" stop-color="#7c4c90"/><stop offset="0.084" stop-color="#7c4c90"/><stop offset="0.085" stop-color="#734892"/><stop offset="0.090" stop-color="#734892"/><stop offset="0.091" stop-color="#6a4495"/><stop offset="0.098" stop-color="#6a4495"/><stop offset="0.099" stop-color="#604098"/><stop offset="0.121" stop-color="#604098"/><stop offset="0.122" stop-color="#563c99"/><stop offset="0.132" stop-color="#563c99"/><stop offset="0.133" stop-color="#4b389a"/><stop offset="0.136" stop-color="#4b389a"/><stop offset="0.137" stop-color="#3f359a"/><stop offset="0.141" stop-color="#3f359a"/><stop offset="0.142" stop-color="#34329a"/><stop offset="0.147" stop-color="#34329a"/><stop offset="0.148" stop-color="#29318a"/><stop offset="0.156" stop-color="#29318a"/><stop offset="0.157" stop-color="#1d317b"/><stop offset="0.188" stop-color="#1d317b"/><stop offset="0.189" stop-color="#12306b"/><stop offset="0.196" stop-color="#12306b"/><stop offset="0.198" stop-color="#1d317b"/><stop offset="0.243" stop-color="#1d317b"/><stop offset="0.244" stop-color="#29318a"/><stop offset="0.276" stop-color="#29318a"/><stop offset="0.277" stop-color="#1d317b"/><stop offset="0.343" stop-color="#1d317b"/><stop offset="0.344" stop-color="#12306b"/><stop offset="0.421" stop-color="#12306b"/><stop offset="0.422" stop-color="#0b2e5c"/><stop offset="0.464" stop-color="#0b2e5c"/><stop offset="0.465" stop-color="#092a4f"/><stop offset="0.646" stop-color="#092a4f"/><stop offset="0.647" stop-color="#062741"/><stop offset="0.723" stop-color="#062741"/><stop offset="0.724" stop-color="#032333"/><stop offset="1.000" stop-color="#032333"/></linearGradient>
<path id="p63" d="M764.50 60.3L765.04 116.3L767.85 613.5H768.15L771.14 116.3L771.70 60.3"/>
<linearGradient id="g63a" href="#g63" gradientTransform="translate(0 -1.1)"/>
<linearGradient id="g63b" href="#g63" gradientTransform="translate(0 -2.2)"/>
<linearGradient id="g63c" href="#g63" gradientTransform="translate(0 -3.1)"/>
<linearGradient id="g64" gradientUnits="userSpaceOnUse" x1="0" y1="57.5" x2="0" y2="612.1"><stop offset="0.000" stop-color="#e7fa5a"/><stop offset="0.030" stop-color="#e7fa5a"/><stop offset="0.034" stop-color="#f9b93f"/><stop offset="0.035" stop-color="#faa43e"/><stop offset="0.036" stop-color="#f89b41"/><stop offset="0.037" stop-color="#f48848"/><stop offset="0.041" stop-color="#da6e67"/><stop offset="0.042" stop-color="#d16a6d"/><stop offset="0.043" stop-color="#d16a6d"/><stop offset="0.044" stop-color="#c86774"/><stop offset="0.045" stop-color="#c86774"/><stop offset="0.047" stop-color="#be637a"/><stop offset="0.048" stop-color="#be637a"/><stop offset="0.049" stop-color="#b4607e"/><stop offset="0.051" stop-color="#b4607e"/><stop offset="0.052" stop-color="#ab5d82"/><stop offset="0.055" stop-color="#ab5d82"/><stop offset="0.056" stop-color="#a15a86"/><stop offset="0.061" stop-color="#a15a86"/><stop offset="0.062" stop-color="#975789"/><stop offset="0.066" stop-color="#975789"/><stop offset="0.067" stop-color="#8e538b"/><stop offset="0.074" stop-color="#8e538b"/><stop offset="0.075" stop-color="#85508d"/><stop offset="0.081" stop-color="#85508d"/><stop offset="0.082" stop-color="#7c4c90"/><stop offset="0.090" stop-color="#7c4c90"/><stop offset="0.091" stop-color="#734892"/><stop offset="0.098" stop-color="#734892"/><stop offset="0.100" stop-color="#6a4495"/><stop offset="0.114" stop-color="#6a4495"/><stop offset="0.115" stop-color="#604098"/><stop offset="0.130" stop-color="#604098"/><stop offset="0.131" stop-color="#563c99"/><stop offset="0.141" stop-color="#563c99"/><stop offset="0.142" stop-color="#4b389a"/><stop offset="0.158" stop-color="#4b389a"/><stop offset="0.159" stop-color="#3f359a"/><stop offset="0.248" stop-color="#3f359a"/><stop offset="0.249" stop-color="#34329a"/><stop offset="0.297" stop-color="#34329a"/><stop offset="0.299" stop-color="#29318a"/><stop offset="0.334" stop-color="#29318a"/><stop offset="0.335" stop-color="#1d317b"/><stop offset="0.418" stop-color="#1d317b"/><stop offset="0.419" stop-color="#12306b"/><stop offset="0.463" stop-color="#12306b"/><stop offset="0.464" stop-color="#0b2e5c"/><stop offset="0.639" stop-color="#0b2e5c"/><stop offset="0.640" stop-color="#092a4f"/><stop offset="0.703" stop-color="#092a4f"/><stop offset="0.704" stop-color="#062741"/><stop offset="0.909" stop-color="#062741"/><stop offset="0.910" stop-color="#032333"/><stop offset="1.000" stop-color="#032333"/></linearGradient>
<path id="p64" d="M772.30 60.3L772.81 116.3L775.35 609.3H775.65L778.37 116.3L778.90 60.3"/>
<linearGradient id="g64a" href="#g64" gradientTransform="translate(0 -1.1)"/>
<linearGradient id="g64b" href="#g64" gradientTransform="translate(0 -2.2)"/>
<linearGradient id="g64c" href="#g64" gradientTransform="translate(0 -3.1)"/>
<linearGradient id="g65" gradientUnits="userSpaceOnUse" x1="0" y1="57.5" x2="0" y2="611.1"><stop offset="0.000" stop-color="#e7fa5a"/><stop offset="0.035" stop-color="#e7fa5a"/><stop offset="0.036" stop-color="#ebef54"/><stop offset="0.037" stop-color="#f7ce45"/><stop offset="0.038" stop-color="#f9b93f"/><stop offset="0.039" stop-color="#fbae3c"/><stop offset="0.040" stop-color="#f89b41"/><stop offset="0.041" stop-color="#f79143"/><stop offset="0.042" stop-color="#ee8150"/><stop offset="0.046" stop-color="#da6e67"/><stop offset="0.047" stop-color="#da6e67"/><stop offset="0.049" stop-color="#c86774"/><stop offset="0.050" stop-color="#c86774"/><stop offset="0.051" stop-color="#be637a"/><stop offset="0.052" stop-color="#be637a"/><stop offset="0.053" stop-color="#b4607e"/><stop offset="0.054" stop-color="#b4607e"/><stop offset="0.055" stop-color="#ab5d82"/><stop offset="0.057" stop-color="#ab5d82"/><stop offset="0.059" stop-color="#a15a86"/><stop offset="0.062" stop-color="#a15a86"/><stop offset="0.063" stop-color="#975789"/><stop offset="0.066" stop-color="#975789"/><stop offset="0.067" stop-color="#8e538b"/><stop offset="0.073" stop-color="#8e538b"/><stop offset="0.074" stop-color="#85508d"/><stop offset="0.079" stop-color="#85508d"/><stop offset="0.080" stop-color="#7c4c90"/><stop offset="0.088" stop-color="#7c4c90"/><stop offset="0.089" stop-color="#734892"/><stop offset="0.096" stop-color="#734892"/><stop offset="0.098" stop-color="#6a4495"/><stop offset="0.108" stop-color="#6a4495"/><stop offset="0.109" stop-color="#604098"/><stop offset="0.122" stop-color="#604098"/><stop offset="0.124" stop-color="#563c99"/><stop offset="0.143" stop-color="#563c99"/><stop offset="0.144" stop-color="#4b389a"/><stop offset="0.190" stop-color="#4b389a"/><stop offset="0.191" stop-color="#3f359a"/><stop offset="0.250" stop-color="#3f359a"/><stop offset="0.251" stop-color="#34329a"/><stop offset="0.297" stop-color="#34329a"/><stop offset="0.298" stop-color="#29318a"/><stop offset="0.326" stop-color="#29318a"/><stop offset="0.327" stop-color="#1d317b"/><stop offset="0.412" stop-color="#1d317b"/><stop offset="0.413" stop-color="#12306b"/><stop offset="0.462" stop-color="#12306b"/><stop offset="0.463" stop-color="#0b2e5c"/><stop offset="0.650" stop-color="#0b2e5c"/><stop offset="0.651" stop-color="#092a4f"/><stop offset="0.767" stop-color="#092a4f"/><stop offset="0.768" stop-color="#062741"/><stop offset="0.936" stop-color="#062741"/><stop offset="0.938" stop-color="#032333"/><stop offset="1.000" stop-color="#032333"/></linearGradient>
<path id="p65" d="M779.50 60.3L780.04 116.3L782.85 608.3H783.15L785.87 116.3L786.40 60.3"/>
<linearGradient id="g65a" href="#g65" gradientTransform="translate(0 -1.1)"/>
<linearGradient id="g65b" href="#g65" gradientTransform="translate(0 -2.2)"/>
<linearGradient id="g65c" href="#g65" gradientTransform="translate(0 -3.1)"/>
<linearGradient id="g66" gradientUnits="userSpaceOnUse" x1="0" y1="57.5" x2="0" y2="611.1"><stop offset="0.000" stop-color="#e7fa5a"/><stop offset="0.034" stop-color="#e7fa5a"/><stop offset="0.037" stop-color="#f9b93f"/><stop offset="0.038" stop-color="#faa43e"/><stop offset="0.039" stop-color="#f89b41"/><stop offset="0.040" stop-color="#f48848"/><stop offset="0.046" stop-color="#d16a6d"/><stop offset="0.047" stop-color="#d16a6d"/><stop offset="0.048" stop-color="#c86774"/><stop offset="0.049" stop-color="#c86774"/><stop offset="0.050" stop-color="#be637a"/><stop offset="0.051" stop-color="#be637a"/><stop offset="0.052" stop-color="#b4607e"/><stop offset="0.053" stop-color="#b4607e"/><stop offset="0.054" stop-color="#ab5d82"/><stop offset="0.056" stop-color="#ab5d82"/><stop offset="0.057" stop-color="#a15a86"/><stop offset="0.061" stop-color="#a15a86"/><stop offset="0.062" stop-color="#975789"/><stop offset="0.066" stop-color="#975789"/><stop offset="0.067" stop-color="#8e538b"/><stop offset="0.072" stop-color="#8e538b"/><stop offset="0.073" stop-color="#85508d"/><stop offset="0.078" stop-color="#85508d"/><stop offset="0.079" stop-color="#7c4c90"/><stop offset="0.087" stop-color="#7c4c90"/><stop offset="0.088" stop-color="#734892"/><stop offset="0.095" stop-color="#734892"/><stop offset="0.096" stop-color="#6a4495"/><stop offset="0.106" stop-color="#6a4495"/><stop offset="0.107" stop-color="#604098"/><stop offset="0.120" stop-color="#604098"/><stop offset="0.121" stop-color="#563c99"/><stop offset="0.139" stop-color="#563c99"/><stop offset="0.140" stop-color="#4b389a"/><stop offset="0.178" stop-color="#4b389a"/><stop offset="0.179" stop-color="#3f359a"/><stop offset="0.247" stop-color="#3f359a"/><stop offset="0.248" stop-color="#34329a"/><stop offset="0.276" stop-color="#34329a"/><stop offset="0.277" stop-color="#29318a"/><stop offset="0.320" stop-color="#29318a"/><stop offset="0.321" stop-color="#1d317b"/><stop offset="0.397" stop-color="#1d317b"/><stop offset="0.398" stop-color="#12306b"/><stop offset="0.449" stop-color="#12306b"/><stop offset="0.450" stop-color="#0b2e5c"/><stop offset="0.646" stop-color="#0b2e5c"/><stop offset="0.647" stop-color="#092a4f"/><stop offset="0.816" stop-color="#092a4f"/><stop offset="0.817" stop-color="#062741"/><stop offset="0.960" stop-color="#062741"/><stop offset="0.961" stop-color="#032333"/><stop offset="1.000" stop-color="#032333"/></linearGradient>
<path id="p66" d="M787.00 60.3L787.54 116.3L790.35 608.3H790.65L793.64 116.3L794.20 60.3"/>
<linearGradient id="g66a" href="#g66" gradientTransform="translate(0 -1.1)"/>
<linearGradient id="g66b" href="#g66" gradientTransform="translate(0 -2.2)"/>
<linearGradient id="g66c" href="#g66" gradientTransform="translate(0 -3.1)"/>
<linearGradient id="g67" gradientUnits="userSpaceOnUse" x1="0" y1="57.5" x2="0" y2="611.1"><stop offset="0.000" stop-color="#e7fa5a"/><stop offset="0.034" stop-color="#e7fa5a"/><stop offset="0.035" stop-color="#f4d949"/><stop offset="0.037" stop-color="#fbae3c"/><stop offset="0.038" stop-color="#faa43e"/><stop offset="0.039" stop-color="#f79143"/><stop offset="0.044" stop-color="#da6e67"/><stop offset="0.047" stop-color="#c86774"/><stop offset="0.048" stop-color="#c86774"/><stop offset="0.049" stop-color="#be637a"/><stop offset="0.050" stop-color="#be637a"/><stop offset="0.051" stop-color="#b4607e"/><stop offset="0.053" stop-color="#b4607e"/><stop offset="0.054" stop-color="#ab5d82"/><stop offset="0.056" stop-color="#ab5d82"/><stop offset="0.057" stop-color="#a15a86"/><stop offset="0.060" stop-color="#a15a86"/><stop offset="0.061" stop-color="#975789"/><stop offset="0.065" stop-color="#975789"/><stop offset="0.066" stop-color="#8e538b"/><stop offset="0.070" stop-color="#8e538b"/><stop offset="0.072" stop-color="#85508d"/><stop offset="0.077" stop-color="#85508d"/><stop offset="0.078" stop-color="#7c4c90"/><stop offset="0.085" stop-color="#7c4c90"/><stop offset="0.086" stop-color="#734892"/><stop offset="0.093" stop-color="#734892"/><stop offset="0.094" stop-color="#6a4495"/><stop offset="0.103" stop-color="#6a4495"/><stop offset="0.104" stop-color="#604098"/><stop offset="0.117" stop-color="#604098"/><stop offset="0.118" stop-color="#563c99"/><stop offset="0.133" stop-color="#563c99"/><stop offset="0.134" stop-color="#4b389a"/><stop offset="0.167" stop-color="#4b389a"/><stop offset="0.168" stop-color="#3f359a"/><stop offset="0.245" stop-color="#3f359a"/><stop offset="0.246" stop-color="#34329a"/><stop offset="0.258" stop-color="#34329a"/><stop offset="0.259" stop-color="#29318a"/><stop offset="0.315" stop-color="#29318a"/><stop offset="0.316" stop-color="#1d317b"/><stop offset="0.374" stop-color="#1d317b"/><stop offset="0.375" stop-color="#12306b"/><stop offset="0.429" stop-color="#12306b"/><stop offset="0.430" stop-color="#0b2e5c"/><stop offset="0.618" stop-color="#0b2e5c"/><stop offset="0.619" stop-color="#092a4f"/><stop offset="0.720" stop-color="#092a4f"/><stop offset="0.721" stop-color="#062741"/><stop offset="0.942" stop-color="#062741"/><stop offset="0.943" stop-color="#032333"/><stop offset="1.000" stop-color="#032333"/></linearGradient>
<path id="p67" d="M794.80 60.3L795.34 116.3L798.10 608.3H798.40L801.16 116.3L801.70 60.3"/>
<linearGradient id="g67a" href="#g67" gradientTransform="translate(0 -1.1)"/>
<linearGradient id="g67b" href="#g67" gradientTransform="translate(0 -2.2)"/>
<linearGradient id="g67c" href="#g67" gradientTransform="translate(0 -3.1)"/>
<linearGradient id="g68" gradientUnits="userSpaceOnUse" x1="0" y1="57.5" x2="0" y2="611.1"><stop offset="0.000" stop-color="#e7fa5a"/><stop offset="0.033" stop-color="#e7fa5a"/><stop offset="0.034" stop-color="#efe44f"/><stop offset="0.035" stop-color="#f8c342"/><stop offset="0.036" stop-color="#f9b93f"/><stop offset="0.038" stop-color="#f79143"/><stop offset="0.043" stop-color="#da6e67"/><stop offset="0.046" stop-color="#c86774"/><stop offset="0.047" stop-color="#c86774"/><stop offset="0.048" stop-color="#be637a"/><stop offset="0.049" stop-color="#be637a"/><stop offset="0.050" stop-color="#b4607e"/><stop offset="0.052" stop-color="#b4607e"/><stop offset="0.053" stop-color="#ab5d82"/><stop offset="0.055" stop-color="#ab5d82"/><stop offset="0.056" stop-color="#a15a86"/><stop offset="0.060" stop-color="#a15a86"/><stop offset="0.061" stop-color="#975789"/><stop offset="0.064" stop-color="#975789"/><stop offset="0.065" stop-color="#8e538b"/><stop offset="0.069" stop-color="#8e538b"/><stop offset="0.070" stop-color="#85508d"/><stop offset="0.077" stop-color="#85508d"/><stop offset="0.078" stop-color="#7c4c90"/><stop offset="0.085" stop-color="#7c4c90"/><stop offset="0.086" stop-color="#734892"/><stop offset="0.092" stop-color="#734892"/><stop offset="0.093" stop-color="#6a4495"/><stop offset="0.102" stop-color="#6a4495"/><stop offset="0.103" stop-color="#604098"/><stop offset="0.116" stop-color="#604098"/><stop offset="0.117" stop-color="#563c99"/><stop offset="0.132" stop-color="#563c99"/><stop offset="0.133" stop-color="#4b389a"/><stop offset="0.164" stop-color="#4b389a"/><stop offset="0.165" stop-color="#3f359a"/><stop offset="0.238" stop-color="#3f359a"/><stop offset="0.240" stop-color="#34329a"/><stop offset="0.256" stop-color="#34329a"/><stop offset="0.257" stop-color="#29318a"/><stop offset="0.315" stop-color="#29318a"/><stop offset="0.316" stop-color="#1d317b"/><stop offset="0.364" stop-color="#1d317b"/><stop offset="0.365" stop-color="#12306b"/><stop offset="0.421" stop-color="#12306b"/><stop offset="0.422" stop-color="#0b2e5c"/><stop offset="0.602" stop-color="#0b2e5c"/><stop offset="0.603" stop-color="#092a4f"/><stop offset="0.685" stop-color="#092a4f"/><stop offset="0.686" stop-color="#062741"/><stop offset="0.918" stop-color="#062741"/><stop offset="0.919" stop-color="#032333"/><stop offset="1.000" stop-color="#032333"/></linearGradient>
<path id="p68" d="M802.30 60.3L802.81 116.3L805.35 608.3H805.65L808.82 116.3L809.40 60.3"/>
<linearGradient id="g68a" href="#g68" gradientTransform="translate(0 -1.1)"/>
<linearGradient id="g68b" href="#g68" gradientTransform="translate(0 -2.2)"/>
<linearGradient id="g68c" href="#g68" gradientTransform="translate(0 -3.1)"/>
<linearGradient id="g69" gradientUnits="userSpaceOnUse" x1="0" y1="57.5" x2="0" y2="611.1"><stop offset="0.000" stop-color="#e7fa5a"/><stop offset="0.036" stop-color="#e7fa5a"/><stop offset="0.037" stop-color="#f4d949"/><stop offset="0.039" stop-color="#fbae3c"/><stop offset="0.040" stop-color="#faa43e"/><stop offset="0.041" stop-color="#f79143"/><stop offset="0.043" stop-color="#ee8150"/><stop offset="0.044" stop-color="#e27260"/><stop offset="0.046" stop-color="#e27260"/><stop offset="0.049" stop-color="#c86774"/><stop offset="0.050" stop-color="#c86774"/><stop offset="0.052" stop-color="#b4607e"/><stop offset="0.054" stop-color="#b4607e"/><stop offset="0.055" stop-color="#ab5d82"/><stop offset="0.056" stop-color="#ab5d82"/><stop offset="0.057" stop-color="#a15a86"/><stop offset="0.061" stop-color="#a15a86"/><stop offset="0.062" stop-color="#975789"/><stop offset="0.064" stop-color="#975789"/><stop offset="0.065" stop-color="#8e538b"/><stop offset="0.069" stop-color="#8e538b"/><stop offset="0.070" stop-color="#85508d"/><stop offset="0.076" stop-color="#85508d"/><stop offset="0.077" stop-color="#7c4c90"/><stop offset="0.083" stop-color="#7c4c90"/><stop offset="0.085" stop-color="#734892"/><stop offset="0.094" stop-color="#734892"/><stop offset="0.095" stop-color="#6a4495"/><stop offset="0.124" stop-color="#6a4495"/><stop offset="0.125" stop-color="#604098"/><stop offset="0.216" stop-color="#604098"/><stop offset="0.217" stop-color="#563c99"/><stop offset="0.228" stop-color="#563c99"/><stop offset="0.229" stop-color="#4b389a"/><stop offset="0.262" stop-color="#4b389a"/><stop offset="0.263" stop-color="#3f359a"/><stop offset="0.286" stop-color="#3f359a"/><stop offset="0.287" stop-color="#34329a"/><stop offset="0.348" stop-color="#34329a"/><stop offset="0.349" stop-color="#29318a"/><stop offset="0.360" stop-color="#29318a"/><stop offset="0.361" stop-color="#1d317b"/><stop offset="0.384" stop-color="#1d317b"/><stop offset="0.385" stop-color="#12306b"/><stop offset="0.408" stop-color="#12306b"/><stop offset="0.409" stop-color="#0b2e5c"/><stop offset="0.467" stop-color="#0b2e5c"/><stop offset="0.468" stop-color="#092a4f"/><stop offset="0.503" stop-color="#092a4f"/><stop offset="0.504" stop-color="#0b2e5c"/><stop offset="0.556" stop-color="#0b2e5c"/><stop offset="0.557" stop-color="#092a4f"/><stop offset="0.637" stop-color="#092a4f"/><stop offset="0.638" stop-color="#062741"/><stop offset="0.857" stop-color="#062741"/><stop offset="0.858" stop-color="#032333"/><stop offset="1.000" stop-color="#032333"/></linearGradient>
<path id="p69" d="M810.00 60.3L810.49 116.3L812.85 608.3H813.15L816.59 116.3L817.20 60.3"/>
<linearGradient id="g69a" href="#g69" gradientTransform="translate(0 -1.1)"/>
<linearGradient id="g69b" href="#g69" gradientTransform="translate(0 -2.2)"/>
<linearGradient id="g69c" href="#g69" gradientTransform="translate(0 -3.1)"/>
<linearGradient id="g70" gradientUnits="userSpaceOnUse" x1="0" y1="57.5" x2="0" y2="611.1"><stop offset="0.000" stop-color="#e7fa5a"/><stop offset="0.029" stop-color="#e7fa5a"/><stop offset="0.030" stop-color="#ebef54"/><stop offset="0.034" stop-color="#fbae3c"/><stop offset="0.035" stop-color="#f89b41"/><stop offset="0.036" stop-color="#f79143"/><stop offset="0.037" stop-color="#ee8150"/><stop offset="0.040" stop-color="#da6e67"/><stop offset="0.041" stop-color="#da6e67"/><stop offset="0.043" stop-color="#c86774"/><stop offset="0.044" stop-color="#c86774"/><stop offset="0.046" stop-color="#be637a"/><stop offset="0.047" stop-color="#be637a"/><stop offset="0.048" stop-color="#b4607e"/><stop offset="0.049" stop-color="#b4607e"/><stop offset="0.050" stop-color="#ab5d82"/><stop offset="0.052" stop-color="#ab5d82"/><stop offset="0.053" stop-color="#a15a86"/><stop offset="0.057" stop-color="#a15a86"/><stop offset="0.059" stop-color="#975789"/><stop offset="0.062" stop-color="#975789"/><stop offset="0.063" stop-color="#8e538b"/><stop offset="0.068" stop-color="#8e538b"/><stop offset="0.069" stop-color="#85508d"/><stop offset="0.075" stop-color="#85508d"/><stop offset="0.076" stop-color="#7c4c90"/><stop offset="0.085" stop-color="#7c4c90"/><stop offset="0.086" stop-color="#734892"/><stop offset="0.096" stop-color="#734892"/><stop offset="0.098" stop-color="#6a4495"/><stop offset="0.142" stop-color="#6a4495"/><stop offset="0.143" stop-color="#604098"/><stop offset="0.218" stop-color="#604098"/><stop offset="0.219" stop-color="#563c99"/><stop offset="0.230" stop-color="#563c99"/><stop offset="0.231" stop-color="#4b389a"/><stop offset="0.272" stop-color="#4b389a"/><stop offset="0.273" stop-color="#3f359a"/><stop offset="0.288" stop-color="#3f359a"/><stop offset="0.289" stop-color="#34329a"/><stop offset="0.349" stop-color="#34329a"/><stop offset="0.350" stop-color="#29318a"/><stop offset="0.360" stop-color="#29318a"/><stop offset="0.361" stop-color="#1d317b"/><stop offset="0.382" stop-color="#1d317b"/><stop offset="0.383" stop-color="#12306b"/><stop offset="0.404" stop-color="#12306b"/><stop offset="0.405" stop-color="#0b2e5c"/><stop offset="0.458" stop-color="#0b2e5c"/><stop offset="0.460" stop-color="#092a4f"/><stop offset="0.509" stop-color="#092a4f"/><stop offset="0.510" stop-color="#0b2e5c"/><stop offset="0.522" stop-color="#0b2e5c"/><stop offset="0.524" stop-color="#092a4f"/><stop offset="0.611" stop-color="#092a4f"/><stop offset="0.612" stop-color="#062741"/><stop offset="0.738" stop-color="#062741"/><stop offset="0.739" stop-color="#032333"/><stop offset="1.000" stop-color="#032333"/></linearGradient>
<path id="p70" d="M817.80 60.3L818.39 116.3L821.60 608.3H821.90L824.48 116.3L825.00 60.3"/>
<linearGradient id="g70a" href="#g70" gradientTransform="translate(0 -1.1)"/>
<linearGradient id="g70b" href="#g70" gradientTransform="translate(0 -2.2)"/>
<linearGradient id="g70c" href="#g70" gradientTransform="translate(0 -3.1)"/>
<linearGradient id="g71" gradientUnits="userSpaceOnUse" x1="0" y1="57.5" x2="0" y2="611.1"><stop offset="0.000" stop-color="#e7fa5a"/><stop offset="0.035" stop-color="#e7fa5a"/><stop offset="0.038" stop-color="#f9b93f"/><stop offset="0.039" stop-color="#faa43e"/><stop offset="0.040" stop-color="#f89b41"/><stop offset="0.041" stop-color="#f48848"/><stop offset="0.046" stop-color="#da6e67"/><stop offset="0.047" stop-color="#d16a6d"/><stop offset="0.048" stop-color="#d16a6d"/><stop offset="0.050" stop-color="#be637a"/><stop offset="0.051" stop-color="#be637a"/><stop offset="0.052" stop-color="#b4607e"/><stop offset="0.054" stop-color="#b4607e"/><stop offset="0.055" stop-color="#ab5d82"/><stop offset="0.057" stop-color="#ab5d82"/><stop offset="0.059" stop-color="#a15a86"/><stop offset="0.061" stop-color="#a15a86"/><stop offset="0.062" stop-color="#975789"/><stop offset="0.066" stop-color="#975789"/><stop offset="0.067" stop-color="#8e538b"/><stop offset="0.072" stop-color="#8e538b"/><stop offset="0.073" stop-color="#85508d"/><stop offset="0.079" stop-color="#85508d"/><stop offset="0.080" stop-color="#7c4c90"/><stop offset="0.090" stop-color="#7c4c90"/><stop offset="0.091" stop-color="#734892"/><stop offset="0.116" stop-color="#734892"/><stop offset="0.117" stop-color="#6a4495"/><stop offset="0.216" stop-color="#6a4495"/><stop offset="0.217" stop-color="#604098"/><stop offset="0.229" stop-color="#604098"/><stop offset="0.230" stop-color="#563c99"/><stop offset="0.274" stop-color="#563c99"/><stop offset="0.275" stop-color="#4b389a"/><stop offset="0.289" stop-color="#4b389a"/><stop offset="0.290" stop-color="#3f359a"/><stop offset="0.349" stop-color="#3f359a"/><stop offset="0.350" stop-color="#34329a"/><stop offset="0.361" stop-color="#34329a"/><stop offset="0.362" stop-color="#29318a"/><stop offset="0.380" stop-color="#29318a"/><stop offset="0.382" stop-color="#1d317b"/><stop offset="0.404" stop-color="#1d317b"/><stop offset="0.405" stop-color="#12306b"/><stop offset="0.546" stop-color="#12306b"/><stop offset="0.547" stop-color="#0b2e5c"/><stop offset="0.606" stop-color="#0b2e5c"/><stop offset="0.607" stop-color="#092a4f"/><stop offset="0.714" stop-color="#092a4f"/><stop offset="0.715" stop-color="#062741"/><stop offset="0.870" stop-color="#062741"/><stop offset="0.871" stop-color="#032333"/><stop offset="1.000" stop-color="#032333"/></linearGradient>
<path id="p71" d="M828.20 60.3L828.75 116.3L831.60 608.3H831.90L834.48 116.3L835.00 60.3"/>
<linearGradient id="g71a" href="#g71" gradientTransform="translate(0 -1.1)"/>
<linearGradient id="g71b" href="#g71" gradientTransform="translate(0 -2.2)"/>
<linearGradient id="g71c" href="#g71" gradientTransform="translate(0 -3.1)"/>
<linearGradient id="g72" gradientUnits="userSpaceOnUse" x1="0" y1="57.5" x2="0" y2="611.1"><stop offset="0.000" stop-color="#e7fa5a"/><stop offset="0.033" stop-color="#e7fa5a"/><stop offset="0.036" stop-color="#f9b93f"/><stop offset="0.038" stop-color="#f79143"/><stop offset="0.039" stop-color="#f48848"/><stop offset="0.041" stop-color="#e27260"/><stop offset="0.046" stop-color="#be637a"/><stop offset="0.047" stop-color="#be637a"/><stop offset="0.049" stop-color="#ab5d82"/><stop offset="0.050" stop-color="#ab5d82"/><stop offset="0.051" stop-color="#a15a86"/><stop offset="0.053" stop-color="#a15a86"/><stop offset="0.054" stop-color="#975789"/><stop offset="0.055" stop-color="#975789"/><stop offset="0.056" stop-color="#8e538b"/><stop offset="0.060" stop-color="#8e538b"/><stop offset="0.061" stop-color="#85508d"/><stop offset="0.063" stop-color="#85508d"/><stop offset="0.064" stop-color="#7c4c90"/><stop offset="0.068" stop-color="#7c4c90"/><stop offset="0.069" stop-color="#734892"/><stop offset="0.076" stop-color="#734892"/><stop offset="0.077" stop-color="#6a4495"/><stop offset="0.086" stop-color="#6a4495"/><stop offset="0.087" stop-color="#604098"/><stop offset="0.096" stop-color="#604098"/><stop offset="0.098" stop-color="#563c99"/><stop offset="0.124" stop-color="#563c99"/><stop offset="0.125" stop-color="#4b389a"/><stop offset="0.147" stop-color="#4b389a"/><stop offset="0.148" stop-color="#3f359a"/><stop offset="0.171" stop-color="#3f359a"/><stop offset="0.172" stop-color="#34329a"/><stop offset="0.219" stop-color="#34329a"/><stop offset="0.220" stop-color="#29318a"/><stop offset="0.290" stop-color="#29318a"/><stop offset="0.292" stop-color="#1d317b"/><stop offset="0.372" stop-color="#1d317b"/><stop offset="0.373" stop-color="#12306b"/><stop offset="0.584" stop-color="#12306b"/><stop offset="0.585" stop-color="#0b2e5c"/><stop offset="0.732" stop-color="#0b2e5c"/><stop offset="0.733" stop-color="#092a4f"/><stop offset="0.839" stop-color="#092a4f"/><stop offset="0.840" stop-color="#062741"/><stop offset="0.906" stop-color="#062741"/><stop offset="0.907" stop-color="#032333"/><stop offset="1.000" stop-color="#032333"/></linearGradient>
<path id="p72" d="M835.60 60.3L836.16 116.3L839.10 608.3H839.40L842.16 116.3L842.70 60.3"/>
<linearGradient id="g72a" href="#g72" gradientTransform="translate(0 -1.1)"/>
<linearGradient id="g72b" href="#g72" gradientTransform="translate(0 -2.2)"/>
<linearGradient id="g72c" href="#g72" gradientTransform="translate(0 -3.1)"/>
<linearGradient id="g73" gradientUnits="userSpaceOnUse" x1="0" y1="57.5" x2="0" y2="611.1"><stop offset="0.000" stop-color="#e7fa5a"/><stop offset="0.033" stop-color="#e7fa5a"/><stop offset="0.035" stop-color="#f7ce45"/><stop offset="0.036" stop-color="#fbae3c"/><stop offset="0.038" stop-color="#f48848"/><stop offset="0.040" stop-color="#e27260"/><stop offset="0.047" stop-color="#ab5d82"/><stop offset="0.048" stop-color="#a15a86"/><stop offset="0.049" stop-color="#a15a86"/><stop offset="0.051" stop-color="#8e538b"/><stop offset="0.053" stop-color="#8e538b"/><stop offset="0.054" stop-color="#85508d"/><stop offset="0.055" stop-color="#85508d"/><stop offset="0.056" stop-color="#7c4c90"/><stop offset="0.059" stop-color="#7c4c90"/><stop offset="0.060" stop-color="#734892"/><stop offset="0.062" stop-color="#734892"/><stop offset="0.063" stop-color="#6a4495"/><stop offset="0.066" stop-color="#6a4495"/><stop offset="0.067" stop-color="#604098"/><stop offset="0.072" stop-color="#604098"/><stop offset="0.073" stop-color="#563c99"/><stop offset="0.080" stop-color="#563c99"/><stop offset="0.081" stop-color="#4b389a"/><stop offset="0.091" stop-color="#4b389a"/><stop offset="0.092" stop-color="#3f359a"/><stop offset="0.104" stop-color="#3f359a"/><stop offset="0.105" stop-color="#34329a"/><stop offset="0.125" stop-color="#34329a"/><stop offset="0.126" stop-color="#29318a"/><stop offset="0.140" stop-color="#29318a"/><stop offset="0.141" stop-color="#1d317b"/><stop offset="0.153" stop-color="#1d317b"/><stop offset="0.154" stop-color="#12306b"/><stop offset="0.166" stop-color="#12306b"/><stop offset="0.167" stop-color="#0b2e5c"/><stop offset="0.180" stop-color="#0b2e5c"/><stop offset="0.181" stop-color="#092a4f"/><stop offset="0.462" stop-color="#092a4f"/><stop offset="0.463" stop-color="#0b2e5c"/><stop offset="0.751" stop-color="#0b2e5c"/><stop offset="0.752" stop-color="#092a4f"/><stop offset="0.837" stop-color="#092a4f"/><stop offset="0.838" stop-color="#062741"/><stop offset="0.902" stop-color="#062741"/><stop offset="0.903" stop-color="#032333"/><stop offset="1.000" stop-color="#032333"/></linearGradient>
<path id="p73" d="M843.30 60.3L843.86 116.3L846.85 608.3H847.15L849.96 116.3L850.50 60.3"/>
<linearGradient id="g73a" href="#g73" gradientTransform="translate(0 -1.1)"/>
<linearGradient id="g73b" href="#g73" gradientTransform="translate(0 -2.2)"/>
<linearGradient id="g73c" href="#g73" gradientTransform="translate(0 -3.1)"/>
<linearGradient id="g74" gradientUnits="userSpaceOnUse" x1="0" y1="57.5" x2="0" y2="611.1"><stop offset="0.000" stop-color="#e7fa5a"/><stop offset="0.031" stop-color="#e7fa5a"/><stop offset="0.033" stop-color="#f4d949"/><stop offset="0.034" stop-color="#f8c342"/><stop offset="0.035" stop-color="#faa43e"/><stop offset="0.036" stop-color="#f79143"/><stop offset="0.037" stop-color="#f48848"/><stop offset="0.039" stop-color="#e27260"/><stop offset="0.040" stop-color="#da6e67"/><stop offset="0.041" stop-color="#c86774"/><stop offset="0.042" stop-color="#be637a"/><stop offset="0.043" stop-color="#be637a"/><stop offset="0.047" stop-color="#a15a86"/><stop offset="0.048" stop-color="#a15a86"/><stop offset="0.049" stop-color="#975789"/><stop offset="0.050" stop-color="#975789"/><stop offset="0.051" stop-color="#8e538b"/><stop offset="0.052" stop-color="#8e538b"/><stop offset="0.053" stop-color="#85508d"/><stop offset="0.055" stop-color="#85508d"/><stop offset="0.056" stop-color="#7c4c90"/><stop offset="0.059" stop-color="#7c4c90"/><stop offset="0.060" stop-color="#734892"/><stop offset="0.063" stop-color="#734892"/><stop offset="0.064" stop-color="#6a4495"/><stop offset="0.067" stop-color="#6a4495"/><stop offset="0.068" stop-color="#604098"/><stop offset="0.075" stop-color="#604098"/><stop offset="0.076" stop-color="#563c99"/><stop offset="0.086" stop-color="#563c99"/><stop offset="0.087" stop-color="#4b389a"/><stop offset="0.096" stop-color="#4b389a"/><stop offset="0.098" stop-color="#3f359a"/><stop offset="0.114" stop-color="#3f359a"/><stop offset="0.115" stop-color="#34329a"/><stop offset="0.132" stop-color="#34329a"/><stop offset="0.133" stop-color="#29318a"/><stop offset="0.145" stop-color="#29318a"/><stop offset="0.146" stop-color="#1d317b"/><stop offset="0.157" stop-color="#1d317b"/><stop offset="0.158" stop-color="#12306b"/><stop offset="0.170" stop-color="#12306b"/><stop offset="0.171" stop-color="#0b2e5c"/><stop offset="0.186" stop-color="#0b2e5c"/><stop offset="0.188" stop-color="#092a4f"/><stop offset="0.466" stop-color="#092a4f"/><stop offset="0.467" stop-color="#0b2e5c"/><stop offset="0.596" stop-color="#0b2e5c"/><stop offset="0.597" stop-color="#092a4f"/><stop offset="0.827" stop-color="#092a4f"/><stop offset="0.828" stop-color="#062741"/><stop offset="0.901" stop-color="#062741"/><stop offset="0.902" stop-color="#032333"/><stop offset="1.000" stop-color="#032333"/></linearGradient>
<path id="p74" d="M851.10 60.3L851.63 116.3L854.35 608.3H854.65L857.46 116.3L858.00 60.3"/>
<linearGradient id="g74a" href="#g74" gradientTransform="translate(0 -1.1)"/>
<linearGradient id="g74b" href="#g74" gradientTransform="translate(0 -2.2)"/>
<linearGradient id="g74c" href="#g74" gradientTransform="translate(0 -3.1)"/>
<linearGradient id="g75" gradientUnits="userSpaceOnUse" x1="0" y1="57.5" x2="0" y2="611.1"><stop offset="0.000" stop-color="#e7fa5a"/><stop offset="0.037" stop-color="#e7fa5a"/><stop offset="0.039" stop-color="#f7ce45"/><stop offset="0.040" stop-color="#fbae3c"/><stop offset="0.042" stop-color="#f48848"/><stop offset="0.044" stop-color="#e27260"/><stop offset="0.046" stop-color="#da6e67"/><stop offset="0.047" stop-color="#c86774"/><stop offset="0.049" stop-color="#b4607e"/><stop offset="0.050" stop-color="#b4607e"/><stop offset="0.053" stop-color="#975789"/><stop offset="0.054" stop-color="#975789"/><stop offset="0.055" stop-color="#8e538b"/><stop offset="0.056" stop-color="#8e538b"/><stop offset="0.057" stop-color="#85508d"/><stop offset="0.059" stop-color="#85508d"/><stop offset="0.060" stop-color="#7c4c90"/><stop offset="0.061" stop-color="#7c4c90"/><stop offset="0.062" stop-color="#734892"/><stop offset="0.064" stop-color="#734892"/><stop offset="0.065" stop-color="#6a4495"/><stop offset="0.068" stop-color="#6a4495"/><stop offset="0.069" stop-color="#604098"/><stop offset="0.075" stop-color="#604098"/><stop offset="0.076" stop-color="#563c99"/><stop offset="0.085" stop-color="#563c99"/><stop offset="0.086" stop-color="#4b389a"/><stop offset="0.095" stop-color="#4b389a"/><stop offset="0.096" stop-color="#3f359a"/><stop offset="0.113" stop-color="#3f359a"/><stop offset="0.114" stop-color="#34329a"/><stop offset="0.131" stop-color="#34329a"/><stop offset="0.132" stop-color="#29318a"/><stop offset="0.144" stop-color="#29318a"/><stop offset="0.145" stop-color="#1d317b"/><stop offset="0.156" stop-color="#1d317b"/><stop offset="0.157" stop-color="#12306b"/><stop offset="0.169" stop-color="#12306b"/><stop offset="0.170" stop-color="#0b2e5c"/><stop offset="0.185" stop-color="#0b2e5c"/><stop offset="0.186" stop-color="#092a4f"/><stop offset="0.489" stop-color="#092a4f"/><stop offset="0.490" stop-color="#0b2e5c"/><stop offset="0.533" stop-color="#0b2e5c"/><stop offset="0.534" stop-color="#092a4f"/><stop offset="0.726" stop-color="#092a4f"/><stop offset="0.727" stop-color="#062741"/><stop offset="0.825" stop-color="#062741"/><stop offset="0.826" stop-color="#032333"/><stop offset="1.000" stop-color="#032333"/></linearGradient>
<path id="p75" d="M858.60 60.3L859.18 116.3L862.35 608.3H862.65L865.46 116.3L866.00 60.3"/>
<linearGradient id="g75a" href="#g75" gradientTransform="translate(0 -1.1)"/>
<linearGradient id="g75b" href="#g75" gradientTransform="translate(0 -2.2)"/>
<linearGradient id="g75c" href="#g75" gradientTransform="translate(0 -3.1)"/>
<linearGradient id="g76" gradientUnits="userSpaceOnUse" x1="0" y1="57.5" x2="0" y2="575.6"><stop offset="0.000" stop-color="#e7fa5a"/><stop offset="0.037" stop-color="#e7fa5a"/><stop offset="0.038" stop-color="#f4d949"/><stop offset="0.039" stop-color="#f8c342"/><stop offset="0.041" stop-color="#faa43e"/><stop offset="0.042" stop-color="#f89b41"/><stop offset="0.043" stop-color="#f48848"/><stop offset="0.045" stop-color="#e27260"/><stop offset="0.052" stop-color="#ab5d82"/><stop offset="0.053" stop-color="#ab5d82"/><stop offset="0.056" stop-color="#975789"/><stop offset="0.058" stop-color="#975789"/><stop offset="0.059" stop-color="#8e538b"/><stop offset="0.060" stop-color="#8e538b"/><stop offset="0.061" stop-color="#85508d"/><stop offset="0.064" stop-color="#85508d"/><stop offset="0.065" stop-color="#7c4c90"/><stop offset="0.067" stop-color="#7c4c90"/><stop offset="0.068" stop-color="#734892"/><stop offset="0.072" stop-color="#734892"/><stop offset="0.073" stop-color="#6a4495"/><stop offset="0.079" stop-color="#6a4495"/><stop offset="0.080" stop-color="#604098"/><stop offset="0.089" stop-color="#604098"/><stop offset="0.090" stop-color="#563c99"/><stop offset="0.102" stop-color="#563c99"/><stop offset="0.103" stop-color="#4b389a"/><stop offset="0.120" stop-color="#4b389a"/><stop offset="0.122" stop-color="#3f359a"/><stop offset="0.141" stop-color="#3f359a"/><stop offset="0.142" stop-color="#34329a"/><stop offset="0.154" stop-color="#34329a"/><stop offset="0.155" stop-color="#29318a"/><stop offset="0.167" stop-color="#29318a"/><stop offset="0.168" stop-color="#1d317b"/><stop offset="0.182" stop-color="#1d317b"/><stop offset="0.183" stop-color="#12306b"/><stop offset="0.200" stop-color="#12306b"/><stop offset="0.201" stop-color="#0b2e5c"/><stop offset="0.483" stop-color="#0b2e5c"/><stop offset="0.484" stop-color="#12306b"/><stop offset="0.595" stop-color="#12306b"/><stop offset="0.596" stop-color="#0b2e5c"/><stop offset="0.805" stop-color="#0b2e5c"/><stop offset="0.806" stop-color="#092a4f"/><stop offset="0.882" stop-color="#092a4f"/><stop offset="0.884" stop-color="#062741"/><stop offset="0.943" stop-color="#062741"/><stop offset="0.944" stop-color="#032333"/><stop offset="1.000" stop-color="#032333"/></linearGradient>
<path id="p76" d="M866.30 60.3L867.06 116.3L869.85 572.8H870.15L873.39 116.3L874.20 60.3"/>
<linearGradient id="g76a" href="#g76" gradientTransform="translate(0 -1.1)"/>
<linearGradient id="g76b" href="#g76" gradientTransform="translate(0 -2.2)"/>
<linearGradient id="g76c" href="#g76" gradientTransform="translate(0 -3.1)"/>
<linearGradient id="g77" gradientUnits="userSpaceOnUse" x1="0" y1="57.5" x2="0" y2="575.6"><stop offset="0.000" stop-color="#e7fa5a"/><stop offset="0.037" stop-color="#e7fa5a"/><stop offset="0.038" stop-color="#ebef54"/><stop offset="0.039" stop-color="#f7ce45"/><stop offset="0.042" stop-color="#faa43e"/><stop offset="0.044" stop-color="#ee8150"/><stop offset="0.045" stop-color="#e87a58"/><stop offset="0.046" stop-color="#da6e67"/><stop offset="0.053" stop-color="#a15a86"/><stop offset="0.054" stop-color="#a15a86"/><stop offset="0.057" stop-color="#8e538b"/><stop offset="0.058" stop-color="#8e538b"/><stop offset="0.059" stop-color="#85508d"/><stop offset="0.061" stop-color="#85508d"/><stop offset="0.063" stop-color="#7c4c90"/><stop offset="0.064" stop-color="#7c4c90"/><stop offset="0.065" stop-color="#734892"/><stop offset="0.067" stop-color="#734892"/><stop offset="0.068" stop-color="#6a4495"/><stop offset="0.072" stop-color="#6a4495"/><stop offset="0.073" stop-color="#604098"/><stop offset="0.079" stop-color="#604098"/><stop offset="0.080" stop-color="#563c99"/><stop offset="0.089" stop-color="#563c99"/><stop offset="0.090" stop-color="#4b389a"/><stop offset="0.101" stop-color="#4b389a"/><stop offset="0.102" stop-color="#3f359a"/><stop offset="0.118" stop-color="#3f359a"/><stop offset="0.119" stop-color="#34329a"/><stop offset="0.139" stop-color="#34329a"/><stop offset="0.140" stop-color="#29318a"/><stop offset="0.152" stop-color="#29318a"/><stop offset="0.153" stop-color="#1d317b"/><stop offset="0.166" stop-color="#1d317b"/><stop offset="0.167" stop-color="#12306b"/><stop offset="0.178" stop-color="#12306b"/><stop offset="0.179" stop-color="#0b2e5c"/><stop offset="0.192" stop-color="#0b2e5c"/><stop offset="0.193" stop-color="#092a4f"/><stop offset="0.207" stop-color="#092a4f"/><stop offset="0.208" stop-color="#062741"/><stop offset="0.396" stop-color="#062741"/><stop offset="0.397" stop-color="#092a4f"/><stop offset="0.477" stop-color="#092a4f"/><stop offset="0.478" stop-color="#0b2e5c"/><stop offset="0.609" stop-color="#0b2e5c"/><stop offset="0.610" stop-color="#092a4f"/><stop offset="0.837" stop-color="#092a4f"/><stop offset="0.838" stop-color="#062741"/><stop offset="0.907" stop-color="#062741"/><stop offset="0.908" stop-color="#032333"/><stop offset="1.000" stop-color="#032333"/></linearGradient>
<path id="p77" d="M874.20 60.3L874.91 116.3L877.35 572.8H877.65L880.53 116.3L881.30 60.3"/>
<linearGradient id="g77a" href="#g77" gradientTransform="translate(0 -1.1)"/>
<linearGradient id="g77b" href="#g77" gradientTransform="translate(0 -2.2)"/>
<linearGradient id="g77c" href="#g77" gradientTransform="translate(0 -3.1)"/>
<linearGradient id="g78" gradientUnits="userSpaceOnUse" x1="0" y1="57.5" x2="0" y2="575.6"><stop offset="0.000" stop-color="#e7fa5a"/><stop offset="0.038" stop-color="#e7fa5a"/><stop offset="0.039" stop-color="#f4d949"/><stop offset="0.042" stop-color="#fbae3c"/><stop offset="0.044" stop-color="#f48848"/><stop offset="0.046" stop-color="#e27260"/><stop offset="0.047" stop-color="#d16a6d"/><stop offset="0.051" stop-color="#b4607e"/><stop offset="0.052" stop-color="#b4607e"/><stop offset="0.056" stop-color="#975789"/><stop offset="0.057" stop-color="#975789"/><stop offset="0.058" stop-color="#8e538b"/><stop offset="0.059" stop-color="#8e538b"/><stop offset="0.060" stop-color="#85508d"/><stop offset="0.063" stop-color="#85508d"/><stop offset="0.064" stop-color="#7c4c90"/><stop offset="0.065" stop-color="#7c4c90"/><stop offset="0.066" stop-color="#734892"/><stop offset="0.069" stop-color="#734892"/><stop offset="0.071" stop-color="#6a4495"/><stop offset="0.074" stop-color="#6a4495"/><stop offset="0.075" stop-color="#604098"/><stop offset="0.082" stop-color="#604098"/><stop offset="0.083" stop-color="#563c99"/><stop offset="0.094" stop-color="#563c99"/><stop offset="0.095" stop-color="#4b389a"/><stop offset="0.105" stop-color="#4b389a"/><stop offset="0.107" stop-color="#3f359a"/><stop offset="0.125" stop-color="#3f359a"/><stop offset="0.126" stop-color="#34329a"/><stop offset="0.144" stop-color="#34329a"/><stop offset="0.145" stop-color="#29318a"/><stop offset="0.156" stop-color="#29318a"/><stop offset="0.157" stop-color="#1d317b"/><stop offset="0.170" stop-color="#1d317b"/><stop offset="0.171" stop-color="#12306b"/><stop offset="0.183" stop-color="#12306b"/><stop offset="0.184" stop-color="#0b2e5c"/><stop offset="0.197" stop-color="#0b2e5c"/><stop offset="0.198" stop-color="#092a4f"/><stop offset="0.220" stop-color="#092a4f"/><stop offset="0.221" stop-color="#062741"/><stop offset="0.259" stop-color="#062741"/><stop offset="0.261" stop-color="#092a4f"/><stop offset="0.336" stop-color="#092a4f"/><stop offset="0.337" stop-color="#062741"/><stop offset="0.390" stop-color="#062741"/><stop offset="0.391" stop-color="#092a4f"/><stop offset="0.456" stop-color="#092a4f"/><stop offset="0.457" stop-color="#0b2e5c"/><stop offset="0.763" stop-color="#0b2e5c"/><stop offset="0.764" stop-color="#092a4f"/><stop offset="0.873" stop-color="#092a4f"/><stop offset="0.874" stop-color="#062741"/><stop offset="0.935" stop-color="#062741"/><stop offset="0.936" stop-color="#032333"/><stop offset="1.000" stop-color="#032333"/></linearGradient>
<path id="p78" d="M881.30 60.3L882.06 116.3L884.85 572.8H885.15L888.03 116.3L888.80 60.3"/>
<linearGradient id="g78a" href="#g78" gradientTransform="translate(0 -1.1)"/>
<linearGradient id="g78b" href="#g78" gradientTransform="translate(0 -2.2)"/>
<linearGradient id="g78c" href="#g78" gradientTransform="translate(0 -3.1)"/>
<linearGradient id="g79" gradientUnits="userSpaceOnUse" x1="0" y1="57.5" x2="0" y2="575.6"><stop offset="0.000" stop-color="#e7fa5a"/><stop offset="0.035" stop-color="#e7fa5a"/><stop offset="0.036" stop-color="#f4d949"/><stop offset="0.038" stop-color="#fbae3c"/><stop offset="0.041" stop-color="#f48848"/><stop offset="0.043" stop-color="#e27260"/><stop offset="0.049" stop-color="#b4607e"/><stop offset="0.050" stop-color="#b4607e"/><stop offset="0.052" stop-color="#a15a86"/><stop offset="0.053" stop-color="#a15a86"/><stop offset="0.054" stop-color="#975789"/><stop offset="0.056" stop-color="#975789"/><stop offset="0.057" stop-color="#8e538b"/><stop offset="0.059" stop-color="#8e538b"/><stop offset="0.060" stop-color="#85508d"/><stop offset="0.063" stop-color="#85508d"/><stop offset="0.064" stop-color="#7c4c90"/><stop offset="0.067" stop-color="#7c4c90"/><stop offset="0.068" stop-color="#734892"/><stop offset="0.072" stop-color="#734892"/><stop offset="0.073" stop-color="#6a4495"/><stop offset="0.080" stop-color="#6a4495"/><stop offset="0.081" stop-color="#604098"/><stop offset="0.090" stop-color="#604098"/><stop offset="0.091" stop-color="#563c99"/><stop offset="0.103" stop-color="#563c99"/><stop offset="0.104" stop-color="#4b389a"/><stop offset="0.120" stop-color="#4b389a"/><stop offset="0.122" stop-color="#3f359a"/><stop offset="0.141" stop-color="#3f359a"/><stop offset="0.142" stop-color="#34329a"/><stop offset="0.154" stop-color="#34329a"/><stop offset="0.155" stop-color="#29318a"/><stop offset="0.167" stop-color="#29318a"/><stop offset="0.168" stop-color="#1d317b"/><stop offset="0.181" stop-color="#1d317b"/><stop offset="0.182" stop-color="#12306b"/><stop offset="0.195" stop-color="#12306b"/><stop offset="0.196" stop-color="#0b2e5c"/><stop offset="0.218" stop-color="#0b2e5c"/><stop offset="0.219" stop-color="#092a4f"/><stop offset="0.262" stop-color="#092a4f"/><stop offset="0.263" stop-color="#0b2e5c"/><stop offset="0.317" stop-color="#0b2e5c"/><stop offset="0.318" stop-color="#092a4f"/><stop offset="0.398" stop-color="#092a4f"/><stop offset="0.400" stop-color="#0b2e5c"/><stop offset="0.464" stop-color="#0b2e5c"/><stop offset="0.466" stop-color="#12306b"/><stop offset="0.591" stop-color="#12306b"/><stop offset="0.592" stop-color="#0b2e5c"/><stop offset="0.850" stop-color="#0b2e5c"/><stop offset="0.851" stop-color="#092a4f"/><stop offset="0.913" stop-color="#092a4f"/><stop offset="0.914" stop-color="#062741"/><stop offset="1.000" stop-color="#062741"/></linearGradient>
<path id="p79" d="M888.80 60.3L889.56 116.3L892.35 572.8H892.65L895.44 116.3L896.20 60.3"/>
<linearGradient id="g79a" href="#g79" gradientTransform="translate(0 -1.1)"/>
<linearGradient id="g79b" href="#g79" gradientTransform="translate(0 -2.2)"/>
<linearGradient id="g79c" href="#g79" gradientTransform="translate(0 -3.1)"/>
<linearGradient id="g80" gradientUnits="userSpaceOnUse" x1="0" y1="57.5" x2="0" y2="277.0"><stop offset="0.000" stop-color="#e7fa5a"/><stop offset="0.066" stop-color="#e7fa5a"/><stop offset="0.068" stop-color="#efe44f"/><stop offset="0.071" stop-color="#f8c342"/><stop offset="0.074" stop-color="#fbae3c"/><stop offset="0.079" stop-color="#f48848"/><stop offset="0.085" stop-color="#e27260"/><stop offset="0.101" stop-color="#ab5d82"/><stop offset="0.104" stop-color="#ab5d82"/><stop offset="0.109" stop-color="#975789"/><stop offset="0.112" stop-color="#975789"/><stop offset="0.115" stop-color="#8e538b"/><stop offset="0.120" stop-color="#8e538b"/><stop offset="0.123" stop-color="#85508d"/><stop offset="0.128" stop-color="#85508d"/><stop offset="0.131" stop-color="#7c4c90"/><stop offset="0.139" stop-color="#7c4c90"/><stop offset="0.142" stop-color="#734892"/><stop offset="0.150" stop-color="#734892"/><stop offset="0.153" stop-color="#6a4495"/><stop offset="0.161" stop-color="#6a4495"/><stop offset="0.164" stop-color="#604098"/><stop offset="0.178" stop-color="#604098"/><stop offset="0.180" stop-color="#563c99"/><stop offset="0.205" stop-color="#563c99"/><stop offset="0.208" stop-color="#4b389a"/><stop offset="0.235" stop-color="#4b389a"/><stop offset="0.238" stop-color="#3f359a"/><stop offset="0.273" stop-color="#3f359a"/><stop offset="0.276" stop-color="#34329a"/><stop offset="0.320" stop-color="#34329a"/><stop offset="0.323" stop-color="#29318a"/><stop offset="0.355" stop-color="#29318a"/><stop offset="0.358" stop-color="#1d317b"/><stop offset="0.385" stop-color="#1d317b"/><stop offset="0.388" stop-color="#12306b"/><stop offset="0.421" stop-color="#12306b"/><stop offset="0.424" stop-color="#0b2e5c"/><stop offset="0.465" stop-color="#0b2e5c"/><stop offset="0.467" stop-color="#092a4f"/><stop offset="1.000" stop-color="#092a4f"/></linearGradient>
<path id="p80" d="M896.30 60.3L896.96 116.3L898.05 274.2H898.35L899.52 116.3L900.20 60.3"/>
<linearGradient id="g80a" href="#g80" gradientTransform="translate(0 -1.1)"/>
<linearGradient id="g80b" href="#g80" gradientTransform="translate(0 -2.2)"/>
<linearGradient id="g80c" href="#g80" gradientTransform="translate(0 -3.1)"/>
<linearGradient id="g81" gradientUnits="userSpaceOnUse" x1="0" y1="57.5" x2="0" y2="277.0"><stop offset="0.000" stop-color="#e7fa5a"/><stop offset="0.079" stop-color="#e7fa5a"/><stop offset="0.082" stop-color="#f4d949"/><stop offset="0.085" stop-color="#f8c342"/><stop offset="0.087" stop-color="#faa43e"/><stop offset="0.090" stop-color="#f79143"/><stop offset="0.093" stop-color="#f48848"/><stop offset="0.098" stop-color="#e27260"/><stop offset="0.101" stop-color="#d16a6d"/><stop offset="0.112" stop-color="#ab5d82"/><stop offset="0.115" stop-color="#ab5d82"/><stop offset="0.120" stop-color="#975789"/><stop offset="0.123" stop-color="#975789"/><stop offset="0.126" stop-color="#8e538b"/><stop offset="0.128" stop-color="#8e538b"/><stop offset="0.131" stop-color="#85508d"/><stop offset="0.137" stop-color="#85508d"/><stop offset="0.139" stop-color="#7c4c90"/><stop offset="0.145" stop-color="#7c4c90"/><stop offset="0.148" stop-color="#734892"/><stop offset="0.153" stop-color="#734892"/><stop offset="0.156" stop-color="#6a4495"/><stop offset="0.164" stop-color="#6a4495"/><stop offset="0.167" stop-color="#604098"/><stop offset="0.178" stop-color="#604098"/><stop offset="0.180" stop-color="#563c99"/><stop offset="0.200" stop-color="#563c99"/><stop offset="0.202" stop-color="#4b389a"/><stop offset="0.227" stop-color="#4b389a"/><stop offset="0.230" stop-color="#3f359a"/><stop offset="0.260" stop-color="#3f359a"/><stop offset="0.262" stop-color="#34329a"/><stop offset="0.309" stop-color="#34329a"/><stop offset="0.312" stop-color="#29318a"/><stop offset="0.347" stop-color="#29318a"/><stop offset="0.350" stop-color="#1d317b"/><stop offset="0.377" stop-color="#1d317b"/><stop offset="0.380" stop-color="#12306b"/><stop offset="0.410" stop-color="#12306b"/><stop offset="0.413" stop-color="#0b2e5c"/><stop offset="0.451" stop-color="#0b2e5c"/><stop offset="0.454" stop-color="#092a4f"/><stop offset="0.845" stop-color="#092a4f"/><stop offset="0.847" stop-color="#062741"/><stop offset="0.913" stop-color="#062741"/><stop offset="0.916" stop-color="#092a4f"/><stop offset="1.000" stop-color="#092a4f"/></linearGradient>
<path id="p81" d="M900.40 60.3L901.08 116.3L902.25 274.2H902.55L903.72 116.3L904.40 60.3"/>
<linearGradient id="g81a" href="#g81" gradientTransform="translate(0 -1.1)"/>
<linearGradient id="g81b" href="#g81" gradientTransform="translate(0 -2.2)"/>
<linearGradient id="g81c" href="#g81" gradientTransform="translate(0 -3.1)"/>
<linearGradient id="g82" gradientUnits="userSpaceOnUse" x1="0" y1="57.5" x2="0" y2="277.0"><stop offset="0.000" stop-color="#e7fa5a"/><stop offset="0.077" stop-color="#e7fa5a"/><stop offset="0.079" stop-color="#efe44f"/><stop offset="0.082" stop-color="#f8c342"/><stop offset="0.085" stop-color="#fbae3c"/><stop offset="0.090" stop-color="#f48848"/><stop offset="0.096" stop-color="#e27260"/><stop offset="0.112" stop-color="#ab5d82"/><stop offset="0.115" stop-color="#ab5d82"/><stop offset="0.120" stop-color="#975789"/><stop offset="0.123" stop-color="#975789"/><stop offset="0.126" stop-color="#8e538b"/><stop offset="0.131" stop-color="#8e538b"/><stop offset="0.134" stop-color="#85508d"/><stop offset="0.139" stop-color="#85508d"/><stop offset="0.142" stop-color="#7c4c90"/><stop offset="0.148" stop-color="#7c4c90"/><stop offset="0.150" stop-color="#734892"/><stop offset="0.156" stop-color="#734892"/><stop offset="0.159" stop-color="#6a4495"/><stop offset="0.167" stop-color="#6a4495"/><stop offset="0.169" stop-color="#604098"/><stop offset="0.189" stop-color="#604098"/><stop offset="0.191" stop-color="#563c99"/><stop offset="0.213" stop-color="#563c99"/><stop offset="0.216" stop-color="#4b389a"/><stop offset="0.241" stop-color="#4b389a"/><stop offset="0.243" stop-color="#3f359a"/><stop offset="0.282" stop-color="#3f359a"/><stop offset="0.284" stop-color="#34329a"/><stop offset="0.328" stop-color="#34329a"/><stop offset="0.331" stop-color="#29318a"/><stop offset="0.361" stop-color="#29318a"/><stop offset="0.364" stop-color="#1d317b"/><stop offset="0.391" stop-color="#1d317b"/><stop offset="0.394" stop-color="#12306b"/><stop offset="0.429" stop-color="#12306b"/><stop offset="0.432" stop-color="#0b2e5c"/><stop offset="0.484" stop-color="#0b2e5c"/><stop offset="0.487" stop-color="#092a4f"/><stop offset="0.525" stop-color="#092a4f"/><stop offset="0.528" stop-color="#0b2e5c"/><stop offset="0.683" stop-color="#0b2e5c"/><stop offset="0.686" stop-color="#092a4f"/><stop offset="1.000" stop-color="#092a4f"/></linearGradient>
<path id="p82" d="M904.60 60.3L905.31 116.3L906.55 274.2H906.85L908.16 116.3L908.90 60.3"/>
<linearGradient id="g82a" href="#g82" gradientTransform="translate(0 -1.1)"/>
<linearGradient id="g82b" href="#g82" gradientTransform="translate(0 -2.2)"/>
<linearGradient id="g82c" href="#g82" gradientTransform="translate(0 -3.1)"/>
<linearGradient id="g83" gradientUnits="userSpaceOnUse" x1="0" y1="57.5" x2="0" y2="277.0"><stop offset="0.000" stop-color="#e7fa5a"/><stop offset="0.074" stop-color="#e7fa5a"/><stop offset="0.077" stop-color="#ebef54"/><stop offset="0.079" stop-color="#f7ce45"/><stop offset="0.085" stop-color="#faa43e"/><stop offset="0.087" stop-color="#f79143"/><stop offset="0.090" stop-color="#f48848"/><stop offset="0.096" stop-color="#e27260"/><stop offset="0.109" stop-color="#b4607e"/><stop offset="0.112" stop-color="#b4607e"/><stop offset="0.118" stop-color="#a15a86"/><stop offset="0.120" stop-color="#a15a86"/><stop offset="0.123" stop-color="#975789"/><stop offset="0.128" stop-color="#975789"/><stop offset="0.131" stop-color="#8e538b"/><stop offset="0.137" stop-color="#8e538b"/><stop offset="0.139" stop-color="#85508d"/><stop offset="0.145" stop-color="#85508d"/><stop offset="0.148" stop-color="#7c4c90"/><stop offset="0.156" stop-color="#7c4c90"/><stop offset="0.159" stop-color="#734892"/><stop offset="0.167" stop-color="#734892"/><stop offset="0.169" stop-color="#6a4495"/><stop offset="0.186" stop-color="#6a4495"/><stop offset="0.189" stop-color="#604098"/><stop offset="0.213" stop-color="#604098"/><stop offset="0.216" stop-color="#563c99"/><stop offset="0.241" stop-color="#563c99"/><stop offset="0.243" stop-color="#4b389a"/><stop offset="0.282" stop-color="#4b389a"/><stop offset="0.284" stop-color="#3f359a"/><stop offset="0.328" stop-color="#3f359a"/><stop offset="0.331" stop-color="#34329a"/><stop offset="0.361" stop-color="#34329a"/><stop offset="0.364" stop-color="#29318a"/><stop offset="0.391" stop-color="#29318a"/><stop offset="0.394" stop-color="#1d317b"/><stop offset="0.429" stop-color="#1d317b"/><stop offset="0.432" stop-color="#12306b"/><stop offset="0.487" stop-color="#12306b"/><stop offset="0.489" stop-color="#0b2e5c"/><stop offset="0.511" stop-color="#0b2e5c"/><stop offset="0.514" stop-color="#12306b"/><stop offset="0.640" stop-color="#12306b"/><stop offset="0.642" stop-color="#0b2e5c"/><stop offset="1.000" stop-color="#0b2e5c"/></linearGradient>
<path id="p83" d="M909.10 60.3L909.81 116.3L911.05 274.2H911.35L912.74 116.3L913.50 60.3"/>
<linearGradient id="g83a" href="#g83" gradientTransform="translate(0 -1.1)"/>
<linearGradient id="g83b" href="#g83" gradientTransform="translate(0 -2.2)"/>
<linearGradient id="g83c" href="#g83" gradientTransform="translate(0 -3.1)"/>
<linearGradient id="g84" gradientUnits="userSpaceOnUse" x1="0" y1="57.5" x2="0" y2="277.0"><stop offset="0.000" stop-color="#e7fa5a"/><stop offset="0.074" stop-color="#e7fa5a"/><stop offset="0.077" stop-color="#f4d949"/><stop offset="0.082" stop-color="#fbae3c"/><stop offset="0.087" stop-color="#f48848"/><stop offset="0.093" stop-color="#e27260"/><stop offset="0.107" stop-color="#b4607e"/><stop offset="0.109" stop-color="#b4607e"/><stop offset="0.115" stop-color="#a15a86"/><stop offset="0.118" stop-color="#a15a86"/><stop offset="0.120" stop-color="#975789"/><stop offset="0.126" stop-color="#975789"/><stop offset="0.128" stop-color="#8e538b"/><stop offset="0.134" stop-color="#8e538b"/><stop offset="0.137" stop-color="#85508d"/><stop offset="0.142" stop-color="#85508d"/><stop offset="0.145" stop-color="#7c4c90"/><stop offset="0.153" stop-color="#7c4c90"/><stop offset="0.156" stop-color="#734892"/><stop offset="0.164" stop-color="#734892"/><stop offset="0.167" stop-color="#6a4495"/><stop offset="0.183" stop-color="#6a4495"/><stop offset="0.186" stop-color="#604098"/><stop offset="0.211" stop-color="#604098"/><stop offset="0.213" stop-color="#563c99"/><stop offset="0.238" stop-color="#563c99"/><stop offset="0.241" stop-color="#4b389a"/><stop offset="0.276" stop-color="#4b389a"/><stop offset="0.279" stop-color="#3f359a"/><stop offset="0.323" stop-color="#3f359a"/><stop offset="0.325" stop-color="#34329a"/><stop offset="0.358" stop-color="#34329a"/><stop offset="0.361" stop-color="#29318a"/><stop offset="0.388" stop-color="#29318a"/><stop offset="0.391" stop-color="#1d317b"/><stop offset="0.426" stop-color="#1d317b"/><stop offset="0.429" stop-color="#12306b"/><stop offset="0.481" stop-color="#12306b"/><stop offset="0.484" stop-color="#0b2e5c"/><stop offset="0.804" stop-color="#0b2e5c"/><stop offset="0.806" stop-color="#092a4f"/><stop offset="0.913" stop-color="#092a4f"/><stop offset="0.916" stop-color="#0b2e5c"/><stop offset="1.000" stop-color="#0b2e5c"/></linearGradient>
<path id="p84" d="M913.70 60.3L914.46 116.3L915.85 274.2H916.15L917.39 116.3L918.10 60.3"/>
<linearGradient id="g84a" href="#g84" gradientTransform="translate(0 -1.1)"/>
<linearGradient id="g84b" href="#g84" gradientTransform="translate(0 -2.2)"/>
<linearGradient id="g84c" href="#g84" gradientTransform="translate(0 -3.1)"/>
<linearGradient id="g85" gradientUnits="userSpaceOnUse" x1="0" y1="57.5" x2="0" y2="169.0"><stop offset="0.000" stop-color="#e7fa5a"/><stop offset="0.151" stop-color="#e7fa5a"/><stop offset="0.156" stop-color="#ebef54"/><stop offset="0.167" stop-color="#f8c342"/><stop offset="0.172" stop-color="#faa43e"/><stop offset="0.178" stop-color="#f89b41"/><stop offset="0.183" stop-color="#f48848"/><stop offset="0.194" stop-color="#e27260"/><stop offset="0.226" stop-color="#ab5d82"/><stop offset="0.231" stop-color="#ab5d82"/><stop offset="0.237" stop-color="#a15a86"/><stop offset="0.242" stop-color="#a15a86"/><stop offset="0.248" stop-color="#975789"/><stop offset="0.253" stop-color="#975789"/><stop offset="0.258" stop-color="#8e538b"/><stop offset="0.269" stop-color="#8e538b"/><stop offset="0.274" stop-color="#85508d"/><stop offset="0.285" stop-color="#85508d"/><stop offset="0.291" stop-color="#7c4c90"/><stop offset="0.301" stop-color="#7c4c90"/><stop offset="0.307" stop-color="#734892"/><stop offset="0.323" stop-color="#734892"/><stop offset="0.328" stop-color="#6a4495"/><stop offset="0.355" stop-color="#6a4495"/><stop offset="0.361" stop-color="#604098"/><stop offset="0.404" stop-color="#604098"/><stop offset="0.409" stop-color="#563c99"/><stop offset="0.463" stop-color="#563c99"/><stop offset="0.468" stop-color="#4b389a"/><stop offset="0.533" stop-color="#4b389a"/><stop offset="0.538" stop-color="#3f359a"/><stop offset="0.630" stop-color="#3f359a"/><stop offset="0.635" stop-color="#34329a"/><stop offset="0.700" stop-color="#34329a"/><stop offset="0.705" stop-color="#29318a"/><stop offset="0.759" stop-color="#29318a"/><stop offset="0.764" stop-color="#1d317b"/><stop offset="0.834" stop-color="#1d317b"/><stop offset="0.840" stop-color="#12306b"/><stop offset="0.936" stop-color="#12306b"/><stop offset="0.942" stop-color="#0b2e5c"/><stop offset="1.000" stop-color="#0b2e5c"/></linearGradient>
<path id="p85" d="M918.20 60.3L918.83 166.2H919.13L919.77 60.3"/>
<linearGradient id="g85a" href="#g85" gradientTransform="translate(0 -1.1)"/>
<linearGradient id="g85b" href="#g85" gradientTransform="translate(0 -2.2)"/>
<linearGradient id="g85c" href="#g85" gradientTransform="translate(0 -3.1)"/>
<linearGradient id="g86" gradientUnits="userSpaceOnUse" x1="0" y1="57.5" x2="0" y2="169.0"><stop offset="0.000" stop-color="#e7fa5a"/><stop offset="0.129" stop-color="#e7fa5a"/><stop offset="0.135" stop-color="#ebef54"/><stop offset="0.140" stop-color="#f4d949"/><stop offset="0.145" stop-color="#f9b93f"/><stop offset="0.156" stop-color="#f79143"/><stop offset="0.161" stop-color="#f48848"/><stop offset="0.172" stop-color="#e27260"/><stop offset="0.205" stop-color="#ab5d82"/><stop offset="0.210" stop-color="#ab5d82"/><stop offset="0.215" stop-color="#a15a86"/><stop offset="0.221" stop-color="#a15a86"/><stop offset="0.226" stop-color="#975789"/><stop offset="0.231" stop-color="#975789"/><stop offset="0.237" stop-color="#8e538b"/><stop offset="0.248" stop-color="#8e538b"/><stop offset="0.253" stop-color="#85508d"/><stop offset="0.269" stop-color="#85508d"/><stop offset="0.274" stop-color="#7c4c90"/><stop offset="0.291" stop-color="#7c4c90"/><stop offset="0.296" stop-color="#734892"/><stop offset="0.312" stop-color="#734892"/><stop offset="0.318" stop-color="#6a4495"/><stop offset="0.339" stop-color="#6a4495"/><stop offset="0.344" stop-color="#604098"/><stop offset="0.393" stop-color="#604098"/><stop offset="0.398" stop-color="#563c99"/><stop offset="0.452" stop-color="#563c99"/><stop offset="0.457" stop-color="#4b389a"/><stop offset="0.522" stop-color="#4b389a"/><stop offset="0.527" stop-color="#3f359a"/><stop offset="0.614" stop-color="#3f359a"/><stop offset="0.619" stop-color="#34329a"/><stop offset="0.689" stop-color="#34329a"/><stop offset="0.694" stop-color="#29318a"/><stop offset="0.753" stop-color="#29318a"/><stop offset="0.759" stop-color="#1d317b"/><stop offset="0.823" stop-color="#1d317b"/><stop offset="0.829" stop-color="#12306b"/><stop offset="0.915" stop-color="#12306b"/><stop offset="0.920" stop-color="#0b2e5c"/><stop offset="1.000" stop-color="#0b2e5c"/></linearGradient>
<path id="p86" d="M919.77 60.3L920.40 166.2H920.70L921.34 60.3"/>
<linearGradient id="g86a" href="#g86" gradientTransform="translate(0 -1.1)"/>
<linearGradient id="g86b" href="#g86" gradientTransform="translate(0 -2.2)"/>
<linearGradient id="g86c" href="#g86" gradientTransform="translate(0 -3.1)"/>
<linearGradient id="g87" gradientUnits="userSpaceOnUse" x1="0" y1="57.5" x2="0" y2="169.0"><stop offset="0.000" stop-color="#e7fa5a"/><stop offset="0.140" stop-color="#e7fa5a"/><stop offset="0.145" stop-color="#f4d949"/><stop offset="0.156" stop-color="#fbae3c"/><stop offset="0.167" stop-color="#f48848"/><stop offset="0.178" stop-color="#e27260"/><stop offset="0.205" stop-color="#b4607e"/><stop offset="0.210" stop-color="#b4607e"/><stop offset="0.221" stop-color="#a15a86"/><stop offset="0.226" stop-color="#a15a86"/><stop offset="0.231" stop-color="#975789"/><stop offset="0.237" stop-color="#975789"/><stop offset="0.242" stop-color="#8e538b"/><stop offset="0.253" stop-color="#8e538b"/><stop offset="0.258" stop-color="#85508d"/><stop offset="0.274" stop-color="#85508d"/><stop offset="0.280" stop-color="#7c4c90"/><stop offset="0.296" stop-color="#7c4c90"/><stop offset="0.301" stop-color="#734892"/><stop offset="0.318" stop-color="#734892"/><stop offset="0.323" stop-color="#6a4495"/><stop offset="0.350" stop-color="#6a4495"/><stop offset="0.355" stop-color="#604098"/><stop offset="0.398" stop-color="#604098"/><stop offset="0.404" stop-color="#563c99"/><stop offset="0.457" stop-color="#563c99"/><stop offset="0.463" stop-color="#4b389a"/><stop offset="0.533" stop-color="#4b389a"/><stop offset="0.538" stop-color="#3f359a"/><stop offset="0.624" stop-color="#3f359a"/><stop offset="0.630" stop-color="#34329a"/><stop offset="0.700" stop-color="#34329a"/><stop offset="0.705" stop-color="#29318a"/><stop offset="0.764" stop-color="#29318a"/><stop offset="0.770" stop-color="#1d317b"/><stop offset="0.834" stop-color="#1d317b"/><stop offset="0.840" stop-color="#12306b"/><stop offset="0.947" stop-color="#12306b"/><stop offset="0.953" stop-color="#0b2e5c"/><stop offset="1.000" stop-color="#0b2e5c"/></linearGradient>
<path id="p87" d="M921.34 60.3L921.97 166.2H922.27L922.91 60.3"/>
<linearGradient id="g87a" href="#g87" gradientTransform="translate(0 -1.1)"/>
<linearGradient id="g87b" href="#g87" gradientTransform="translate(0 -2.2)"/>
<linearGradient id="g87c" href="#g87" gradientTransform="translate(0 -3.1)"/>
<linearGradient id="g88" gradientUnits="userSpaceOnUse" x1="0" y1="57.5" x2="0" y2="169.0"><stop offset="0.000" stop-color="#e7fa5a"/><stop offset="0.151" stop-color="#e7fa5a"/><stop offset="0.156" stop-color="#ebef54"/><stop offset="0.161" stop-color="#f7ce45"/><stop offset="0.172" stop-color="#faa43e"/><stop offset="0.183" stop-color="#ee8150"/><stop offset="0.194" stop-color="#e27260"/><stop offset="0.199" stop-color="#d16a6d"/><stop offset="0.215" stop-color="#b4607e"/><stop offset="0.221" stop-color="#b4607e"/><stop offset="0.231" stop-color="#a15a86"/><stop offset="0.237" stop-color="#a15a86"/><stop offset="0.242" stop-color="#975789"/><stop offset="0.248" stop-color="#975789"/><stop offset="0.253" stop-color="#8e538b"/><stop offset="0.258" stop-color="#8e538b"/><stop offset="0.264" stop-color="#85508d"/><stop offset="0.280" stop-color="#85508d"/><stop offset="0.285" stop-color="#7c4c90"/><stop offset="0.296" stop-color="#7c4c90"/><stop offset="0.301" stop-color="#734892"/><stop offset="0.318" stop-color="#734892"/><stop offset="0.323" stop-color="#6a4495"/><stop offset="0.339" stop-color="#6a4495"/><stop offset="0.344" stop-color="#604098"/><stop offset="0.387" stop-color="#604098"/><stop offset="0.393" stop-color="#563c99"/><stop offset="0.441" stop-color="#563c99"/><stop offset="0.447" stop-color="#4b389a"/><stop offset="0.506" stop-color="#4b389a"/><stop offset="0.511" stop-color="#3f359a"/><stop offset="0.603" stop-color="#3f359a"/><stop offset="0.608" stop-color="#34329a"/><stop offset="0.683" stop-color="#34329a"/><stop offset="0.689" stop-color="#29318a"/><stop offset="0.748" stop-color="#29318a"/><stop offset="0.753" stop-color="#1d317b"/><stop offset="0.818" stop-color="#1d317b"/><stop offset="0.823" stop-color="#12306b"/><stop offset="0.910" stop-color="#12306b"/><stop offset="0.915" stop-color="#0b2e5c"/><stop offset="1.000" stop-color="#0b2e5c"/></linearGradient>
<path id="p88" d="M922.91 60.3L923.54 166.2H923.84L924.48 60.3"/>
<linearGradient id="g88a" href="#g88" gradientTransform="translate(0 -1.1)"/>
<linearGradient id="g88b" href="#g88" gradientTransform="translate(0 -2.2)"/>
<linearGradient id="g88c" href="#g88" gradientTransform="translate(0 -3.1)"/>
</defs>
<rect width="1200" height="800" fill="#fff"/>
<g stroke="#262626" stroke-width="2" fill="none">
<path d="M147.5 58.5V690.4"/>
<path d="M146.5 689.4H1022.4"/>
<path d="M147.5 59.50h9"/>
<path d="M147.5 130.40h9"/>
<path d="M147.5 200.40h9"/>
<path d="M147.5 270.40h9"/>
<path d="M147.5 340.40h9"/>
<path d="M147.5 410.40h9"/>
<path d="M147.5 480.40h9"/>
<path d="M147.5 550.40h9"/>
<path d="M147.5 620.40h9"/>
<path d="M256.74 689.4v-9"/>
<path d="M365.98 689.4v-9"/>
<path d="M475.21 689.4v-9"/>
<path d="M584.45 689.4v-9"/>
<path d="M693.69 689.4v-9"/>
<path d="M802.92 689.4v-9"/>
<path d="M912.16 689.4v-9"/>
<path d="M1021.40 689.4v-9"/>
</g>
<g fill="#032333"><circle cx="604.1" cy="59.5" r="2.9"/></g>
<g fill="none" stroke-width="5.6" stroke-linecap="round" stroke-linejoin="round">
<use href="#p0" stroke="url(#g0)"/>
<use href="#p0" stroke="url(#g0a)" stroke-width="4.6"/>
<use href="#p0" stroke="url(#g0b)" stroke-width="3.4"/>
<use href="#p0" stroke="url(#g0c)" stroke-width="1.9"/>
<use href="#p1" stroke="url(#g1)"/>
<use href="#p1" stroke="url(#g1a)" stroke-width="4.6"/>
<use href="#p1" stroke="url(#g1b)" stroke-width="3.4"/>
<use href="#p1" stroke="url(#g1c)" stroke-width="1.9"/>
<use href="#p2" stroke="url(#g2)"/>
<use href="#p2" stroke="url(#g2a)" stroke-width="4.6"/>
<use href="#p2" stroke="url(#g2b)" stroke-width="3.4"/>
<use href="#p2" stroke="url(#g2c)" stroke-width="1.9"/>
<use href="#p3" stroke="url(#g3)"/>
<use href="#p3" stroke="url(#g3a)" stroke-width="4.6"/>
<use href="#p3" stroke="url(#g3b)" stroke-width="3.4"/>
<use href="#p3" stroke="url(#g3c)" stroke-width="1.9"/>
<use href="#p4" stroke="url(#g4)"/>
<use href="#p4" stroke="url(#g4a)" stroke-width="4.6"/>
<use href="#p4" stroke="url(#g4b)" stroke-width="3.4"/>
<use href="#p4" stroke="url(#g4c)" stroke-width="1.9"/>
<use href="#p5" stroke="url(#g5)"/>
<use href="#p5" stroke="url(#g5a)" stroke-width="4.6"/>
<use href="#p5" stroke="url(#g5b)" stroke-width="3.4"/>
<use href="#p5" stroke="url(#g5c)" stroke-width="1.9"/>
<use href="#p6" stroke="url(#g6)"/>
<use href="#p6" stroke="url(#g6a)" stroke-width="4.6"/>
<use href="#p6" stroke="url(#g6b)" stroke-width="3.4"/>
<use href="#p6" stroke="url(#g6c)" stroke-width="1.9"/>
<use href="#p7" stroke="url(#g7)"/>
<use href="#p7" stroke="url(#g7a)" stroke-width="4.6"/>
<use href="#p7" stroke="url(#g7b)" stroke-width="3.4"/>
<use href="#p7" stroke="url(#g7c)" stroke-width="1.9"/>
<use href="#p8" stroke="url(#g8)"/>
<use href="#p8" stroke="url(#g8a)" stroke-width="4.6"/>
<use href="#p8" stroke="url(#g8b)" stroke-width="3.4"/>
<use href="#p8" stroke="url(#g8c)" stroke-width="1.9"/>
<use href="#p9" stroke="url(#g9)"/>
<use href="#p9" stroke="url(#g9a)" stroke-width="4.6"/>
<use href="#p9" stroke="url(#g9b)" stroke-width="3.4"/>
<use href="#p9" stroke="url(#g9c)" stroke-width="1.9"/>
<use href="#p10" stroke="url(#g10)"/>
<use href="#p10" stroke="url(#g10a)" stroke-width="4.6"/>
<use href="#p10" stroke="url(#g10b)" stroke-width="3.4"/>
<use href="#p10" stroke="url(#g10c)" stroke-width="1.9"/>
<use href="#p11" stroke="url(#g11)"/>
<use href="#p11" stroke="url(#g11a)" stroke-width="4.6"/>
<use href="#p11" stroke="url(#g11b)" stroke-width="3.4"/>
<use href="#p11" stroke="url(#g11c)" stroke-width="1.9"/>
<use href="#p12" stroke="url(#g12)"/>
<use href="#p12" stroke="url(#g12a)" stroke-width="4.6"/>
<use href="#p12" stroke="url(#g12b)" stroke-width="3.4"/>
<use href="#p12" stroke="url(#g12c)" stroke-width="1.9"/>
<use href="#p13" stroke="url(#g13)"/>
<use href="#p13" stroke="url(#g13a)" stroke-width="4.6"/>
<use href="#p13" stroke="url(#g13b)" stroke-width="3.4"/>
<use href="#p13" stroke="url(#g13c)" stroke-width="1.9"/>
<use href="#p14" stroke="url(#g14)"/>
<use href="#p14" stroke="url(#g14a)" stroke-width="4.6"/>
<use href="#p14" stroke="url(#g14b)" stroke-width="3.4"/>
<use href="#p14" stroke="url(#g14c)" stroke-width="1.9"/>
<use href="#p15" stroke="url(#g15)"/>
<use href="#p15" stroke="url(#g15a)" stroke-width="4.6"/>
<use href="#p15" stroke="url(#g15b)" stroke-width="3.4"/>
<use href="#p15" stroke="url(#g15c)" stroke-width="1.9"/>
<use href="#p16" stroke="url(#g16)"/>
<use href="#p16" stroke="url(#g16a)" stroke-width="4.6"/>
<use href="#p16" stroke="url(#g16b)" stroke-width="3.4"/>
<use href="#p16" stroke="url(#g16c)" stroke-width="1.9"/>
<use href="#p17" stroke="url(#g17)"/>
<use href="#p17" stroke="url(#g17a)" stroke-width="4.6"/>
<use href="#p17" stroke="url(#g17b)" stroke-width="3.4"/>
<use href="#p17" stroke="url(#g17c)" stroke-width="1.9"/>
<use href="#p18" stroke="url(#g18)"/>
<use href="#p18" stroke="url(#g18a)" stroke-width="4.6"/>
<use href="#p18" stroke="url(#g18b)" stroke-width="3.4"/>
<use href="#p18" stroke="url(#g18c)" stroke-width="1.9"/>
<use href="#p19" stroke="url(#g19)"/>
<use href="#p19" stroke="url(#g19a)" stroke-width="4.6"/>
<use href="#p19" stroke="url(#g19b)" stroke-width="3.4"/>
<use href="#p19" stroke="url(#g19c)" stroke-width="1.9"/>
<use href="#p20" stroke="url(#g20)"/>
<use href="#p20" stroke="url(#g20a)" stroke-width="4.6"/>
<use href="#p20" stroke="url(#g20b)" stroke-width="3.4"/>
<use href="#p20" stroke="url(#g20c)" stroke-width="1.9"/>
<use href="#p21" stroke="url(#g21)"/>
<use href="#p21" stroke="url(#g21a)" stroke-width="4.6"/>
<use href="#p21" stroke="url(#g21b)" stroke-width="3.4"/>
<use href="#p21" stroke="url(#g21c)" stroke-width="1.9"/>
<use href="#p22" stroke="url(#g22)"/>
<use href="#p22" stroke="url(#g22a)" stroke-width="4.6"/>
<use href="#p22" stroke="url(#g22b)" stroke-width="3.4"/>
<use href="#p22" stroke="url(#g22c)" stroke-width="1.9"/>
<use href="#p23" stroke="url(#g23)"/>
<use href="#p23" stroke="url(#g23a)" stroke-width="4.6"/>
<use href="#p23" stroke="url(#g23b)" stroke-width="3.4"/>
<use href="#p23" stroke="url(#g23c)" stroke-width="1.9"/>
<use href="#p24" stroke="url(#g24)"/>
<use href="#p24" stroke="url(#g24a)" stroke-width="4.6"/>
<use href="#p24" stroke="url(#g24b)" stroke-width="3.4"/>
<use href="#p24" stroke="url(#g24c)" stroke-width="1.9"/>
<use href="#p25" stroke="url(#g25)"/>
<use href="#p25" stroke="url(#g25a)" stroke-width="4.6"/>
<use href="#p25" stroke="url(#g25b)" stroke-width="3.4"/>
<use href="#p25" stroke="url(#g25c)" stroke-width="1.9"/>
<use href="#p26" stroke="url(#g26)"/>
<use href="#p26" stroke="url(#g26a)" stroke-width="4.6"/>
<use href="#p26" stroke="url(#g26b)" stroke-width="3.4"/>
<use href="#p26" stroke="url(#g26c)" stroke-width="1.9"/>
<use href="#p27" stroke="url(#g27)"/>
<use href="#p27" stroke="url(#g27a)" stroke-width="4.6"/>
<use href="#p27" stroke="url(#g27b)" stroke-width="3.4"/>
<use href="#p27" stroke="url(#g27c)" stroke-width="1.9"/>
<use href="#p28" stroke="url(#g28)"/>
<use href="#p28" stroke="url(#g28a)" stroke-width="4.6"/>
<use href="#p28" stroke="url(#g28b)" stroke-width="3.4"/>
<use href="#p28" stroke="url(#g28c)" stroke-width="1.9"/>
<use href="#p29" stroke="url(#g29)"/>
<use href="#p29" stroke="url(#g29a)" stroke-width="4.6"/>
<use href="#p29" stroke="url(#g29b)" stroke-width="3.4"/>
<use href="#p29" stroke="url(#g29c)" stroke-width="1.9"/>
<use href="#p30" stroke="url(#g30)"/>
<use href="#p30" stroke="url(#g30a)" stroke-width="4.6"/>
<use href="#p30" stroke="url(#g30b)" stroke-width="3.4"/>
<use href="#p30" stroke="url(#g30c)" stroke-width="1.9"/>
<use href="#p31" stroke="url(#g31)"/>
<use href="#p31" stroke="url(#g31a)" stroke-width="4.6"/>
<use href="#p31" stroke="url(#g31b)" stroke-width="3.4"/>
<use href="#p31" stroke="url(#g31c)" stroke-width="1.9"/>
<use href="#p32" stroke="url(#g32)"/>
<use href="#p32" stroke="url(#g32a)" stroke-width="4.6"/>
<use href="#p32" stroke="url(#g32b)" stroke-width="3.4"/>
<use href="#p32" stroke="url(#g32c)" stroke-width="1.9"/>
<use href="#p33" stroke="url(#g33)"/>
<use href="#p33" stroke="url(#g33a)" stroke-width="4.6"/>
<use href="#p33" stroke="url(#g33b)" stroke-width="3.4"/>
<use href="#p33" stroke="url(#g33c)" stroke-width="1.9"/>
<use href="#p34" stroke="url(#g34)"/>
<use href="#p34" stroke="url(#g34a)" stroke-width="4.6"/>
<use href="#p34" stroke="url(#g34b)" stroke-width="3.4"/>
<use href="#p34" stroke="url(#g34c)" stroke-width="1.9"/>
<use href="#p35" stroke="url(#g35)"/>
<use href="#p35" stroke="url(#g35a)" stroke-width="4.6"/>
<use href="#p35" stroke="url(#g35b)" stroke-width="3.4"/>
<use href="#p35" stroke="url(#g35c)" stroke-width="1.9"/>
<use href="#p36" stroke="url(#g36)"/>
<use href="#p36" stroke="url(#g36a)" stroke-width="4.6"/>
<use href="#p36" stroke="url(#g36b)" stroke-width="3.4"/>
<use href="#p36" stroke="url(#g36c)" stroke-width="1.9"/>
<use href="#p37" stroke="url(#g37)"/>
<use href="#p37" stroke="url(#g37a)" stroke-width="4.6"/>
<use href="#p37" stroke="url(#g37b)" stroke-width="3.4"/>
<use href="#p37" stroke="url(#g37c)" stroke-width="1.9"/>
<use href="#p38" stroke="url(#g38)"/>
<use href="#p38" stroke="url(#g38a)" stroke-width="4.6"/>
<use href="#p38" stroke="url(#g38b)" stroke-width="3.4"/>
<use href="#p38" stroke="url(#g38c)" stroke-width="1.9"/>
<use href="#p39" stroke="url(#g39)"/>
<use href="#p39" stroke="url(#g39a)" stroke-width="4.6"/>
<use href="#p39" stroke="url(#g39b)" stroke-width="3.4"/>
<use href="#p39" stroke="url(#g39c)" stroke-width="1.9"/>
<use href="#p40" stroke="url(#g40)"/>
<use href="#p40" stroke="url(#g40a)" stroke-width="4.6"/>
<use href="#p40" stroke="url(#g40b)" stroke-width="3.4"/>
<use href="#p40" stroke="url(#g40c)" stroke-width="1.9"/>
<use href="#p41" stroke="url(#g41)"/>
<use href="#p41" stroke="url(#g41a)" stroke-width="4.6"/>
<use href="#p41" stroke="url(#g41b)" stroke-width="3.4"/>
<use href="#p41" stroke="url(#g41c)" stroke-width="1.9"/>
<use href="#p42" stroke="url(#g42)"/>
<use href="#p42" stroke="url(#g42a)" stroke-width="4.6"/>
<use href="#p42" stroke="url(#g42b)" stroke-width="3.4"/>
<use href="#p42" stroke="url(#g42c)" stroke-width="1.9"/>
<use href="#p43" stroke="url(#g43)"/>
<use href="#p43" stroke="url(#g43a)" stroke-width="4.6"/>
<use href="#p43" stroke="url(#g43b)" stroke-width="3.4"/>
<use href="#p43" stroke="url(#g43c)" stroke-width="1.9"/>
<use href="#p44" stroke="url(#g44)"/>
<use href="#p44" stroke="url(#g44a)" stroke-width="4.6"/>
<use href="#p44" stroke="url(#g44b)" stroke-width="3.4"/>
<use href="#p44" stroke="url(#g44c)" stroke-width="1.9"/>
<use href="#p45" stroke="url(#g45)"/>
<use href="#p45" stroke="url(#g45a)" stroke-width="4.6"/>
<use href="#p45" stroke="url(#g45b)" stroke-width="3.4"/>
<use href="#p45" stroke="url(#g45c)" stroke-width="1.9"/>
<use href="#p46" stroke="url(#g46)"/>
<use href="#p46" stroke="url(#g46a)" stroke-width="4.6"/>
<use href="#p46" stroke="url(#g46b)" stroke-width="3.4"/>
<use href="#p46" stroke="url(#g46c)" stroke-width="1.9"/>
<use href="#p47" stroke="url(#g47)"/>
<use href="#p47" stroke="url(#g47a)" stroke-width="4.6"/>
<use href="#p47" stroke="url(#g47b)" stroke-width="3.4"/>
<use href="#p47" stroke="url(#g47c)" stroke-width="1.9"/>
<use href="#p48" stroke="url(#g48)"/>
<use href="#p48" stroke="url(#g48a)" stroke-width="4.6"/>
<use href="#p48" stroke="url(#g48b)" stroke-width="3.4"/>
<use href="#p48" stroke="url(#g48c)" stroke-width="1.9"/>
<use href="#p49" stroke="url(#g49)"/>
<use href="#p49" stroke="url(#g49a)" stroke-width="4.6"/>
<use href="#p49" stroke="url(#g49b)" stroke-width="3.4"/>
<use href="#p49" stroke="url(#g49c)" stroke-width="1.9"/>
<use href="#p50" stroke="url(#g50)"/>
<use href="#p50" stroke="url(#g50a)" stroke-width="4.6"/>
<use href="#p50" stroke="url(#g50b)" stroke-width="3.4"/>
<use href="#p50" stroke="url(#g50c)" stroke-width="1.9"/>
<use href="#p51" stroke="url(#g51)"/>
<use href="#p51" stroke="url(#g51a)" stroke-width="4.6"/>
<use href="#p51" stroke="url(#g51b)" stroke-width="3.4"/>
<use href="#p51" stroke="url(#g51c)" stroke-width="1.9"/>
<use href="#p52" stroke="url(#g52)"/>
<use href="#p52" stroke="url(#g52a)" stroke-width="4.6"/>
<use href="#p52" stroke="url(#g52b)" stroke-width="3.4"/>
<use href="#p52" stroke="url(#g52c)" stroke-width="1.9"/>
<use href="#p53" stroke="url(#g53)"/>
<use href="#p53" stroke="url(#g53a)" stroke-width="4.6"/>
<use href="#p53" stroke="url(#g53b)" stroke-width="3.4"/>
<use href="#p53" stroke="url(#g53c)" stroke-width="1.9"/>
<use href="#p54" stroke="url(#g54)"/>
<use href="#p54" stroke="url(#g54a)" stroke-width="4.6"/>
<use href="#p54" stroke="url(#g54b)" stroke-width="3.4"/>
<use href="#p54" stroke="url(#g54c)" stroke-width="1.9"/>
<use href="#p55" stroke="url(#g55)"/>
<use href="#p55" stroke="url(#g55a)" stroke-width="4.6"/>
<use href="#p55" stroke="url(#g55b)" stroke-width="3.4"/>
<use href="#p55" stroke="url(#g55c)" stroke-width="1.9"/>
<use href="#p56" stroke="url(#g56)"/>
<use href="#p56" stroke="url(#g56a)" stroke-width="4.6"/>
<use href="#p56" stroke="url(#g56b)" stroke-width="3.4"/>
<use href="#p56" stroke="url(#g56c)" stroke-width="1.9"/>
<use href="#p57" stroke="url(#g57)"/>
<use href="#p57" stroke="url(#g57a)" stroke-width="4.6"/>
<use href="#p57" stroke="url(#g57b)" stroke-width="3.4"/>
<use href="#p57" stroke="url(#g57c)" stroke-width="1.9"/>
<use href="#p58" stroke="url(#g58)"/>
<use href="#p58" stroke="url(#g58a)" stroke-width="4.6"/>
<use href="#p58" stroke="url(#g58b)" stroke-width="3.4"/>
<use href="#p58" stroke="url(#g58c)" stroke-width="1.9"/>
<use href="#p59" stroke="url(#g59)"/>
<use href="#p59" stroke="url(#g59a)" stroke-width="4.6"/>
<use href="#p59" stroke="url(#g59b)" stroke-width="3.4"/>
<use href="#p59" stroke="url(#g59c)" stroke-width="1.9"/>
<use href="#p60" stroke="url(#g60)"/>
<use href="#p60" stroke="url(#g60a)" stroke-width="4.6"/>
<use href="#p60" stroke="url(#g60b)" stroke-width="3.4"/>
<use href="#p60" stroke="url(#g60c)" stroke-width="1.9"/>
<use href="#p61" stroke="url(#g61)"/>
<use href="#p61" stroke="url(#g61a)" stroke-width="4.6"/>
<use href="#p61" stroke="url(#g61b)" stroke-width="3.4"/>
<use href="#p61" stroke="url(#g61c)" stroke-width="1.9"/>
<use href="#p62" stroke="url(#g62)"/>
<use href="#p62" stroke="url(#g62a)" stroke-width="4.6"/>
<use href="#p62" stroke="url(#g62b)" stroke-width="3.4"/>
<use href="#p62" stroke="url(#g62c)" stroke-width="1.9"/>
<use href="#p63" stroke="url(#g63)"/>
<use href="#p63" stroke="url(#g63a)" stroke-width="4.6"/>
<use href="#p63" stroke="url(#g63b)" stroke-width="3.4"/>
<use href="#p63" stroke="url(#g63c)" stroke-width="1.9"/>
<use href="#p64" stroke="url(#g64)"/>
<use href="#p64" stroke="url(#g64a)" stroke-width="4.6"/>
<use href="#p64" stroke="url(#g64b)" stroke-width="3.4"/>
<use href="#p64" stroke="url(#g64c)" stroke-width="1.9"/>
<use href="#p65" stroke="url(#g65)"/>
<use href="#p65" stroke="url(#g65a)" stroke-width="4.6"/>
<use href="#p65" stroke="url(#g65b)" stroke-width="3.4"/>
<use href="#p65" stroke="url(#g65c)" stroke-width="1.9"/>
<use href="#p66" stroke="url(#g66)"/>
<use href="#p66" stroke="url(#g66a)" stroke-width="4.6"/>
<use href="#p66" stroke="url(#g66b)" stroke-width="3.4"/>
<use href="#p66" stroke="url(#g66c)" stroke-width="1.9"/>
<use href="#p67" stroke="url(#g67)"/>
<use href="#p67" stroke="url(#g67a)" stroke-width="4.6"/>
<use href="#p67" stroke="url(#g67b)" stroke-width="3.4"/>
<use href="#p67" stroke="url(#g67c)" stroke-width="1.9"/>
<use href="#p68" stroke="url(#g68)"/>
<use href="#p68" stroke="url(#g68a)" stroke-width="4.6"/>
<use href="#p68" stroke="url(#g68b)" stroke-width="3.4"/>
<use href="#p68" stroke="url(#g68c)" stroke-width="1.9"/>
<use href="#p69" stroke="url(#g69)"/>
<use href="#p69" stroke="url(#g69a)" stroke-width="4.6"/>
<use href="#p69" stroke="url(#g69b)" stroke-width="3.4"/>
<use href="#p69" stroke="url(#g69c)" stroke-width="1.9"/>
<use href="#p70" stroke="url(#g70)"/>
<use href="#p70" stroke="url(#g70a)" stroke-width="4.6"/>
<use href="#p70" stroke="url(#g70b)" stroke-width="3.4"/>
<use href="#p70" stroke="url(#g70c)" stroke-width="1.9"/>
<use href="#p71" stroke="url(#g71)"/>
<use href="#p71" stroke="url(#g71a)" stroke-width="4.6"/>
<use href="#p71" stroke="url(#g71b)" stroke-width="3.4"/>
<use href="#p71" stroke="url(#g71c)" stroke-width="1.9"/>
<use href="#p72" stroke="url(#g72)"/>
<use href="#p72" stroke="url(#g72a)" stroke-width="4.6"/>
<use href="#p72" stroke="url(#g72b)" stroke-width="3.4"/>
<use href="#p72" stroke="url(#g72c)" stroke-width="1.9"/>
<use href="#p73" stroke="url(#g73)"/>
<use href="#p73" stroke="url(#g73a)" stroke-width="4.6"/>
<use href="#p73" stroke="url(#g73b)" stroke-width="3.4"/>
<use href="#p73" stroke="url(#g73c)" stroke-width="1.9"/>
<use href="#p74" stroke="url(#g74)"/>
<use href="#p74" stroke="url(#g74a)" stroke-width="4.6"/>
<use href="#p74" stroke="url(#g74b)" stroke-width="3.4"/>
<use href="#p74" stroke="url(#g74c)" stroke-width="1.9"/>
<use href="#p75" stroke="url(#g75)"/>
<use href="#p75" stroke="url(#g75a)" stroke-width="4.6"/>
<use href="#p75" stroke="url(#g75b)" stroke-width="3.4"/>
<use href="#p75" stroke="url(#g75c)" stroke-width="1.9"/>
<use href="#p76" stroke="url(#g76)"/>
<use href="#p76" stroke="url(#g76a)" stroke-width="4.6"/>
<use href="#p76" stroke="url(#g76b)" stroke-width="3.4"/>
<use href="#p76" stroke="url(#g76c)" stroke-width="1.9"/>
<use href="#p77" stroke="url(#g77)"/>
<use href="#p77" stroke="url(#g77a)" stroke-width="4.6"/>
<use href="#p77" stroke="url(#g77b)" stroke-width="3.4"/>
<use href="#p77" stroke="url(#g77c)" stroke-width="1.9"/>
<use href="#p78" stroke="url(#g78)"/>
<use href="#p78" stroke="url(#g78a)" stroke-width="4.6"/>
<use href="#p78" stroke="url(#g78b)" stroke-width="3.4"/>
<use href="#p78" stroke="url(#g78c)" stroke-width="1.9"/>
<use href="#p79" stroke="url(#g79)"/>
<use href="#p79" stroke="url(#g79a)" stroke-width="4.6"/>
<use href="#p79" stroke="url(#g79b)" stroke-width="3.4"/>
<use href="#p79" stroke="url(#g79c)" stroke-width="1.9"/>
<use href="#p80" stroke="url(#g80)"/>
<use href="#p80" stroke="url(#g80a)" stroke-width="4.6"/>
<use href="#p80" stroke="url(#g80b)" stroke-width="3.4"/>
<use href="#p80" stroke="url(#g80c)" stroke-width="1.9"/>
<use href="#p81" stroke="url(#g81)"/>
<use href="#p81" stroke="url(#g81a)" stroke-width="4.6"/>
<use href="#p81" stroke="url(#g81b)" stroke-width="3.4"/>
<use href="#p81" stroke="url(#g81c)" stroke-width="1.9"/>
<use href="#p82" stroke="url(#g82)"/>
<use href="#p82" stroke="url(#g82a)" stroke-width="4.6"/>
<use href="#p82" stroke="url(#g82b)" stroke-width="3.4"/>
<use href="#p82" stroke="url(#g82c)" stroke-width="1.9"/>
<use href="#p83" stroke="url(#g83)"/>
<use href="#p83" stroke="url(#g83a)" stroke-width="4.6"/>
<use href="#p83" stroke="url(#g83b)" stroke-width="3.4"/>
<use href="#p83" stroke="url(#g83c)" stroke-width="1.9"/>
<use href="#p84" stroke="url(#g84)"/>
<use href="#p84" stroke="url(#g84a)" stroke-width="4.6"/>
<use href="#p84" stroke="url(#g84b)" stroke-width="3.4"/>
<use href="#p84" stroke="url(#g84c)" stroke-width="1.9"/>
<use href="#p85" stroke="url(#g85)"/>
<use href="#p85" stroke="url(#g85a)" stroke-width="4.6"/>
<use href="#p85" stroke="url(#g85b)" stroke-width="3.4"/>
<use href="#p85" stroke="url(#g85c)" stroke-width="1.9"/>
<use href="#p86" stroke="url(#g86)"/>
<use href="#p86" stroke="url(#g86a)" stroke-width="4.6"/>
<use href="#p86" stroke="url(#g86b)" stroke-width="3.4"/>
<use href="#p86" stroke="url(#g86c)" stroke-width="1.9"/>
<use href="#p87" stroke="url(#g87)"/>
<use href="#p87" stroke="url(#g87a)" stroke-width="4.6"/>
<use href="#p87" stroke="url(#g87b)" stroke-width="3.4"/>
<use href="#p87" stroke="url(#g87c)" stroke-width="1.9"/>
<use href="#p88" stroke="url(#g88)"/>
<use href="#p88" stroke="url(#g88a)" stroke-width="4.6"/>
<use href="#p88" stroke="url(#g88b)" stroke-width="3.4"/>
<use href="#p88" stroke="url(#g88c)" stroke-width="1.9"/>
</g>
<circle cx="924.9" cy="80.0" r="2.9" fill="#c86774"/>
<circle cx="924.9" cy="85.2" r="2.9" fill="#975789"/>
<circle cx="924.9" cy="90.4" r="2.9" fill="#7c4c90"/>
<circle cx="924.9" cy="95.6" r="2.9" fill="#6a4495"/>
<circle cx="924.9" cy="100.8" r="2.9" fill="#604098"/>
<circle cx="924.9" cy="106.0" r="2.9" fill="#563c99"/>
<circle cx="924.9" cy="111.2" r="2.9" fill="#4b389a"/>
<circle cx="924.9" cy="116.4" r="2.9" fill="#4b389a"/>
<circle cx="924.9" cy="121.6" r="2.9" fill="#3f359a"/>
<circle cx="924.9" cy="126.8" r="2.9" fill="#3f359a"/>
<circle cx="924.9" cy="132.0" r="2.9" fill="#34329a"/>
<circle cx="924.9" cy="137.2" r="2.9" fill="#34329a"/>
<circle cx="924.9" cy="142.4" r="2.9" fill="#29318a"/>
<circle cx="924.9" cy="147.6" r="2.9" fill="#1d317b"/>
<circle cx="924.9" cy="152.8" r="2.9" fill="#1d317b"/>
<circle cx="924.9" cy="158.0" r="2.9" fill="#12306b"/>
<circle cx="924.9" cy="163.2" r="2.9" fill="#12306b"/>
<g fill="#032333"><circle cx="211.0" cy="60.3" r="2.9"/><circle cx="213.8" cy="60.3" r="2.9"/><circle cx="283.3" cy="60.3" r="2.9"/><circle cx="382.0" cy="60.3" r="2.9"/><circle cx="491.0" cy="60.3" r="2.9"/><circle cx="493.5" cy="60.3" r="2.9"/><circle cx="496.0" cy="60.3" r="2.9"/><circle cx="498.5" cy="60.3" r="2.9"/><circle cx="501.0" cy="60.3" r="2.9"/></g>
<g shape-rendering="crispEdges">
<rect x="1045.5" y="673.775" width="20.0" height="16.325" fill="#032333"/>
<rect x="1045.5" y="658.050" width="20.0" height="16.325" fill="#062741"/>
<rect x="1045.5" y="642.325" width="20.0" height="16.325" fill="#092a4f"/>
<rect x="1045.5" y="626.600" width="20.0" height="16.325" fill="#0b2e5c"/>
<rect x="1045.5" y="610.875" width="20.0" height="16.325" fill="#12306b"/>
<rect x="1045.5" y="595.150" width="20.0" height="16.325" fill="#1d317b"/>
<rect x="1045.5" y="579.425" width="20.0" height="16.325" fill="#29318a"/>
<rect x="1045.5" y="563.700" width="20.0" height="16.325" fill="#34329a"/>
<rect x="1045.5" y="547.975" width="20.0" height="16.325" fill="#3f359a"/>
<rect x="1045.5" y="532.250" width="20.0" height="16.325" fill="#4b389a"/>
<rect x="1045.5" y="516.525" width="20.0" height="16.325" fill="#563c99"/>
<rect x="1045.5" y="500.800" width="20.0" height="16.325" fill="#604098"/>
<rect x="1045.5" y="485.075" width="20.0" height="16.325" fill="#6a4495"/>
<rect x="1045.5" y="469.350" width="20.0" height="16.325" fill="#734892"/>
<rect x="1045.5" y="453.625" width="20.0" height="16.325" fill="#7c4c90"/>
<rect x="1045.5" y="437.900" width="20.0" height="16.325" fill="#85508d"/>
<rect x="1045.5" y="422.175" width="20.0" height="16.325" fill="#8e538b"/>
<rect x="1045.5" y="406.450" width="20.0" height="16.325" fill="#975789"/>
<rect x="1045.5" y="390.725" width="20.0" height="16.325" fill="#a15a86"/>
<rect x="1045.5" y="375.000" width="20.0" height="16.325" fill="#ab5d82"/>
<rect x="1045.5" y="359.275" width="20.0" height="16.325" fill="#b4607e"/>
<rect x="1045.5" y="343.550" width="20.0" height="16.325" fill="#be637a"/>
<rect x="1045.5" y="327.825" width="20.0" height="16.325" fill="#c86774"/>
<rect x="1045.5" y="312.100" width="20.0" height="16.325" fill="#d16a6d"/>
<rect x="1045.5" y="296.375" width="20.0" height="16.325" fill="#da6e67"/>
<rect x="1045.5" y="280.650" width="20.0" height="16.325" fill="#e27260"/>
<rect x="1045.5" y="264.925" width="20.0" height="16.325" fill="#e87a58"/>
<rect x="1045.5" y="249.200" width="20.0" height="16.325" fill="#ee8150"/>
<rect x="1045.5" y="233.475" width="20.0" height="16.325" fill="#f48848"/>
<rect x="1045.5" y="217.750" width="20.0" height="16.325" fill="#f79143"/>
<rect x="1045.5" y="202.025" width="20.0" height="16.325" fill="#f89b41"/>
<rect x="1045.5" y="186.300" width="20.0" height="16.325" fill="#faa43e"/>
<rect x="1045.5" y="170.575" width="20.0" height="16.325" fill="#fbae3c"/>
<rect x="1045.5" y="154.850" width="20.0" height="16.325" fill="#f9b93f"/>
<rect x="1045.5" y="139.125" width="20.0" height="16.325" fill="#f8c342"/>
<rect x="1045.5" y="123.400" width="20.0" height="16.325" fill="#f7ce45"/>
<rect x="1045.5" y="107.675" width="20.0" height="16.325" fill="#f4d949"/>
<rect x="1045.5" y="91.950" width="20.0" height="16.325" fill="#efe44f"/>
<rect x="1045.5" y="76.225" width="20.0" height="16.325" fill="#ebef54"/>
<rect x="1045.5" y="60.500" width="20.0" height="16.325" fill="#e7fa5a"/>
</g>
<rect x="1045.5" y="60.5" width="20.0" height="629.0" fill="none" stroke="#262626" stroke-width="1"/>
<g stroke="#262626" stroke-width="1">
<path d="M1065.5 610.88h-6.3"/>
<path d="M1065.5 532.25h-6.3"/>
<path d="M1065.5 453.62h-6.3"/>
<path d="M1065.5 375.00h-6.3"/>
<path d="M1065.5 296.38h-6.3"/>
<path d="M1065.5 217.75h-6.3"/>
<path d="M1065.5 139.12h-6.3"/>
</g>
<g font-family="'Liberation Sans', sans-serif" font-weight="bold" fill="#262626" style="opacity:.999">
<g font-size="18.67" text-anchor="end">
<text x="140.5" y="67.2">0</text>
<text x="140.5" y="137.2">-100</text>
<text x="140.5" y="207.2">-200</text>
<text x="140.5" y="277.2">-300</text>
<text x="140.5" y="347.2">-400</text>
<text x="140.5" y="417.2">-500</text>
<text x="140.5" y="487.2">-600</text>
<text x="140.5" y="557.2">-700</text>
<text x="140.5" y="627.2">-800</text>
<text x="140.5" y="697.2">-900</text>
<text transform="translate(155.8 712.6) rotate(-30)">29-Aug-2025</text>
<text transform="translate(265.0 712.6) rotate(-30)">31-Aug-2025</text>
<text transform="translate(374.3 712.6) rotate(-30)">02-Sep-2025</text>
<text transform="translate(483.5 712.6) rotate(-30)">04-Sep-2025</text>
<text transform="translate(592.8 712.6) rotate(-30)">06-Sep-2025</text>
<text transform="translate(702.0 712.6) rotate(-30)">08-Sep-2025</text>
<text transform="translate(811.2 712.6) rotate(-30)">10-Sep-2025</text>
<text transform="translate(920.5 712.6) rotate(-30)">12-Sep-2025</text>
<text transform="translate(1029.7 712.6) rotate(-30)">14-Sep-2025</text>
</g>
<g font-size="16.8">
<text x="1072" y="695.7">14</text>
<text x="1072" y="617.1">15</text>
<text x="1072" y="538.5">16</text>
<text x="1072" y="459.8">17</text>
<text x="1072" y="381.2">18</text>
<text x="1072" y="302.6">19</text>
<text x="1072" y="223.9">20</text>
<text x="1072" y="145.3">21</text>
<text x="1072" y="66.7">22</text>
</g>
<text font-size="20.8" text-anchor="middle" x="585.2" y="794.8">Time</text>
<text font-size="20.6" text-anchor="middle" transform="translate(94.2 374.5) rotate(-90)">Depth (m)</text>
</g>
</svg></body></html>
